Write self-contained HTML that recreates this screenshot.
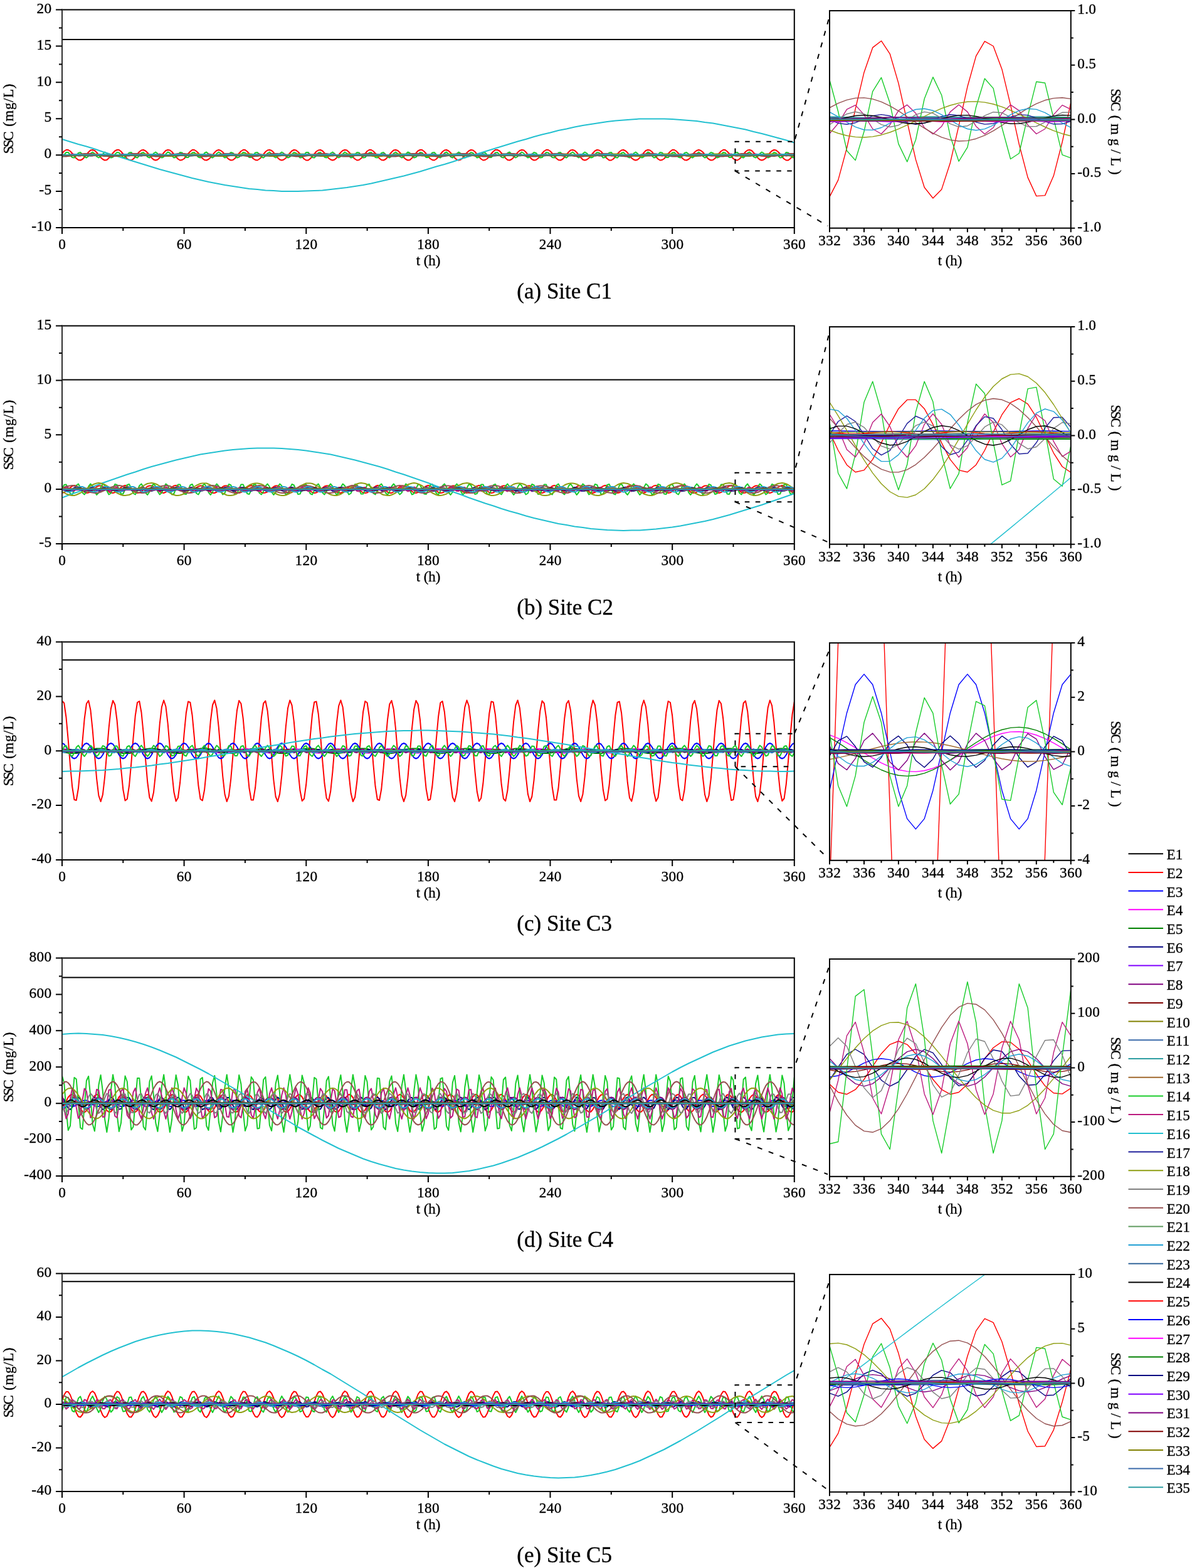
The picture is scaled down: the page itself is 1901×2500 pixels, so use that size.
<!DOCTYPE html><html><head><meta charset="utf-8"><title>SSC decomposition</title>
<style>html,body{margin:0;padding:0;background:#fff;}svg{display:block;}text{font-family:'Liberation Serif','Times New Roman',serif;fill:#000;}</style></head><body>
<svg width="1901" height="2500" viewBox="0 0 1901 2500">
<rect width="1901" height="2500" fill="#fff"/>
<defs><clipPath id="zc0"><rect x="1323.00" y="17.10" width="384.80" height="346.65"/></clipPath><clipPath id="mc0"><rect x="99.00" y="15.50" width="1167.80" height="347.50"/></clipPath></defs>
<g clip-path="url(#mc0)" fill="none" stroke-width="2" stroke-linejoin="round">
<line x1="99.0" y1="62.99" x2="1266.8" y2="62.99" stroke="#000"/>
</g>
<g clip-path="url(#mc0)"><g transform="translate(99.00 0) scale(3.24389 0.5)" fill="none" stroke-width="2" stroke-linejoin="round">
<path d="M0 489l1-7 1-4 1 0 1 4 1 7 1 9 1 7 1 5 1 1 1-3 1-7 1-8 1-8 1-6 1-1 1 2 1 6 1 8 1 8 1 6 1 3 1-1 1-6 1-8 1-8 1-7 1-3 1 0 1 5 1 8 1 8 1 7 1 4 1 1 1-4 1-7 1-9 1-7 1-5 1-1 1 3 1 6 1 8 1 8 1 6 1 2 1-2 1-6 1-8 1-8 1-7 1-2 1 1 1 5 1 8 1 8 1 7 1 4 1-1 1-4 1-8 1-8 1-7 1-5 1 0 1 4 1 6 1 9 1 8 1 5 1 1 1-3 1-6 1-8 1-8 1-6 1-2 1 2 1 5 1 8 1 9 1 6 1 3 1-1 1-5 1-8 1-8 1-7 1-4 1 0 1 5 1 7 1 8 1 8 1 4 1 1 1-4 1-6 1-9 1-8 1-5 1-1 1 2 1 6 1 9 1 8 1 6 1 2 1-2 1-5 1-8 1-8 1-7 1-3 1 1 1 5 1 7 1 8 1 8 1 4 1 0 1-5 1-7 1-8 1-8 1-4 1-1 1 3 1 7 1 8 1 8 1 5 1 2 1-2 1-6 1-9 1-8 1-6 1-2 1 1 1 6 1 7 1 9 1 6 1 4 1-1 1-5 1-7 1-8 1-8 1-4 1 0 1 4 1 7 1 8 1 8 1 5 1 1 1-3 1-7 1-8 1-8 1-6 1-1 1 2 1 6 1 8 1 8 1 6 1 3 1-1 1-6 1-7 1-9 1-7 1-3 1 0 1 5 1 7 1 9 1 7 1 4 1 1 1-4 1-7 1-8 1-8 1-5 1-1 1 3 1 6 1 8 1 8 1 6 1 2 1-2 1-6 1-8 1-8 1-6 1-3 1 1 1 5 1 8 1 8 1 7 1 4 1-1 1-4 1-7 1-9 1-7 1-5 1 0 1 3 1 7 1 8 1 8 1 6 1 1 1-3 1-6 1-8 1-8 1-6 1-2 1 1 1 6 1 8 1 8 1 7 1 3 1-1 1-5 1-7 1-9 1-7 1-4 1 0 1 4 1 7 1 9 1 7 1 5 1 1 1-3 1-7 1-8 1-8 1-6 1-1 1 2 1 6 1 8 1 8 1 7 1 2 1-2 1-5 1-8 1-8 1-7 1-3 1 1 1 4 1 8 1 8 1 7 1 5 1 0 1-4 1-7 1-9 1-7 1-5 1-1 1 3 1 6 1 9 1 8 1 5 1 2 1-2 1-6 1-8 1-8 1-7 1-2 1 1 1 5 1 8 1 8 1 7 1 4 1-1 1-4 1-8 1-8 1-7 1-5 1 0 1 4 1 7 1 8 1 8 1 5 1 1 1-3 1-6 1-9 1-8 1-5 1-2 1 2 1 5 1 8 1 9 1 6 1 3 1-1 1-5 1-8 1-8 1-7 1-4 1 0 1 5 1 7 1 8 1 8 1 4 1 1 1-4 1-7 1-8 1-8 1-5 1-1 1 2 1 7 1 8 1 8 1 6 1 2 1-2 1-5 1-8 1-9 1-6 1-3 1 1 1 5 1 7 1 9 1 7 1 4 1 0 1-5 1-7 1-8" stroke="#FF0000" vector-effect="non-scaling-stroke"/>
<path d="M0 494h360" stroke="#0000FF" vector-effect="non-scaling-stroke"/>
<path d="M0 494h360" stroke="#008000" vector-effect="non-scaling-stroke"/>
<path d="M0 494h360" stroke="#8000FF" vector-effect="non-scaling-stroke"/>
<path d="M0 494h360" stroke="#800000" vector-effect="non-scaling-stroke"/>
<path d="M0 494h360" stroke="#808000" vector-effect="non-scaling-stroke"/>
<path d="M0 494h360" stroke="#3A6AAA" vector-effect="non-scaling-stroke"/>
<path d="M0 494h360" stroke="#2E9EA2" vector-effect="non-scaling-stroke"/>
<path d="M0 494h360" stroke="#A0692E" vector-effect="non-scaling-stroke"/>
<path d="M0 502l1-8 1-8 1 0 1 8 1 8 1 1 1-7 1-8 1-2 1 6 1 8 1 3 1-5 1-9 1-4 1 5 1 9 1 4 1-4 1-8 1-6 1 4 1 8 1 6 1-2 1-9 1-6 1 1 1 8 1 7 1 0 1-8 1-7 1-1 1 7 1 8 1 2 1-7 1-8 1-2 1 6 1 8 1 3 1-5 1-9 1-4 1 5 1 9 1 4 1-3 1-9 1-6 1 3 1 9 1 6 1-2 1-8 1-7 1 1 1 8 1 7 1 0 1-7 1-8 1-1 1 7 1 8 1 2 1-6 1-9 1-3 1 6 1 9 1 3 1-5 1-8 1-5 1 4 1 9 1 5 1-3 1-9 1-5 1 2 1 8 1 7 1-2 1-8 1-7 1 1 1 7 1 8 1 0 1-7 1-8 1-1 1 6 1 9 1 2 1-6 1-8 1-4 1 6 1 8 1 4 1-4 1-9 1-5 1 4 1 9 1 5 1-3 1-8 1-6 1 2 1 8 1 7 1-1 1-8 1-8 1 0 1 8 1 8 1 1 1-7 1-9 1-1 1 6 1 9 1 2 1-5 1-9 1-4 1 5 1 9 1 4 1-4 1-8 1-6 1 4 1 8 1 6 1-2 1-9 1-6 1 1 1 8 1 8 1-1 1-8 1-7 1-1 1 7 1 9 1 1 1-7 1-8 1-2 1 6 1 8 1 3 1-5 1-9 1-4 1 5 1 9 1 4 1-3 1-9 1-6 1 3 1 9 1 6 1-2 1-8 1-7 1 1 1 8 1 7 1 0 1-7 1-8 1-1 1 7 1 8 1 2 1-6 1-9 1-3 1 6 1 9 1 3 1-5 1-8 1-5 1 4 1 9 1 5 1-3 1-9 1-5 1 2 1 8 1 7 1-2 1-8 1-7 1 1 1 7 1 8 1 0 1-7 1-8 1-1 1 7 1 8 1 2 1-6 1-9 1-3 1 6 1 8 1 4 1-4 1-9 1-5 1 4 1 9 1 5 1-3 1-8 1-6 1 2 1 8 1 7 1-1 1-8 1-8 1 1 1 7 1 8 1 1 1-7 1-9 1-1 1 6 1 9 1 2 1-6 1-8 1-4 1 5 1 9 1 4 1-4 1-9 1-5 1 4 1 8 1 6 1-2 1-9 1-6 1 1 1 8 1 8 1-1 1-8 1-7 1-1 1 8 1 8 1 1 1-7 1-8 1-2 1 6 1 8 1 3 1-5 1-9 1-4 1 5 1 9 1 4 1-3 1-9 1-6 1 3 1 9 1 6 1-2 1-8 1-7 1 1 1 8 1 7 1 0 1-7 1-8 1-1 1 7 1 8 1 2 1-7 1-8 1-2 1 5 1 9 1 3 1-5 1-8 1-5 1 5 1 8 1 5 1-3 1-9 1-5 1 2 1 8 1 7 1-2 1-8 1-7 1 1 1 8 1 7 1 0 1-7 1-8 1-1 1 7 1 8 1 2 1-6 1-9 1-3 1 6 1 9 1 3 1-4 1-9 1-5 1 4 1 9 1 5 1-3 1-8 1-6 1 2 1 8 1 7 1-1 1-8 1-8 1 1 1 7 1 8 1 1" stroke="#18CC2A" vector-effect="non-scaling-stroke"/>
<path d="M0 492l1 3 1 2 1-1 1-3 1-2 1 1 1 3 1 2 1 0 1-3 1-3 1 1 1 3 1 2 1 0 1-3 1-2 1 0 1 2 1 3 1 0 1-3 1-2 1 0 1 2 1 3 1 0 1-2 1-3 1-1 1 3 1 3 1 0 1-2 1-3 1-1 1 2 1 3 1 1 1-2 1-3 1-1 1 2 1 3 1 1 1-1 1-3 1-2 1 2 1 3 1 1 1-1 1-3 1-2 1 2 1 3 1 1 1-1 1-3 1-2 1 1 1 3 1 2 1-1 1-3 1-2 1 1 1 3 1 2 1 0 1-3 1-3 1 1 1 3 1 2 1 0 1-3 1-2 1 0 1 2 1 3 1 0 1-3 1-2 1 0 1 2 1 3 1 0 1-2 1-3 1-1 1 3 1 3 1 0 1-2 1-3 1-1 1 2 1 3 1 1 1-2 1-3 1-1 1 2 1 3 1 1 1-1 1-3 1-2 1 2 1 3 1 1 1-1 1-3 1-2 1 1 1 4 1 1 1-1 1-3 1-2 1 1 1 3 1 2 1 0 1-3 1-3 1 1 1 3 1 2 1 0 1-3 1-3 1 1 1 3 1 2 1 0 1-3 1-2 1 0 1 2 1 3 1 0 1-2 1-3 1-1 1 3 1 3 1 0 1-2 1-3 1-1 1 3 1 3 1 0 1-2 1-3 1-1 1 2 1 3 1 1 1-1 1-4 1-1 1 2 1 3 1 1 1-1 1-3 1-2 1 2 1 3 1 1 1-1 1-3 1-2 1 1 1 3 1 2 1-1 1-3 1-2 1 1 1 3 1 2 1 0 1-3 1-3 1 1 1 3 1 2 1 0 1-3 1-2 1 0 1 2 1 3 1 0 1-3 1-2 1 0 1 2 1 3 1 0 1-2 1-3 1-1 1 3 1 3 1 0 1-2 1-3 1-1 1 3 1 2 1 1 1-2 1-3 1-1 1 2 1 3 1 1 1-1 1-3 1-2 1 2 1 3 1 1 1-1 1-3 1-2 1 2 1 3 1 1 1-1 1-3 1-2 1 1 1 3 1 2 1-1 1-3 1-2 1 1 1 3 1 2 1 0 1-3 1-3 1 1 1 3 1 2 1 0 1-3 1-2 1 0 1 2 1 3 1 0 1-3 1-2 1 0 1 2 1 3 1 0 1-2 1-3 1-1 1 3 1 3 1 0 1-2 1-3 1-1 1 2 1 3 1 1 1-2 1-3 1-1 1 2 1 3 1 1 1-1 1-3 1-2 1 2 1 3 1 1 1-1 1-3 1-2 1 2 1 3 1 1 1-1 1-3 1-2 1 1 1 3 1 2 1 0 1-3 1-3 1 1 1 3 1 2 1 0 1-3 1-3 1 1 1 3 1 2 1 0 1-3 1-2 1 0 1 2 1 3 1 0 1-2 1-3 1-1 1 3 1 3 1 0 1-2 1-3 1-1 1 3 1 3 1 0 1-2 1-3 1-1 1 2 1 3 1 1 1-2 1-3 1-1 1 2 1 3 1 1 1-1 1-3 1-2 1 2 1 3 1 1 1-1 1-3 1-2 1 1 1 3 1 2 1-1 1-3 1-2 1 1" stroke="#BB1A7E" vector-effect="non-scaling-stroke"/>
<path d="M0 444l4 8 4 8 4 7 4 8 4 9 4 8 4 8 4 8 4 8 4 8 4 8 4 8 4 7 4 7 4 7 4 7 4 6 4 6 4 5 4 5 4 4 4 4 4 4 4 2 4 3 4 1 4 2 4 0 4 0 4-1 4-1 4-1 4-3 4-3 4-3 4-4 4-4 4-5 4-6 4-6 4-6 4-6 4-7 4-7 4-8 4-8 4-7 4-8 4-9 4-8 4-8 4-8 4-8 4-8 4-8 4-8 4-7 4-8 4-7 4-6 4-7 4-5 4-6 4-5 4-4 4-4 4-4 4-3 4-2 4-2 4-2 4 0 4 0 4 0 4 1 4 2 4 2 4 2 4 4 4 3 4 5 4 5 4 5 4 5 4 7 4 6 4 7 4 7 4 7 4 8" stroke="#22C0D0" vector-effect="non-scaling-stroke"/>
<path d="M0 494h360" stroke="#1E1E9A" vector-effect="non-scaling-stroke"/>
<path d="M0 498l1 0 1 0 1-1 1 0 1-1 1-1 1-1 1-1 1-1 1 0 1-1 1 0 1 0 1 0 1 0 1 0 1 1 1 1 1 1 1 1 1 1 1 0 1 1 1 1 1 0 1 0 1 0 1 0 1-1 1-1 1 0 1-1 1-1 1-1 1-1 1-1 1 0 1 0 1 0 1 0 1 0 1 1 1 0 1 1 1 1 1 1 1 1 1 1 1 0 1 1 1 0 1 0 1 0 1 0 1-1 1-1 1 0 1-1 1-1 1-1 1-1 1-1 1 0 1 0 1 0 1 0 1 0 1 1 1 0 1 1 1 1 1 1 1 1 1 1 1 0 1 1 1 0 1 0 1 0 1 0 1-1 1-1 1-1 1-1 1-1 1 0 1-1 1-1 1 0 1 0 1 0 1 0 1 0 1 1 1 1 1 0 1 1 1 1 1 1 1 1 1 0 1 1 1 0 1 0 1 0 1-1 1 0 1-1 1-1 1-1 1-1 1-1 1 0 1-1 1 0 1 0 1 0 1 0 1 0 1 1 1 1 1 1 1 0 1 1 1 1 1 1 1 1 1 0 1 0 1 0 1 0 1-1 1 0 1-1 1-1 1-1 1-1 1-1 1 0 1-1 1 0 1 0 1 0 1 0 1 0 1 1 1 1 1 1 1 1 1 1 1 0 1 1 1 1 1 0 1 0 1 0 1 0 1-1 1 0 1-1 1-1 1-1 1-1 1-1 1-1 1 0 1 0 1 0 1 0 1 0 1 0 1 1 1 1 1 1 1 1 1 1 1 1 1 0 1 1 1 0 1 0 1 0 1 0 1-1 1-1 1 0 1-1 1-1 1-1 1-1 1-1 1 0 1 0 1 0 1 0 1 0 1 1 1 0 1 1 1 1 1 1 1 1 1 1 1 0 1 1 1 0 1 0 1 0 1 0 1-1 1-1 1-1 1 0 1-1 1-1 1-1 1-1 1 0 1 0 1 0 1 0 1 0 1 1 1 0 1 1 1 1 1 1 1 1 1 1 1 0 1 1 1 0 1 0 1 0 1 0 1-1 1-1 1-1 1-1 1-1 1 0 1-1 1-1 1 0 1 0 1 0 1 0 1 0 1 1 1 1 1 0 1 1 1 1 1 1 1 1 1 1 1 0 1 0 1 0 1 0 1-1 1 0 1-1 1-1 1-1 1-1 1-1 1 0 1-1 1 0 1 0 1 0 1 0 1 0 1 1 1 1 1 1 1 1 1 0 1 1 1 1 1 1 1 0 1 0 1 0 1 0 1-1 1 0 1-1 1-1 1-1 1-1 1-1 1 0 1-1 1 0 1 0 1 0 1 0 1 0 1 1 1 1 1 1 1 1 1 1 1 0 1 1 1 1 1 0 1 0 1 0 1 0 1-1 1-1 1 0 1-1 1-1 1-1 1-1 1-1 1 0 1 0 1 0 1 0 1 0 1 1 1 0 1 1 1 1 1 1 1 1 1 1 1 0 1 1 1 0 1 0 1 0 1 0 1-1 1-1 1 0 1-1 1-1 1-1 1-1 1-1 1 0 1 0 1 0 1 0 1 0 1 1 1 0 1 1 1 1 1 1 1 1 1 1 1 0 1 1" stroke="#8E9E12" vector-effect="non-scaling-stroke"/>
<path d="M0 493l1 0 1 2 1 1 1 0 1-1 1-1 1-1 1 0 1 0 1 1 1 1 1 1 1 0 1-2 1-1 1 0 1 0 1 1 1 1 1 1 1 0 1-1 1-2 1 0 1 0 1 1 1 1 1 1 1 0 1-1 1-1 1-1 1 0 1 1 1 1 1 1 1 0 1-1 1-1 1-1 1 0 1 1 1 1 1 1 1 0 1-1 1-1 1-1 1 0 1 0 1 2 1 1 1 0 1-1 1-1 1-1 1 0 1 0 1 1 1 1 1 1 1 0 1-2 1-1 1 0 1 0 1 1 1 1 1 1 1 0 1-1 1-2 1 0 1 0 1 1 1 1 1 1 1 0 1-1 1-1 1-1 1 0 1 1 1 1 1 1 1 0 1-1 1-1 1-1 1 0 1 0 1 2 1 1 1 0 1-1 1-1 1-1 1 0 1 0 1 1 1 2 1 0 1-1 1-1 1-1 1 0 1 0 1 1 1 1 1 1 1 0 1-1 1-2 1 0 1 0 1 1 1 1 1 1 1 0 1-1 1-1 1-1 1 0 1 1 1 1 1 1 1 0 1-1 1-1 1-1 1 0 1 1 1 1 1 1 1 0 1-1 1-1 1-1 1 0 1 0 1 2 1 1 1 0 1-1 1-1 1-1 1 0 1 0 1 1 1 1 1 1 1 0 1-2 1-1 1 0 1 0 1 1 1 1 1 1 1 0 1-1 1-2 1 0 1 0 1 1 1 1 1 1 1 0 1-1 1-1 1-1 1 0 1 1 1 1 1 1 1 0 1-1 1-1 1-1 1 0 1 1 1 1 1 1 1 0 1-1 1-1 1-1 1 0 1 0 1 2 1 1 1 0 1-1 1-1 1-1 1 0 1 0 1 1 1 1 1 1 1 0 1-2 1-1 1 0 1 0 1 1 1 1 1 1 1 0 1-1 1-1 1-1 1 0 1 1 1 1 1 1 1 0 1-1 1-1 1-1 1 0 1 1 1 1 1 1 1 0 1-1 1-1 1-1 1 0 1 0 1 2 1 1 1 0 1-1 1-1 1-1 1 0 1 0 1 1 1 2 1 0 1-1 1-1 1-1 1 0 1 0 1 1 1 1 1 1 1 0 1-1 1-2 1 0 1 0 1 1 1 1 1 1 1 0 1-1 1-1 1-1 1 0 1 1 1 1 1 1 1 0 1-1 1-1 1-1 1 0 1 1 1 1 1 1 1 0 1-1 1-1 1-1 1 0 1 0 1 2 1 1 1 0 1-1 1-1 1-1 1 0 1 0 1 1 1 1 1 1 1 0 1-2 1-1 1 0 1 0 1 1 1 1 1 1 1 0 1-1 1-2 1 0 1 0 1 1 1 1 1 1 1 0 1-1 1-1 1-1 1 0 1 1 1 1 1 1 1 0 1-1 1-1 1-1 1 0 1 1 1 1 1 1 1 0 1-1 1-1 1-1 1 0 1 0 1 1 1 2 1 0 1-1 1-1 1-1 1 0 1 0 1 1 1 1 1 1 1 0 1-2 1-1 1 0 1 0 1 1 1 1 1 1 1 0 1-1 1-1 1-1 1 0 1 1 1 1 1 1 1 0 1-1 1-1 1-1 1 0" stroke="#808080" vector-effect="non-scaling-stroke"/>
<path d="M0 499l1 0 1 0 1-1 1-1 1-1 1-1 1-1 1-1 1-2 1 0 1-1 1 0 1 0 1 0 1 1 1 1 1 1 1 1 1 1 1 2 1 1 1 0 1 1 1 0 1 0 1-1 1-1 1-1 1-1 1-1 1-1 1-1 1-1 1-1 1 0 1 0 1 0 1 1 1 1 1 1 1 1 1 1 1 2 1 1 1 0 1 1 1 0 1 0 1-1 1-1 1-1 1-1 1-1 1-1 1-1 1-1 1-1 1 0 1 0 1 0 1 1 1 1 1 1 1 1 1 1 1 1 1 1 1 1 1 1 1 0 1 0 1-1 1 0 1-1 1-2 1-1 1-1 1-1 1-1 1-1 1 0 1 0 1 0 1 1 1 1 1 1 1 1 1 1 1 1 1 1 1 1 1 1 1 0 1 0 1-1 1 0 1-1 1-1 1-2 1-1 1-1 1-1 1-1 1 0 1 0 1 0 1 1 1 0 1 2 1 1 1 1 1 1 1 1 1 1 1 1 1 0 1 0 1-1 1 0 1-1 1-1 1-2 1-1 1-1 1-1 1-1 1 0 1 0 1 0 1 0 1 1 1 1 1 2 1 1 1 1 1 1 1 1 1 1 1 0 1 0 1 0 1-1 1-1 1-1 1-1 1-2 1-1 1-1 1-1 1 0 1 0 1 0 1 0 1 1 1 1 1 1 1 2 1 1 1 1 1 1 1 1 1 0 1 0 1 0 1-1 1-1 1-1 1-1 1-2 1-1 1-1 1-1 1 0 1 0 1 0 1 0 1 1 1 1 1 1 1 2 1 1 1 1 1 1 1 1 1 0 1 0 1 0 1-1 1-1 1-1 1-1 1-1 1-2 1-1 1-1 1 0 1 0 1 0 1 0 1 1 1 1 1 1 1 1 1 2 1 1 1 1 1 1 1 0 1 0 1 0 1-1 1-1 1-1 1-1 1-1 1-2 1-1 1 0 1-1 1 0 1 0 1 0 1 1 1 1 1 1 1 1 1 2 1 1 1 1 1 0 1 1 1 0 1 0 1-1 1-1 1-1 1-1 1-1 1-1 1-2 1 0 1-1 1 0 1 0 1 0 1 1 1 1 1 1 1 1 1 1 1 2 1 1 1 0 1 1 1 0 1 0 1-1 1-1 1-1 1-1 1-1 1-1 1-1 1-1 1-1 1 0 1 0 1 0 1 1 1 1 1 1 1 1 1 1 1 2 1 1 1 0 1 1 1 0 1 0 1-1 1-1 1-1 1-1 1-1 1-1 1-1 1-1 1-1 1 0 1 0 1 0 1 1 1 1 1 1 1 1 1 1 1 1 1 1 1 1 1 1 1 0 1 0 1-1 1 0 1-1 1-2 1-1 1-1 1-1 1-1 1-1 1 0 1 0 1 0 1 1 1 1 1 1 1 1 1 1 1 1 1 1 1 1 1 1 1 0 1 0 1-1 1 0 1-1 1-2 1-1 1-1 1-1 1-1 1-1 1 0 1 0 1 0 1 1 1 0 1 2 1 1 1 1 1 1 1 1 1 1 1 1 1 0 1 0 1-1 1 0 1-1 1-1 1-2 1-1 1-1 1-1 1-1 1 0 1 0 1 0" stroke="#955050" vector-effect="non-scaling-stroke"/>
<path d="M0 495h360" stroke="#5E9A5E" vector-effect="non-scaling-stroke"/>
<path d="M0 496l1 1 1-1 1 0 1-1 1-1 1-1 1-1 1 0 1 1 1 1 1 1 1 1 1 1 1 0 1-1 1-1 1-1 1-1 1-1 1 0 1 0 1 1 1 1 1 1 1 1 1 1 1-1 1 0 1-1 1-2 1-1 1 0 1 0 1 1 1 1 1 1 1 1 1 1 1 0 1-1 1-1 1-1 1-1 1-1 1 0 1 0 1 1 1 2 1 1 1 0 1 1 1-1 1-1 1-1 1-1 1-1 1 0 1 0 1 1 1 1 1 1 1 1 1 1 1 0 1-1 1-1 1-1 1-1 1-1 1 0 1 1 1 1 1 1 1 1 1 0 1 1 1-1 1-1 1-1 1-1 1-1 1 0 1 0 1 1 1 1 1 1 1 1 1 1 1-1 1 0 1-1 1-1 1-1 1-1 1 0 1 1 1 1 1 1 1 1 1 1 1 0 1-1 1-1 1-1 1-1 1-1 1 0 1 0 1 1 1 1 1 2 1 0 1 1 1-1 1 0 1-2 1-1 1-1 1 0 1 0 1 1 1 1 1 1 1 1 1 1 1 0 1-1 1-1 1-1 1-1 1-1 1 0 1 1 1 0 1 2 1 1 1 0 1 1 1-1 1-1 1-1 1-1 1-1 1 0 1 0 1 1 1 1 1 1 1 1 1 1 1 0 1-1 1-1 1-1 1-1 1-1 1 0 1 1 1 1 1 1 1 1 1 1 1 0 1-1 1-1 1-1 1-1 1-1 1 0 1 0 1 1 1 1 1 1 1 1 1 1 1-1 1 0 1-1 1-2 1 0 1-1 1 0 1 1 1 1 1 1 1 1 1 1 1 0 1-1 1-1 1-1 1-1 1-1 1 0 1 0 1 1 1 1 1 2 1 0 1 1 1-1 1 0 1-2 1-1 1-1 1 0 1 0 1 1 1 1 1 1 1 1 1 1 1 0 1-1 1-1 1-1 1-1 1-1 1 0 1 1 1 1 1 1 1 1 1 0 1 1 1-1 1-1 1-1 1-1 1-1 1 0 1 0 1 1 1 1 1 1 1 1 1 1 1-1 1 0 1-1 1-1 1-1 1-1 1 0 1 1 1 1 1 1 1 1 1 1 1 0 1-1 1-1 1-1 1-1 1-1 1 0 1 0 1 1 1 1 1 1 1 1 1 1 1-1 1 0 1-1 1-2 1-1 1 0 1 0 1 1 1 1 1 1 1 1 1 1 1 0 1-1 1-1 1-1 1-1 1-1 1 0 1 0 1 1 1 2 1 1 1 0 1 1 1-1 1-1 1-1 1-1 1-1 1 0 1 0 1 1 1 1 1 1 1 1 1 1 1 0 1-1 1-1 1-1 1-1 1-1 1 0 1 1 1 1 1 1 1 1 1 0 1 1 1-1 1-1 1-1 1-1 1-1 1 0 1 0 1 1 1 1 1 1 1 1 1 1 1-1 1 0 1-1 1-1 1-1 1-1 1 0 1 1 1 1 1 1 1 1 1 1 1 0 1-1 1-1 1-1 1-1 1-1 1 0 1 0 1 1 1 1 1 2 1 0 1 1 1-1 1 0 1-2 1-1 1-1 1 0 1 0 1 1 1 1 1 1 1 1" stroke="#22A0D4" vector-effect="non-scaling-stroke"/>
<path d="M0 494h360" stroke="#33669A" vector-effect="non-scaling-stroke"/>
<path d="M0 494h360" stroke="#000000" vector-effect="non-scaling-stroke"/>
<path d="M0 495h360" stroke="#FF0000" vector-effect="non-scaling-stroke"/>
<path d="M0 494h360" stroke="#0000FF" vector-effect="non-scaling-stroke"/>
<path d="M0 495h360" stroke="#FF00FF" vector-effect="non-scaling-stroke"/>
<path d="M0 494h360" stroke="#008000" vector-effect="non-scaling-stroke"/>
<path d="M0 495h360" stroke="#000080" vector-effect="non-scaling-stroke"/>
<path d="M0 494h360" stroke="#8000FF" vector-effect="non-scaling-stroke"/>
<path d="M0 494h360" stroke="#800080" vector-effect="non-scaling-stroke"/>
<path d="M0 495h360" stroke="#800000" vector-effect="non-scaling-stroke"/>
<path d="M0 495h360" stroke="#808000" vector-effect="non-scaling-stroke"/>
<path d="M0 494h360" stroke="#3A6AAA" vector-effect="non-scaling-stroke"/>
<path d="M0 494h360" stroke="#2E9EA2" vector-effect="non-scaling-stroke"/>
</g>
</g>
<g clip-path="url(#zc0)" fill="none" stroke-width="1.4" stroke-linejoin="round">
<polyline points="1323.0,313.9 1336.7,287.1 1350.5,236.1 1364.2,173.6 1378.0,115.4 1391.7,75.9 1405.5,65.2 1419.2,85.8 1432.9,132.6 1446.7,193.9 1460.4,254.4 1474.2,298.8 1487.9,316.0 1501.7,301.9 1515.4,259.7 1529.1,200.3 1542.9,138.3 1556.6,89.4 1570.4,65.8 1584.1,73.5 1597.9,110.4 1611.6,167.4 1625.3,230.1 1639.1,282.9 1652.8,312.6 1666.6,311.6 1680.3,280.3 1694.1,226.5 1707.8,163.6" stroke="#FF0000"/>
<polyline points="1323.0,188.2 1336.7,187.3 1350.5,187.3 1364.2,188.1 1378.0,189.1 1391.7,189.2 1405.5,188.4 1419.2,187.4 1432.9,187.2 1446.7,187.9 1460.4,188.9 1474.2,189.3 1487.9,188.6 1501.7,187.6 1515.4,187.2 1529.1,187.7 1542.9,188.7 1556.6,189.3 1570.4,188.8 1584.1,187.8 1597.9,187.2 1611.6,187.5 1625.3,188.5 1639.1,189.2 1652.8,189.0 1666.6,188.0 1680.3,187.2 1694.1,187.4 1707.8,188.3" stroke="#0000FF"/>
<polyline points="1323.0,188.3 1336.7,188.2 1350.5,188.0 1364.2,187.9 1378.0,187.8 1391.7,187.6 1405.5,187.5 1419.2,187.4 1432.9,187.3 1446.7,187.2 1460.4,187.1 1474.2,187.0 1487.9,186.9 1501.7,186.9 1515.4,186.9 1529.1,186.9 1542.9,186.9 1556.6,186.9 1570.4,187.0 1584.1,187.0 1597.9,187.1 1611.6,187.2 1625.3,187.3 1639.1,187.5 1652.8,187.6 1666.6,187.7 1680.3,187.8 1694.1,188.0 1707.8,188.1" stroke="#008000"/>
<polyline points="1323.0,190.1 1336.7,190.2 1350.5,190.3 1364.2,190.4 1378.0,190.5 1391.7,190.5 1405.5,190.4 1419.2,190.3 1432.9,190.2 1446.7,190.1 1460.4,190.0 1474.2,190.0 1487.9,190.1 1501.7,190.1 1515.4,190.2 1529.1,190.4 1542.9,190.4 1556.6,190.5 1570.4,190.4 1584.1,190.4 1597.9,190.3 1611.6,190.2 1625.3,190.1 1639.1,190.0 1652.8,190.0 1666.6,190.1 1680.3,190.2 1694.1,190.3 1707.8,190.4" stroke="#8000FF"/>
<polyline points="1323.0,191.6 1336.7,191.0 1350.5,190.5 1364.2,190.2 1378.0,190.1 1391.7,190.3 1405.5,190.7 1419.2,191.2 1432.9,191.7 1446.7,192.1 1460.4,192.2 1474.2,192.1 1487.9,191.8 1501.7,191.3 1515.4,190.7 1529.1,190.3 1542.9,190.1 1556.6,190.2 1570.4,190.5 1584.1,191.0 1597.9,191.5 1611.6,191.9 1625.3,192.2 1639.1,192.2 1652.8,191.9 1666.6,191.5 1680.3,191.0 1694.1,190.5 1707.8,190.2" stroke="#800000"/>
<polyline points="1323.0,190.0 1336.7,189.9 1350.5,190.0 1364.2,190.3 1378.0,190.7 1391.7,191.1 1405.5,191.5 1419.2,191.6 1432.9,191.5 1446.7,191.2 1460.4,190.8 1474.2,190.4 1487.9,190.0 1501.7,189.9 1515.4,190.0 1529.1,190.3 1542.9,190.7 1556.6,191.1 1570.4,191.5 1584.1,191.6 1597.9,191.5 1611.6,191.2 1625.3,190.8 1639.1,190.4 1652.8,190.0 1666.6,189.9 1680.3,190.0 1694.1,190.3 1707.8,190.7" stroke="#808000"/>
<polyline points="1323.0,187.1 1336.7,187.2 1350.5,187.3 1364.2,187.4 1378.0,187.5 1391.7,187.6 1405.5,187.6 1419.2,187.5 1432.9,187.5 1446.7,187.4 1460.4,187.2 1474.2,187.2 1487.9,187.1 1501.7,187.2 1515.4,187.2 1529.1,187.3 1542.9,187.4 1556.6,187.5 1570.4,187.6 1584.1,187.6 1597.9,187.5 1611.6,187.4 1625.3,187.3 1639.1,187.2 1652.8,187.1 1666.6,187.1 1680.3,187.2 1694.1,187.3 1707.8,187.4" stroke="#3A6AAA"/>
<polyline points="1323.0,186.0 1336.7,186.3 1350.5,186.7 1364.2,187.2 1378.0,187.6 1391.7,187.8 1405.5,187.8 1419.2,187.6 1432.9,187.2 1446.7,186.7 1460.4,186.3 1474.2,186.0 1487.9,185.9 1501.7,186.1 1515.4,186.4 1529.1,186.9 1542.9,187.3 1556.6,187.7 1570.4,187.9 1584.1,187.8 1597.9,187.5 1611.6,187.1 1625.3,186.6 1639.1,186.2 1652.8,185.9 1666.6,185.9 1680.3,186.2 1694.1,186.6 1707.8,187.0" stroke="#2E9EA2"/>
<polyline points="1323.0,189.8 1336.7,189.9 1350.5,190.0 1364.2,190.1 1378.0,190.2 1391.7,190.3 1405.5,190.4 1419.2,190.5 1432.9,190.6 1446.7,190.7 1460.4,190.7 1474.2,190.8 1487.9,190.9 1501.7,190.9 1515.4,191.0 1529.1,191.0 1542.9,191.0 1556.6,191.0 1570.4,191.0 1584.1,191.0 1597.9,190.9 1611.6,190.9 1625.3,190.8 1639.1,190.7 1652.8,190.7 1666.6,190.6 1680.3,190.5 1694.1,190.4 1707.8,190.3" stroke="#A0692E"/>
<polyline points="1323.0,127.5 1336.7,178.0 1350.5,240.2 1364.2,255.6 1378.0,209.8 1391.7,145.8 1405.5,123.7 1419.2,164.3 1432.9,229.4 1446.7,257.9 1460.4,223.0 1474.2,157.5 1487.9,122.9 1501.7,151.7 1515.4,216.9 1529.1,257.2 1542.9,234.8 1556.6,170.7 1570.4,125.2 1584.1,140.9 1597.9,203.2 1611.6,253.5 1625.3,244.5 1639.1,184.8 1652.8,130.3 1666.6,132.3 1680.3,188.9 1694.1,246.9 1707.8,251.9" stroke="#18CC2A"/>
<polyline points="1323.0,213.0 1336.7,196.8 1350.5,174.4 1364.2,167.6 1378.0,182.9 1391.7,205.5 1405.5,213.5 1419.2,199.2 1432.9,176.3 1446.7,167.2 1460.4,180.6 1474.2,203.5 1487.9,213.8 1501.7,201.4 1515.4,178.4 1529.1,167.0 1542.9,178.4 1556.6,201.4 1570.4,213.8 1584.1,203.5 1597.9,180.6 1611.6,167.2 1625.3,176.3 1639.1,199.2 1652.8,213.5 1666.6,205.5 1680.3,182.9 1694.1,167.6 1707.8,174.4" stroke="#BB1A7E"/>
<polyline points="1323.0,-457.1 1336.7,-446.8 1350.5,-436.3 1364.2,-425.6 1378.0,-414.7 1391.7,-403.6 1405.5,-392.3 1419.2,-380.8 1432.9,-369.2 1446.7,-357.4 1460.4,-345.4 1474.2,-333.2 1487.9,-320.9 1501.7,-308.4 1515.4,-295.8 1529.1,-283.0 1542.9,-270.0 1556.6,-256.9 1570.4,-243.7 1584.1,-230.3 1597.9,-216.8 1611.6,-203.2 1625.3,-189.5 1639.1,-175.6 1652.8,-161.6 1666.6,-147.5 1680.3,-133.3 1694.1,-119.0 1707.8,-104.6" stroke="#22C0D0"/>
<polyline points="1323.0,191.2 1336.7,196.4 1350.5,198.2 1364.2,195.7 1378.0,190.2 1391.7,184.8 1405.5,182.6 1419.2,184.8 1432.9,190.2 1446.7,195.7 1460.4,198.2 1474.2,196.4 1487.9,191.2 1501.7,185.6 1515.4,182.7 1529.1,184.1 1542.9,189.1 1556.6,194.8 1570.4,198.1 1584.1,197.0 1597.9,192.3 1611.6,186.5 1625.3,182.9 1639.1,183.6 1652.8,188.1 1666.6,193.9 1680.3,197.8 1694.1,197.5 1707.8,193.3" stroke="#1E1E9A"/>
<polyline points="1323.0,207.4 1336.7,212.5 1350.5,216.2 1364.2,218.4 1378.0,219.0 1391.7,217.9 1405.5,215.2 1419.2,211.0 1432.9,205.6 1446.7,199.3 1460.4,192.5 1474.2,185.5 1487.9,178.9 1501.7,172.9 1515.4,168.0 1529.1,164.4 1542.9,162.3 1556.6,161.9 1570.4,163.1 1584.1,166.0 1597.9,170.3 1611.6,175.8 1625.3,182.2 1639.1,189.0 1652.8,195.9 1666.6,202.5 1680.3,208.4 1694.1,213.2 1707.8,216.7" stroke="#8E9E12"/>
<polyline points="1323.0,198.6 1336.7,190.0 1350.5,181.7 1364.2,178.3 1378.0,181.7 1391.7,190.0 1405.5,198.6 1419.2,202.5 1432.9,199.7 1446.7,191.7 1460.4,182.9 1474.2,178.4 1487.9,180.6 1501.7,188.4 1515.4,197.3 1529.1,202.3 1542.9,200.7 1556.6,193.3 1570.4,184.3 1584.1,178.7 1597.9,179.8 1611.6,186.8 1625.3,195.8 1639.1,201.9 1652.8,201.5 1666.6,194.9 1680.3,185.8 1694.1,179.3 1707.8,179.1" stroke="#808080"/>
<polyline points="1323.0,171.9 1336.7,164.7 1350.5,159.4 1364.2,156.4 1378.0,155.9 1391.7,157.9 1405.5,162.3 1419.2,168.8 1432.9,176.9 1446.7,186.0 1460.4,195.4 1474.2,204.4 1487.9,212.4 1501.7,218.8 1515.4,223.1 1529.1,225.0 1542.9,224.4 1556.6,221.2 1570.4,215.8 1584.1,208.6 1597.9,200.0 1611.6,190.6 1625.3,181.3 1639.1,172.7 1652.8,165.3 1666.6,159.8 1680.3,156.6 1694.1,155.8 1707.8,157.6" stroke="#955050"/>
<polyline points="1323.0,191.3 1336.7,191.4 1350.5,191.5 1364.2,191.6 1378.0,191.7 1391.7,191.8 1405.5,192.0 1419.2,192.1 1432.9,192.2 1446.7,192.3 1460.4,192.4 1474.2,192.5 1487.9,192.6 1501.7,192.7 1515.4,192.8 1529.1,192.8 1542.9,192.9 1556.6,192.9 1570.4,192.9 1584.1,192.9 1597.9,192.8 1611.6,192.8 1625.3,192.7 1639.1,192.7 1652.8,192.6 1666.6,192.5 1680.3,192.4 1694.1,192.3 1707.8,192.1" stroke="#5E9A5E"/>
<polyline points="1323.0,178.6 1336.7,186.2 1350.5,194.9 1364.2,202.4 1378.0,207.0 1391.7,207.4 1405.5,203.5 1419.2,196.4 1432.9,187.8 1446.7,179.8 1460.4,174.5 1474.2,173.2 1487.9,176.2 1501.7,182.8 1515.4,191.3 1529.1,199.5 1542.9,205.5 1556.6,207.8 1570.4,205.6 1584.1,199.7 1597.9,191.4 1611.6,182.9 1625.3,176.3 1639.1,173.2 1652.8,174.4 1666.6,179.7 1680.3,187.6 1694.1,196.2 1707.8,203.4" stroke="#22A0D4"/>
<polyline points="1323.0,191.1 1336.7,191.7 1350.5,192.1 1364.2,192.2 1378.0,192.0 1391.7,191.6 1405.5,191.0 1419.2,190.4 1432.9,189.9 1446.7,189.7 1460.4,189.8 1474.2,190.1 1487.9,190.7 1501.7,191.3 1515.4,191.8 1529.1,192.1 1542.9,192.2 1556.6,191.9 1570.4,191.4 1584.1,190.8 1597.9,190.2 1611.6,189.8 1625.3,189.7 1639.1,189.9 1652.8,190.3 1666.6,190.9 1680.3,191.5 1694.1,192.0 1707.8,192.2" stroke="#33669A"/>
<polyline points="1323.0,194.3 1336.7,190.8 1350.5,187.2 1364.2,184.5 1378.0,183.5 1391.7,184.5 1405.5,187.2 1419.2,190.8 1432.9,194.3 1446.7,196.7 1460.4,197.3 1474.2,196.0 1487.9,193.0 1501.7,189.3 1515.4,186.0 1529.1,183.9 1542.9,183.6 1556.6,185.4 1570.4,188.5 1584.1,192.2 1597.9,195.4 1611.6,197.2 1625.3,197.0 1639.1,194.9 1652.8,191.6 1666.6,187.9 1680.3,184.9 1694.1,183.5 1707.8,184.1" stroke="#000000"/>
<polyline points="1323.0,192.8 1336.7,192.5 1350.5,192.3 1364.2,192.6 1378.0,193.0 1391.7,193.1 1405.5,192.9 1419.2,192.5 1432.9,192.3 1446.7,192.5 1460.4,192.9 1474.2,193.1 1487.9,193.0 1501.7,192.6 1515.4,192.3 1529.1,192.4 1542.9,192.8 1556.6,193.1 1570.4,193.0 1584.1,192.7 1597.9,192.4 1611.6,192.4 1625.3,192.7 1639.1,193.1 1652.8,193.1 1666.6,192.8 1680.3,192.4 1694.1,192.4 1707.8,192.7" stroke="#FF0000"/>
<polyline points="1323.0,190.9 1336.7,190.9 1350.5,191.0 1364.2,191.0 1378.0,191.1 1391.7,191.1 1405.5,191.2 1419.2,191.3 1432.9,191.3 1446.7,191.4 1460.4,191.4 1474.2,191.5 1487.9,191.6 1501.7,191.6 1515.4,191.6 1529.1,191.7 1542.9,191.7 1556.6,191.8 1570.4,191.8 1584.1,191.8 1597.9,191.8 1611.6,191.8 1625.3,191.9 1639.1,191.8 1652.8,191.8 1666.6,191.8 1680.3,191.8 1694.1,191.8 1707.8,191.8" stroke="#0000FF"/>
<polyline points="1323.0,193.8 1336.7,194.2 1350.5,193.8 1364.2,192.8 1378.0,192.3 1391.7,192.7 1405.5,193.6 1419.2,194.2 1432.9,193.9 1446.7,193.0 1460.4,192.4 1474.2,192.6 1487.9,193.4 1501.7,194.2 1515.4,194.1 1529.1,193.2 1542.9,192.4 1556.6,192.4 1570.4,193.2 1584.1,194.1 1597.9,194.2 1611.6,193.4 1625.3,192.6 1639.1,192.4 1652.8,193.0 1666.6,193.9 1680.3,194.2 1694.1,193.6 1707.8,192.7" stroke="#FF00FF"/>
<polyline points="1323.0,189.5 1336.7,189.7 1350.5,189.8 1364.2,189.9 1378.0,190.0 1391.7,190.1 1405.5,190.2 1419.2,190.2 1432.9,190.2 1446.7,190.2 1460.4,190.2 1474.2,190.1 1487.9,190.0 1501.7,190.0 1515.4,189.8 1529.1,189.7 1542.9,189.6 1556.6,189.4 1570.4,189.3 1584.1,189.1 1597.9,188.9 1611.6,188.8 1625.3,188.6 1639.1,188.4 1652.8,188.3 1666.6,188.1 1680.3,188.0 1694.1,187.9 1707.8,187.8" stroke="#008000"/>
<polyline points="1323.0,192.7 1336.7,192.8 1350.5,192.8 1364.2,192.9 1378.0,192.9 1391.7,192.9 1405.5,192.9 1419.2,192.9 1432.9,192.9 1446.7,192.9 1460.4,192.8 1474.2,192.8 1487.9,192.7 1501.7,192.7 1515.4,192.6 1529.1,192.6 1542.9,192.5 1556.6,192.5 1570.4,192.5 1584.1,192.5 1597.9,192.5 1611.6,192.5 1625.3,192.5 1639.1,192.6 1652.8,192.6 1666.6,192.7 1680.3,192.7 1694.1,192.8 1707.8,192.8" stroke="#000080"/>
<polyline points="1323.0,191.2 1336.7,191.1 1350.5,191.1 1364.2,191.0 1378.0,190.9 1391.7,190.7 1405.5,190.5 1419.2,190.4 1432.9,190.2 1446.7,190.1 1460.4,189.9 1474.2,189.9 1487.9,189.8 1501.7,189.9 1515.4,189.9 1529.1,190.0 1542.9,190.2 1556.6,190.3 1570.4,190.5 1584.1,190.7 1597.9,190.8 1611.6,190.9 1625.3,191.1 1639.1,191.1 1652.8,191.2 1666.6,191.1 1680.3,191.1 1694.1,191.0 1707.8,190.8" stroke="#8000FF"/>
<polyline points="1323.0,189.0 1336.7,189.2 1350.5,189.2 1364.2,189.0 1378.0,188.5 1391.7,188.0 1405.5,187.5 1419.2,187.2 1432.9,187.2 1446.7,187.5 1460.4,188.0 1474.2,188.5 1487.9,189.0 1501.7,189.2 1515.4,189.2 1529.1,189.0 1542.9,188.5 1556.6,188.0 1570.4,187.5 1584.1,187.2 1597.9,187.2 1611.6,187.5 1625.3,188.0 1639.1,188.5 1652.8,189.0 1666.6,189.2 1680.3,189.2 1694.1,189.0 1707.8,188.5" stroke="#800080"/>
<polyline points="1323.0,191.8 1336.7,191.7 1350.5,191.6 1364.2,191.7 1378.0,191.7 1391.7,191.9 1405.5,192.0 1419.2,192.2 1432.9,192.4 1446.7,192.6 1460.4,192.8 1474.2,193.0 1487.9,193.1 1501.7,193.2 1515.4,193.2 1529.1,193.2 1542.9,193.1 1556.6,193.0 1570.4,192.8 1584.1,192.6 1597.9,192.4 1611.6,192.2 1625.3,192.0 1639.1,191.9 1652.8,191.7 1666.6,191.7 1680.3,191.6 1694.1,191.7 1707.8,191.8" stroke="#800000"/>
<polyline points="1323.0,192.2 1336.7,192.2 1350.5,192.1 1364.2,192.0 1378.0,191.9 1391.7,191.8 1405.5,191.8 1419.2,191.8 1432.9,191.8 1446.7,191.9 1460.4,192.1 1474.2,192.1 1487.9,192.2 1501.7,192.2 1515.4,192.1 1529.1,192.0 1542.9,191.9 1556.6,191.8 1570.4,191.8 1584.1,191.8 1597.9,191.8 1611.6,191.9 1625.3,192.0 1639.1,192.1 1652.8,192.2 1666.6,192.2 1680.3,192.2 1694.1,192.1 1707.8,192.0" stroke="#808000"/>
<polyline points="1323.0,190.0 1336.7,190.1 1350.5,190.1 1364.2,190.2 1378.0,190.3 1391.7,190.3 1405.5,190.4 1419.2,190.5 1432.9,190.5 1446.7,190.6 1460.4,190.7 1474.2,190.8 1487.9,190.8 1501.7,190.9 1515.4,191.0 1529.1,191.1 1542.9,191.2 1556.6,191.2 1570.4,191.3 1584.1,191.4 1597.9,191.5 1611.6,191.6 1625.3,191.6 1639.1,191.7 1652.8,191.8 1666.6,191.8 1680.3,191.9 1694.1,191.9 1707.8,192.0" stroke="#3A6AAA"/>
<polyline points="1323.0,189.8 1336.7,190.1 1350.5,190.5 1364.2,190.8 1378.0,191.0 1391.7,191.0 1405.5,190.8 1419.2,190.4 1432.9,190.0 1446.7,189.7 1460.4,189.5 1474.2,189.5 1487.9,189.7 1501.7,190.0 1515.4,190.4 1529.1,190.7 1542.9,190.9 1556.6,191.0 1570.4,190.9 1584.1,190.6 1597.9,190.2 1611.6,189.8 1625.3,189.6 1639.1,189.5 1652.8,189.6 1666.6,189.8 1680.3,190.2 1694.1,190.6 1707.8,190.9" stroke="#2E9EA2"/>
</g>
<g stroke="#000" stroke-width="2" fill="none" stroke-linecap="square">
<path d="M98.0 15.5H1266.8V363.0H98.0" stroke-linecap="butt"/>
<path d="M99.0 14.5V373.0" stroke="#2e2e2e" stroke-linecap="butt"/>
<path d="M99.0 363.0v10M196.3 363.0v5M293.6 363.0v10M390.9 363.0v5M488.3 363.0v10M585.6 363.0v5M682.9 363.0v10M780.2 363.0v5M877.5 363.0v10M974.8 363.0v5M1072.2 363.0v10M1169.5 363.0v5M1266.8 363.0v10M99.0 363.0h-10M99.0 334.0h-5M99.0 305.1h-10M99.0 276.1h-5M99.0 247.2h-10M99.0 218.2h-5M99.0 189.2h-10M99.0 160.3h-5M99.0 131.3h-10M99.0 102.4h-5M99.0 73.4h-10M99.0 44.5h-5M99.0 15.5h-10" stroke-linecap="butt"/>
</g>
<g stroke="#000" stroke-width="2" fill="none">
<rect x="1323.0" y="17.1" width="384.8" height="346.6"/>
<path d="M1323.0 363.8v6.5M1350.5 363.8v4.0M1378.0 363.8v6.5M1405.5 363.8v4.0M1432.9 363.8v6.5M1460.4 363.8v4.0M1487.9 363.8v6.5M1515.4 363.8v4.0M1542.9 363.8v6.5M1570.4 363.8v4.0M1597.9 363.8v6.5M1625.3 363.8v4.0M1652.8 363.8v6.5M1680.3 363.8v4.0M1707.8 363.8v6.5M1707.8 363.8h6.5M1707.8 320.4h4.0M1707.8 277.1h6.5M1707.8 233.8h4.0M1707.8 190.4h6.5M1707.8 147.1h4.0M1707.8 103.8h6.5M1707.8 60.4h4.0M1707.8 17.1h6.5"/>
</g>
<g stroke="#000" stroke-width="2" fill="none" stroke-dasharray="7.5 9.5">
<path d="M1266.8 225.7H1172.5V272.6H1266.8" stroke-dashoffset="-3"/>
<path d="M1321.5 31.1L1266.8 225.7" stroke-dasharray="8 11"/>
<path d="M1172.5 272.6L1320 360.2" stroke-dasharray="8 11"/>
</g>
<g font-size="23.3" letter-spacing="0.35" stroke="#000" stroke-width="0.35">
<text x="99.2" y="396.5" text-anchor="middle">0</text>
<text x="293.8" y="396.5" text-anchor="middle">60</text>
<text x="488.5" y="396.5" text-anchor="middle">120</text>
<text x="683.1" y="396.5" text-anchor="middle">180</text>
<text x="877.7" y="396.5" text-anchor="middle">240</text>
<text x="1072.4" y="396.5" text-anchor="middle">300</text>
<text x="1267.0" y="396.5" text-anchor="middle">360</text>
<text x="82.4" y="368.2" text-anchor="end">-10</text>
<text x="82.4" y="310.3" text-anchor="end">-5</text>
<text x="82.4" y="252.4" text-anchor="end">0</text>
<text x="82.4" y="194.4" text-anchor="end">5</text>
<text x="82.4" y="136.5" text-anchor="end">10</text>
<text x="82.4" y="78.6" text-anchor="end">15</text>
<text x="82.4" y="20.7" text-anchor="end">20</text>
<text x="1323.2" y="391.2" text-anchor="middle">332</text>
<text x="1378.2" y="391.2" text-anchor="middle">336</text>
<text x="1433.1" y="391.2" text-anchor="middle">340</text>
<text x="1488.1" y="391.2" text-anchor="middle">344</text>
<text x="1543.1" y="391.2" text-anchor="middle">348</text>
<text x="1598.1" y="391.2" text-anchor="middle">352</text>
<text x="1653.0" y="391.2" text-anchor="middle">356</text>
<text x="1708.0" y="391.2" text-anchor="middle">360</text>
<text x="1718.2" y="368.9">-1.0</text>
<text x="1718.2" y="282.3">-0.5</text>
<text x="1718.2" y="195.6">0.0</text>
<text x="1718.2" y="109.0">0.5</text>
<text x="1718.2" y="22.3">1.0</text>
<text x="683" y="422.7" text-anchor="middle" letter-spacing="0" font-size="22.8">t (h)</text>
<text x="1515" y="422.7" text-anchor="middle" letter-spacing="0" font-size="22.8">t (h)</text>
<text transform="translate(21 245.3) rotate(-90)" letter-spacing="0" font-size="22.6"><tspan letter-spacing="-2.2">SSC</tspan><tspan letter-spacing="4.2"> </tspan><tspan letter-spacing="0.84">(mg/L)</tspan></text>
<text transform="translate(1771.5 141.6) rotate(90)" letter-spacing="0" font-size="22.6"><tspan letter-spacing="-2.3">SSC</tspan><tspan letter-spacing="3.1"> </tspan><tspan letter-spacing="6.15">(mg/L</tspan>)</text>
</g>
<text x="824.3" y="476.0" font-size="35" stroke="#000" stroke-width="0.3">(a) Site C1</text>
<defs><clipPath id="zc1"><rect x="1323.00" y="521.10" width="384.80" height="346.65"/></clipPath><clipPath id="mc1"><rect x="99.00" y="519.50" width="1167.80" height="347.50"/></clipPath></defs>
<g clip-path="url(#mc1)" fill="none" stroke-width="2" stroke-linejoin="round">
<line x1="99.0" y1="605.51" x2="1266.8" y2="605.51" stroke="#000"/>
</g>
<g clip-path="url(#mc1)"><g transform="translate(99.00 0) scale(3.24389 0.5)" fill="none" stroke-width="2" stroke-linejoin="round">
<path d="M0 1572l1-2 1-4 1-5 1-6 1-5 1-2 1 1 1 4 1 6 1 6 1 4 1 3 1-1 1-3 1-5 1-6 1-5 1-3 1 0 1 2 1 5 1 6 1 6 1 3 1 1 1-2 1-5 1-5 1-6 1-4 1-2 1 2 1 4 1 6 1 5 1 5 1 2 1-1 1-3 1-6 1-6 1-5 1-2 1 0 1 3 1 5 1 6 1 5 1 3 1 1 1-3 1-4 1-6 1-6 1-4 1-1 1 2 1 5 1 6 1 5 1 4 1 2 1-1 1-4 1-6 1-6 1-4 1-2 1 0 1 4 1 5 1 6 1 5 1 3 1 0 1-3 1-5 1-6 1-6 1-3 1 0 1 2 1 5 1 6 1 5 1 4 1 1 1-2 1-4 1-6 1-6 1-4 1-2 1 2 1 3 1 6 1 6 1 5 1 2 1-1 1-3 1-5 1-6 1-5 1-3 1 0 1 3 1 5 1 5 1 6 1 3 1 1 1-2 1-5 1-6 1-5 1-4 1-2 1 2 1 4 1 6 1 6 1 4 1 2 1-1 1-4 1-5 1-6 1-5 1-2 1 0 1 3 1 5 1 6 1 6 1 3 1 0 1-3 1-5 1-6 1-5 1-4 1 0 1 2 1 4 1 6 1 6 1 4 1 1 1-1 1-5 1-5 1-6 1-4 1-3 1 1 1 4 1 5 1 6 1 5 1 3 1 0 1-4 1-5 1-6 1-5 1-3 1 0 1 2 1 5 1 6 1 5 1 4 1 1 1-2 1-4 1-6 1-6 1-4 1-2 1 2 1 4 1 5 1 6 1 5 1 2 1-1 1-3 1-6 1-6 1-4 1-3 1 0 1 3 1 5 1 6 1 5 1 3 1 1 1-3 1-4 1-6 1-6 1-3 1-2 1 2 1 5 1 5 1 6 1 4 1 2 1-1 1-4 1-6 1-5 1-5 1-2 1 0 1 4 1 5 1 6 1 5 1 3 1 0 1-3 1-5 1-6 1-5 1-4 1 0 1 2 1 4 1 6 1 6 1 4 1 1 1-2 1-4 1-6 1-5 1-5 1-2 1 2 1 3 1 6 1 6 1 4 1 3 1-1 1-3 1-5 1-6 1-5 1-3 1 0 1 2 1 5 1 6 1 6 1 3 1 1 1-2 1-5 1-5 1-6 1-4 1-2 1 2 1 4 1 6 1 6 1 4 1 2 1-1 1-4 1-5 1-6 1-5 1-2 1 0 1 3 1 5 1 6 1 5 1 4 1 0 1-3 1-5 1-5 1-6 1-4 1-1 1 2 1 5 1 6 1 5 1 4 1 2 1-1 1-4 1-6 1-6 1-4 1-2 1 0 1 4 1 5 1 6 1 5 1 3 1 0 1-3 1-5 1-6 1-6 1-3 1 0 1 2 1 5 1 6 1 5 1 4 1 1 1-2 1-4 1-6 1-6 1-4 1-2 1 2 1 4 1 5 1 6 1 5 1 2 1-1 1-3 1-5 1-6 1-5 1-3 1 0 1 3 1 5 1 6 1 5 1 3 1 1 1-2 1-5 1-6 1-5 1-4 1-2 1 2 1 4 1 6 1 6 1 4 1 2" stroke="#FF0000" vector-effect="non-scaling-stroke"/>
<path d="M0 1559h360" stroke="#0000FF" vector-effect="non-scaling-stroke"/>
<path d="M0 1561h360" stroke="#008000" vector-effect="non-scaling-stroke"/>
<path d="M0 1560h360" stroke="#8000FF" vector-effect="non-scaling-stroke"/>
<path d="M0 1560h360" stroke="#800000" vector-effect="non-scaling-stroke"/>
<path d="M0 1561h360" stroke="#808000" vector-effect="non-scaling-stroke"/>
<path d="M0 1560h360" stroke="#3A6AAA" vector-effect="non-scaling-stroke"/>
<path d="M0 1561h360" stroke="#2E9EA2" vector-effect="non-scaling-stroke"/>
<path d="M0 1560h360" stroke="#A0692E" vector-effect="non-scaling-stroke"/>
<path d="M0 1560l1-14 1-1 1 13 1 16 1 3 1-13 1-16 1-5 1 12 1 16 1 6 1-9 1-17 1-8 1 8 1 17 1 10 1-7 1-17 1-11 1 5 1 17 1 12 1-4 1-15 1-14 1 2 1 15 1 14 1 0 1-14 1-15 1-2 1 13 1 16 1 4 1-12 1-16 1-6 1 11 1 17 1 7 1-10 1-17 1-8 1 8 1 16 1 10 1-6 1-16 1-12 1 5 1 16 1 13 1-3 1-16 1-13 1 0 1 15 1 15 1 1 1-14 1-15 1-3 1 13 1 16 1 4 1-11 1-17 1-6 1 10 1 17 1 8 1-9 1-17 1-9 1 7 1 17 1 10 1-5 1-16 1-12 1 3 1 16 1 13 1-2 1-15 1-14 1 0 1 14 1 15 1 2 1-13 1-16 1-3 1 12 1 16 1 5 1-10 1-17 1-7 1 9 1 17 1 9 1-8 1-17 1-10 1 6 1 17 1 11 1-4 1-16 1-13 1 3 1 15 1 14 1-1 1-15 1-15 1 0 1 13 1 16 1 3 1-13 1-16 1-5 1 12 1 16 1 6 1-10 1-16 1-8 1 8 1 17 1 10 1-7 1-17 1-11 1 6 1 16 1 12 1-4 1-16 1-13 1 2 1 15 1 14 1 0 1-14 1-15 1-2 1 14 1 15 1 4 1-12 1-17 1-5 1 11 1 17 1 7 1-10 1-17 1-8 1 8 1 17 1 9 1-6 1-16 1-12 1 5 1 16 1 13 1-3 1-16 1-13 1 1 1 14 1 15 1 1 1-14 1-16 1-2 1 13 1 16 1 4 1-11 1-17 1-6 1 10 1 17 1 8 1-9 1-17 1-9 1 7 1 17 1 10 1-5 1-16 1-12 1 3 1 16 1 13 1-2 1-15 1-14 1 0 1 15 1 15 1 1 1-13 1-16 1-3 1 12 1 16 1 5 1-11 1-16 1-7 1 9 1 17 1 9 1-8 1-17 1-10 1 6 1 17 1 11 1-4 1-17 1-12 1 3 1 15 1 14 1-1 1-15 1-15 1 0 1 14 1 15 1 3 1-13 1-16 1-5 1 12 1 17 1 5 1-10 1-17 1-7 1 9 1 16 1 10 1-8 1-16 1-11 1 6 1 16 1 12 1-4 1-16 1-13 1 2 1 15 1 15 1-1 1-14 1-15 1-2 1 14 1 16 1 3 1-12 1-17 1-5 1 11 1 17 1 7 1-10 1-17 1-8 1 8 1 17 1 10 1-7 1-16 1-12 1 5 1 16 1 13 1-3 1-16 1-14 1 2 1 15 1 14 1 1 1-14 1-16 1-2 1 13 1 16 1 4 1-12 1-16 1-6 1 10 1 17 1 8 1-9 1-17 1-9 1 7 1 17 1 10 1-5 1-17 1-11 1 3 1 16 1 13 1-2 1-15 1-14 1 0 1 15 1 15 1 1 1-13 1-16 1-3 1 12 1 16 1 5 1-11 1-16 1-7 1 10 1 16 1 9 1-8 1-17 1-10 1 6 1 17 1 11 1-5 1-16 1-12 1 3 1 15 1 14 1-1 1-15 1-15 1 0 1 14 1 15 1 2 1-12" stroke="#18CC2A" vector-effect="non-scaling-stroke"/>
<path d="M0 1565l1-7 1-5 1 2 1 7 1 5 1-2 1-6 1-5 1 1 1 6 1 6 1-1 1-6 1-6 1 0 1 7 1 5 1 0 1-6 1-6 1 0 1 6 1 6 1 1 1-6 1-6 1-1 1 5 1 6 1 2 1-5 1-7 1-1 1 4 1 7 1 2 1-4 1-7 1-3 1 5 1 6 1 3 1-4 1-7 1-3 1 4 1 7 1 3 1-3 1-7 1-4 1 3 1 7 1 4 1-3 1-6 1-5 1 3 1 6 1 5 1-2 1-7 1-4 1 1 1 7 1 5 1-1 1-7 1-5 1 1 1 6 1 6 1-1 1-6 1-6 1 0 1 6 1 6 1 0 1-5 1-7 1 0 1 6 1 6 1 1 1-6 1-6 1-1 1 5 1 6 1 2 1-5 1-7 1-2 1 5 1 7 1 2 1-4 1-7 1-3 1 4 1 7 1 3 1-4 1-6 1-4 1 4 1 7 1 3 1-3 1-7 1-4 1 3 1 7 1 4 1-2 1-7 1-5 1 3 1 6 1 5 1-2 1-6 1-5 1 1 1 7 1 5 1-1 1-7 1-5 1 1 1 6 1 5 1 0 1-6 1-6 1 0 1 6 1 6 1 0 1-5 1-6 1-1 1 5 1 7 1 1 1-5 1-7 1-1 1 5 1 6 1 2 1-5 1-6 1-3 1 5 1 7 1 2 1-4 1-7 1-3 1 4 1 7 1 3 1-3 1-7 1-4 1 4 1 6 1 4 1-3 1-7 1-4 1 3 1 7 1 4 1-2 1-7 1-5 1 2 1 7 1 5 1-2 1-6 1-5 1 1 1 6 1 6 1-1 1-6 1-6 1 0 1 7 1 5 1 0 1-6 1-6 1 0 1 6 1 6 1 1 1-6 1-6 1-1 1 5 1 7 1 1 1-5 1-7 1-1 1 4 1 7 1 2 1-5 1-6 1-3 1 5 1 6 1 3 1-4 1-7 1-3 1 4 1 7 1 3 1-3 1-7 1-4 1 3 1 7 1 4 1-3 1-6 1-5 1 3 1 7 1 4 1-2 1-7 1-4 1 1 1 7 1 5 1-2 1-6 1-5 1 1 1 6 1 6 1-1 1-6 1-6 1 0 1 6 1 6 1 0 1-6 1-6 1 0 1 6 1 6 1 1 1-6 1-6 1-1 1 5 1 6 1 2 1-5 1-7 1-1 1 4 1 7 1 2 1-4 1-7 1-3 1 5 1 6 1 3 1-4 1-7 1-3 1 4 1 7 1 3 1-3 1-7 1-4 1 3 1 7 1 4 1-2 1-7 1-5 1 3 1 6 1 5 1-2 1-6 1-5 1 1 1 7 1 5 1-1 1-7 1-5 1 1 1 6 1 6 1-1 1-6 1-6 1 0 1 6 1 6 1 0 1-5 1-6 1-1 1 5 1 7 1 1 1-6 1-6 1-1 1 5 1 6 1 2 1-5 1-7 1-2 1 5 1 7 1 2 1-4 1-7 1-3 1 4 1 7 1 3 1-3 1-7 1-4 1 4 1 7 1 3 1-3 1-7 1-4 1 3 1 7 1 4 1-2 1-7 1-5 1 2 1 7 1 5 1-2" stroke="#BB1A7E" vector-effect="non-scaling-stroke"/>
<path d="M0 1587l4-10 4-9 4-9 4-9 4-10 4-9 4-9 4-9 4-8 4-9 4-8 4-7 4-7 4-7 4-6 4-6 4-6 4-4 4-4 4-4 4-3 4-2 4-2 4-1 4 0 4 0 4 1 4 2 4 2 4 3 4 4 4 4 4 4 4 6 4 6 4 6 4 7 4 7 4 7 4 8 4 9 4 8 4 9 4 9 4 9 4 10 4 9 4 9 4 9 4 10 4 9 4 9 4 8 4 9 4 8 4 7 4 8 4 7 4 6 4 6 4 6 4 4 4 5 4 3 4 4 4 2 4 2 4 1 4 1 4-1 4 0 4-2 4-2 4-3 4-3 4-4 4-5 4-5 4-5 4-6 4-7 4-7 4-8 4-8 4-8 4-8 4-9 4-9 4-9 4-9" stroke="#22C0D0" vector-effect="non-scaling-stroke"/>
<path d="M0 1557l1 4 1 4 1 1 1-2 1-4 1-5 1-1 1 2 1 4 1 5 1 2 1-2 1-4 1-5 1-2 1 1 1 5 1 4 1 2 1-1 1-4 1-4 1-3 1 1 1 4 1 4 1 3 1 0 1-4 1-5 1-3 1 1 1 3 1 5 1 3 1 0 1-3 1-5 1-3 1-1 1 3 1 5 1 4 1 0 1-2 1-5 1-4 1-1 1 2 1 5 1 4 1 1 1-2 1-4 1-4 1-2 1 2 1 4 1 5 1 1 1-1 1-4 1-5 1-2 1 1 1 4 1 5 1 2 1-1 1-3 1-5 1-3 1 1 1 3 1 5 1 3 1 0 1-4 1-4 1-4 1 0 1 4 1 4 1 4 1 0 1-3 1-4 1-4 1-1 1 3 1 5 1 3 1 1 1-2 1-5 1-4 1-1 1 2 1 5 1 4 1 2 1-2 1-5 1-4 1-2 1 2 1 4 1 4 1 2 1-1 1-4 1-4 1-3 1 1 1 4 1 5 1 2 1 0 1-4 1-5 1-3 1 1 1 3 1 5 1 3 1 0 1-3 1-5 1-3 1-1 1 3 1 5 1 4 1 0 1-3 1-4 1-4 1-1 1 3 1 4 1 4 1 1 1-2 1-4 1-4 1-2 1 2 1 4 1 5 1 2 1-2 1-4 1-5 1-2 1 1 1 5 1 4 1 2 1-1 1-4 1-4 1-3 1 1 1 4 1 4 1 3 1 0 1-4 1-4 1-4 1 1 1 3 1 5 1 3 1 0 1-3 1-5 1-3 1-1 1 3 1 5 1 4 1 0 1-2 1-5 1-4 1-1 1 2 1 5 1 4 1 1 1-2 1-4 1-4 1-2 1 2 1 4 1 4 1 2 1-1 1-4 1-5 1-2 1 1 1 4 1 5 1 2 1 0 1-4 1-5 1-3 1 1 1 3 1 5 1 3 1 0 1-4 1-4 1-4 1 0 1 4 1 4 1 4 1 0 1-3 1-4 1-4 1-1 1 3 1 4 1 4 1 1 1-2 1-5 1-4 1-1 1 2 1 5 1 4 1 2 1-2 1-5 1-4 1-2 1 2 1 4 1 4 1 2 1-1 1-4 1-4 1-3 1 1 1 4 1 5 1 2 1 0 1-4 1-5 1-3 1 1 1 3 1 5 1 3 1 0 1-3 1-5 1-3 1-1 1 3 1 5 1 4 1 0 1-2 1-5 1-4 1-1 1 3 1 4 1 4 1 1 1-2 1-4 1-4 1-2 1 2 1 4 1 5 1 2 1-2 1-4 1-5 1-2 1 1 1 4 1 5 1 2 1-1 1-4 1-4 1-3 1 1 1 4 1 4 1 3 1 0 1-4 1-4 1-4 1 1 1 3 1 5 1 3 1 0 1-3 1-5 1-3 1-1 1 3 1 5 1 4 1 0 1-2 1-5 1-4 1-1 1 2 1 5 1 4 1 1 1-2 1-4 1-4 1-2 1 2 1 4 1 4 1 2 1-1 1-4 1-5 1-2 1 1 1 4 1 5 1 2 1 0 1-4 1-5 1-3 1 1 1 3 1 5 1 3 1 0 1-3 1-5 1-3 1-1 1 4" stroke="#1E1E9A" vector-effect="non-scaling-stroke"/>
<path d="M0 1567l1 4 1 4 1 2 1 2 1 1 1 0 1-2 1-3 1-3 1-4 1-5 1-5 1-4 1-5 1-3 1-3 1-2 1-1 1 1 1 2 1 2 1 4 1 4 1 5 1 5 1 4 1 5 1 3 1 3 1 2 1 0 1-1 1-1 1-3 1-4 1-4 1-5 1-5 1-4 1-4 1-4 1-3 1-1 1-1 1 1 1 2 1 3 1 4 1 4 1 5 1 5 1 4 1 4 1 4 1 2 1 2 1 0 1-1 1-2 1-3 1-4 1-4 1-5 1-4 1-5 1-4 1-3 1-3 1-1 1 0 1 0 1 3 1 3 1 3 1 5 1 5 1 4 1 5 1 4 1 3 1 3 1 1 1 0 1-1 1-2 1-3 1-4 1-5 1-5 1-4 1-5 1-4 1-3 1-2 1-1 1 0 1 1 1 2 1 3 1 4 1 5 1 4 1 5 1 5 1 4 1 3 1 2 1 1 1 0 1-1 1-3 1-3 1-4 1-5 1-4 1-5 1-5 1-3 1-3 1-3 1 0 1 0 1 1 1 3 1 3 1 4 1 5 1 4 1 5 1 4 1 4 1 3 1 2 1 1 1 0 1-2 1-2 1-4 1-4 1-4 1-5 1-5 1-4 1-4 1-3 1-2 1-1 1 1 1 1 1 3 1 4 1 4 1 4 1 5 1 5 1 4 1 4 1 3 1 1 1 1 1 0 1-2 1-3 1-3 1-5 1-4 1-5 1-5 1-4 1-4 1-2 1-2 1-1 1 1 1 2 1 3 1 3 1 5 1 4 1 5 1 5 1 4 1 3 1 3 1 2 1 0 1-1 1-2 1-2 1-4 1-4 1-5 1-5 1-5 1-4 1-3 1-3 1-1 1-1 1 1 1 2 1 3 1 4 1 4 1 5 1 5 1 4 1 5 1 3 1 2 1 2 1 0 1-1 1-2 1-3 1-4 1-4 1-5 1-5 1-4 1-4 1-4 1-2 1-1 1 0 1 1 1 2 1 3 1 4 1 4 1 5 1 5 1 4 1 4 1 3 1 3 1 1 1 0 1-1 1-2 1-4 1-4 1-4 1-5 1-5 1-4 1-4 1-3 1-2 1-1 1 0 1 1 1 2 1 3 1 5 1 4 1 5 1 5 1 4 1 4 1 3 1 2 1 1 1 0 1-2 1-2 1-3 1-4 1-5 1-5 1-5 1-4 1-4 1-3 1-2 1-1 1 1 1 1 1 3 1 3 1 4 1 5 1 5 1 4 1 5 1 4 1 2 1 2 1 1 1 0 1-2 1-3 1-3 1-4 1-5 1-5 1-4 1-5 1-3 1-3 1-2 1-1 1 1 1 2 1 2 1 4 1 4 1 5 1 5 1 4 1 5 1 3 1 3 1 2 1 0 1-1 1-1 1-3 1-4 1-4 1-5 1-5 1-4 1-4 1-4 1-3 1-1 1-1 1 1 1 2 1 3 1 4 1 4 1 5 1 4 1 5 1 4 1 4 1 2 1 2 1 0 1-1 1-2 1-3 1-3 1-5 1-5 1-4 1-5 1-4 1-3 1-3 1-1 1-1 1 1 1 2 1 3 1 4 1 5 1 5" stroke="#8E9E12" vector-effect="non-scaling-stroke"/>
<path d="M0 1556l1 2 1 4 1 2 1 0 1-2 1-3 1-2 1-1 1 2 1 3 1 3 1 1 1-2 1-3 1-3 1-1 1 1 1 3 1 3 1 2 1-2 1-3 1-3 1-1 1 1 1 3 1 3 1 2 1-1 1-3 1-3 1-2 1 1 1 2 1 3 1 2 1 0 1-2 1-4 1-2 1 0 1 3 1 3 1 2 1 0 1-2 1-3 1-3 1 0 1 2 1 3 1 3 1 0 1-1 1-4 1-2 1-1 1 2 1 3 1 3 1 1 1-2 1-3 1-3 1-1 1 1 1 3 1 3 1 2 1-2 1-2 1-4 1-1 1 1 1 3 1 3 1 2 1-1 1-3 1-3 1-2 1 0 1 3 1 3 1 2 1 0 1-2 1-4 1-2 1 0 1 3 1 3 1 2 1 0 1-2 1-3 1-3 1 0 1 2 1 3 1 3 1 1 1-2 1-3 1-3 1-1 1 2 1 3 1 3 1 1 1-2 1-3 1-3 1-1 1 1 1 3 1 3 1 2 1-1 1-3 1-3 1-2 1 1 1 2 1 4 1 1 1 0 1-3 1-3 1-2 1 0 1 3 1 3 1 2 1 0 1-2 1-3 1-3 1 0 1 2 1 4 1 2 1 0 1-2 1-3 1-2 1-1 1 2 1 3 1 3 1 1 1-2 1-3 1-3 1-1 1 1 1 3 1 3 1 2 1-2 1-3 1-3 1-1 1 1 1 3 1 3 1 2 1-1 1-3 1-3 1-2 1 1 1 2 1 3 1 2 1 0 1-2 1-4 1-2 1 0 1 3 1 3 1 2 1 0 1-2 1-3 1-3 1 0 1 2 1 3 1 3 1 0 1-1 1-4 1-2 1-1 1 2 1 3 1 3 1 1 1-2 1-3 1-3 1-1 1 1 1 3 1 3 1 2 1-1 1-3 1-4 1-1 1 1 1 3 1 3 1 2 1-1 1-3 1-3 1-2 1 0 1 3 1 3 1 2 1 0 1-2 1-4 1-2 1 0 1 2 1 4 1 2 1 0 1-2 1-3 1-3 1 0 1 2 1 3 1 3 1 1 1-2 1-3 1-3 1-1 1 1 1 4 1 3 1 1 1-2 1-3 1-3 1-1 1 1 1 3 1 3 1 2 1-1 1-3 1-3 1-2 1 1 1 2 1 4 1 1 1 0 1-3 1-3 1-2 1 0 1 3 1 3 1 2 1 0 1-2 1-3 1-3 1 0 1 2 1 4 1 2 1 0 1-2 1-3 1-2 1-1 1 2 1 3 1 3 1 1 1-2 1-3 1-3 1-1 1 1 1 3 1 3 1 2 1-2 1-3 1-3 1-1 1 1 1 3 1 3 1 2 1-1 1-3 1-3 1-2 1 1 1 2 1 3 1 2 1 0 1-2 1-4 1-2 1 0 1 3 1 3 1 2 1 0 1-2 1-3 1-3 1 0 1 2 1 3 1 3 1 0 1-1 1-4 1-2 1-1 1 2 1 3 1 3 1 1 1-2 1-3 1-3 1-1 1 1 1 3 1 3 1 2 1-1 1-3 1-3 1-2 1 1 1 3 1 3 1 2 1-1 1-3 1-3 1-2 1 0" stroke="#808080" vector-effect="non-scaling-stroke"/>
<path d="M0 1557l1-3 1-3 1-1 1-1 1-1 1 1 1 2 1 2 1 3 1 3 1 3 1 3 1 3 1 2 1 1 1 1 1 0 1-1 1-2 1-3 1-3 1-3 1-3 1-3 1-2 1-2 1-1 1-1 1 1 1 2 1 2 1 3 1 3 1 3 1 3 1 3 1 2 1 1 1 1 1 0 1-1 1-2 1-2 1-3 1-4 1-3 1-3 1-2 1-2 1-1 1-1 1 1 1 1 1 3 1 2 1 3 1 4 1 3 1 2 1 3 1 1 1 1 1 0 1-1 1-2 1-2 1-3 1-3 1-3 1-3 1-3 1-2 1-1 1-1 1 1 1 1 1 2 1 3 1 3 1 3 1 3 1 3 1 2 1 2 1 1 1 0 1-1 1-2 1-2 1-3 1-3 1-3 1-3 1-3 1-2 1-1 1-1 1 1 1 1 1 2 1 3 1 3 1 3 1 3 1 3 1 2 1 2 1 1 1 0 1-1 1-1 1-3 1-3 1-3 1-3 1-3 1-3 1-2 1-1 1-1 1 1 1 1 1 2 1 2 1 3 1 4 1 3 1 3 1 2 1 2 1 1 1 0 1-1 1-1 1-2 1-3 1-3 1-4 1-3 1-2 1-2 1-2 1-1 1 1 1 1 1 2 1 2 1 3 1 3 1 3 1 3 1 3 1 2 1 1 1 0 1-1 1-1 1-2 1-3 1-3 1-3 1-3 1-3 1-2 1-2 1-1 1 1 1 1 1 1 1 3 1 3 1 3 1 3 1 3 1 3 1 2 1 1 1 0 1 0 1-2 1-2 1-3 1-3 1-3 1-3 1-3 1-2 1-2 1 0 1 0 1 1 1 1 1 3 1 2 1 4 1 3 1 3 1 2 1 2 1 2 1 0 1 0 1-2 1-2 1-2 1-3 1-4 1-3 1-3 1-2 1-2 1 0 1 0 1 0 1 2 1 2 1 3 1 3 1 4 1 3 1 2 1 2 1 2 1 0 1 0 1-2 1-2 1-2 1-3 1-3 1-3 1-3 1-3 1-1 1-1 1 0 1 0 1 2 1 2 1 3 1 3 1 3 1 3 1 3 1 2 1 1 1 1 1 0 1-1 1-2 1-3 1-3 1-3 1-3 1-3 1-3 1-1 1-1 1-1 1 1 1 2 1 2 1 3 1 3 1 3 1 3 1 3 1 2 1 1 1 1 1 0 1-1 1-2 1-3 1-2 1-4 1-3 1-3 1-2 1-2 1-1 1-1 1 1 1 1 1 3 1 2 1 3 1 4 1 3 1 2 1 3 1 1 1 1 1 0 1-1 1-2 1-2 1-3 1-3 1-4 1-3 1-2 1-2 1-1 1-1 1 1 1 1 1 2 1 3 1 3 1 3 1 3 1 3 1 3 1 1 1 1 1 0 1-1 1-2 1-2 1-3 1-3 1-3 1-3 1-3 1-2 1-1 1-1 1 1 1 1 1 2 1 3 1 3 1 3 1 3 1 3 1 2 1 2 1 1 1 0 1-1 1-1 1-3 1-3 1-3 1-3 1-3 1-3 1-2 1-1 1-1 1 1 1 1 1 2 1 2 1 3 1 4 1 3 1 3 1 2" stroke="#955050" vector-effect="non-scaling-stroke"/>
<path d="M0 1561h360" stroke="#5E9A5E" vector-effect="non-scaling-stroke"/>
<path d="M0 1560l1 4 1 3 1 2 1-1 1-3 1-4 1-4 1-3 1-2 1 0 1 3 1 3 1 5 1 3 1 2 1 1 1-2 1-4 1-4 1-4 1-3 1 0 1 1 1 4 1 4 1 4 1 3 1 1 1-1 1-3 1-4 1-5 1-3 1-1 1 0 1 3 1 4 1 4 1 4 1 2 1-1 1-2 1-4 1-4 1-4 1-2 1 0 1 2 1 3 1 4 1 4 1 3 1 1 1-2 1-3 1-4 1-4 1-3 1-1 1 1 1 3 1 4 1 4 1 3 1 2 1-1 1-2 1-4 1-4 1-4 1-2 1 0 1 2 1 4 1 4 1 4 1 2 1 1 1-2 1-3 1-5 1-4 1-2 1-1 1 1 1 3 1 4 1 4 1 4 1 1 1-1 1-3 1-4 1-4 1-3 1-2 1 0 1 3 1 4 1 4 1 3 1 2 1 1 1-3 1-3 1-4 1-4 1-3 1 0 1 1 1 4 1 4 1 4 1 3 1 1 1-1 1-3 1-5 1-4 1-3 1-1 1 1 1 2 1 4 1 4 1 4 1 2 1-1 1-2 1-4 1-4 1-4 1-2 1 0 1 2 1 3 1 5 1 4 1 2 1 1 1-2 1-3 1-4 1-4 1-3 1-1 1 1 1 3 1 4 1 4 1 3 1 2 1-1 1-3 1-3 1-5 1-3 1-2 1 0 1 2 1 4 1 4 1 4 1 2 1 1 1-2 1-4 1-4 1-4 1-3 1 0 1 1 1 3 1 5 1 4 1 3 1 1 1-1 1-3 1-4 1-4 1-4 1-1 1 0 1 3 1 4 1 4 1 4 1 2 1-1 1-2 1-3 1-5 1-3 1-3 1 0 1 2 1 3 1 4 1 4 1 3 1 1 1-2 1-3 1-4 1-4 1-3 1-1 1 1 1 2 1 4 1 5 1 3 1 2 1-1 1-2 1-4 1-4 1-4 1-2 1 0 1 2 1 4 1 4 1 4 1 2 1 1 1-2 1-3 1-5 1-4 1-2 1-1 1 1 1 3 1 4 1 4 1 3 1 2 1-1 1-3 1-4 1-4 1-3 1-2 1 0 1 3 1 3 1 5 1 3 1 2 1 1 1-2 1-4 1-4 1-4 1-3 1 0 1 1 1 4 1 4 1 4 1 3 1 1 1-1 1-3 1-4 1-5 1-3 1-1 1 0 1 3 1 4 1 4 1 4 1 2 1-1 1-2 1-4 1-4 1-4 1-2 1 0 1 2 1 3 1 5 1 3 1 3 1 1 1-2 1-3 1-4 1-4 1-3 1-1 1 1 1 3 1 4 1 4 1 3 1 2 1-1 1-2 1-4 1-5 1-3 1-2 1 0 1 2 1 4 1 4 1 4 1 2 1 1 1-2 1-4 1-4 1-4 1-2 1-1 1 1 1 3 1 4 1 5 1 3 1 1 1-1 1-3 1-4 1-4 1-4 1-1 1 0 1 3 1 4 1 4 1 3 1 3 1-1 1-2 1-3 1-4 1-4 1-3 1 0 1 2 1 3 1 4 1 4 1 3 1 1 1-1 1-4 1-4 1-4 1-3 1-1 1 1 1 2 1 4" stroke="#22A0D4" vector-effect="non-scaling-stroke"/>
<path d="M0 1560h360" stroke="#33669A" vector-effect="non-scaling-stroke"/>
<path d="M0 1561l1 1 1 1 1 0 1 0 1-2 1-1 1-2 1-1 1 0 1 1 1 2 1 1 1 2 1 0 1 0 1-1 1-1 1-2 1-1 1-1 1 0 1 2 1 1 1 2 1 1 1 0 1 0 1-1 1-2 1-2 1-1 1 0 1 1 1 1 1 2 1 1 1 1 1 0 1-1 1-1 1-2 1-1 1-1 1 0 1 1 1 2 1 2 1 1 1 0 1 0 1-1 1-2 1-1 1-1 1-1 1 1 1 1 1 2 1 1 1 1 1 0 1 0 1-2 1-1 1-2 1-1 1 0 1 1 1 2 1 1 1 2 1 0 1 0 1-1 1-1 1-2 1-1 1-1 1 0 1 2 1 1 1 2 1 1 1 0 1 0 1-1 1-2 1-2 1-1 1 0 1 1 1 1 1 2 1 1 1 1 1 0 1-1 1-1 1-2 1-1 1-1 1 0 1 1 1 2 1 1 1 2 1 0 1 0 1-1 1-2 1-1 1-1 1-1 1 1 1 1 1 1 1 2 1 1 1 0 1 0 1-2 1-1 1-2 1-1 1 0 1 1 1 1 1 2 1 2 1 0 1 0 1-1 1-1 1-2 1-1 1-1 1 0 1 2 1 1 1 2 1 1 1 0 1 0 1-1 1-2 1-2 1-1 1 0 1 1 1 1 1 2 1 1 1 1 1 0 1 0 1-2 1-2 1-1 1-1 1 0 1 1 1 2 1 1 1 2 1 0 1 0 1-1 1-2 1-1 1-1 1-1 1 1 1 1 1 1 1 2 1 1 1 0 1 0 1-2 1-1 1-2 1-1 1 0 1 1 1 1 1 2 1 2 1 0 1 0 1-1 1-1 1-2 1-1 1-1 1 0 1 1 1 2 1 2 1 1 1 0 1 0 1-1 1-2 1-1 1-2 1 0 1 1 1 1 1 2 1 1 1 1 1 0 1 0 1-2 1-2 1-1 1-1 1 0 1 1 1 2 1 1 1 2 1 0 1 0 1-1 1-2 1-1 1-1 1-1 1 1 1 1 1 1 1 2 1 1 1 0 1 0 1-2 1-1 1-2 1-1 1 0 1 1 1 1 1 2 1 1 1 1 1 0 1-1 1-1 1-2 1-1 1-1 1 0 1 1 1 2 1 2 1 1 1 0 1 0 1-1 1-2 1-1 1-2 1 0 1 1 1 1 1 2 1 1 1 1 1 0 1 0 1-2 1-1 1-2 1-1 1 0 1 1 1 2 1 1 1 2 1 0 1 0 1-1 1-1 1-2 1-1 1-1 1 1 1 1 1 1 1 2 1 1 1 0 1 0 1-1 1-2 1-2 1-1 1 0 1 1 1 1 1 2 1 1 1 1 1 0 1-1 1-1 1-2 1-1 1-1 1 0 1 1 1 2 1 2 1 1 1 0 1 0 1-1 1-2 1-1 1-2 1 0 1 1 1 1 1 2 1 1 1 1 1 0 1 0 1-2 1-1 1-2 1-1 1 0 1 1 1 2 1 1 1 2 1 0 1 0 1-1 1-1 1-2 1-1 1-1 1 0 1 2 1 1 1 2 1 1 1 0 1 0 1-1 1-2 1-2 1-1 1 0 1 1 1 1 1 2" stroke="#000000" vector-effect="non-scaling-stroke"/>
<path d="M0 1559h360" stroke="#FF0000" vector-effect="non-scaling-stroke"/>
<path d="M0 1561h360" stroke="#0000FF" vector-effect="non-scaling-stroke"/>
<path d="M0 1560h360" stroke="#FF00FF" vector-effect="non-scaling-stroke"/>
<path d="M0 1561h360" stroke="#008000" vector-effect="non-scaling-stroke"/>
<path d="M0 1560h360" stroke="#000080" vector-effect="non-scaling-stroke"/>
<path d="M0 1561h360" stroke="#8000FF" vector-effect="non-scaling-stroke"/>
<path d="M0 1561h360" stroke="#800080" vector-effect="non-scaling-stroke"/>
<path d="M0 1560h360" stroke="#800000" vector-effect="non-scaling-stroke"/>
<path d="M0 1559h360" stroke="#808000" vector-effect="non-scaling-stroke"/>
<path d="M0 1560h360" stroke="#3A6AAA" vector-effect="non-scaling-stroke"/>
<path d="M0 1560h360" stroke="#2E9EA2" vector-effect="non-scaling-stroke"/>
</g>
</g>
<g clip-path="url(#zc1)" fill="none" stroke-width="1.4" stroke-linejoin="round">
<polyline points="1323.0,688.9 1336.7,718.0 1350.5,741.2 1364.2,752.7 1378.0,749.6 1391.7,732.6 1405.5,706.1 1419.2,676.7 1432.9,651.7 1446.7,637.4 1460.4,637.4 1474.2,651.7 1487.9,676.7 1501.7,706.1 1515.4,732.6 1529.1,749.6 1542.9,752.7 1556.6,741.2 1570.4,718.0 1584.1,688.9 1597.9,661.2 1611.6,641.8 1625.3,635.5 1639.1,644.1 1652.8,665.2 1666.6,693.7 1680.3,722.3 1694.1,744.0 1707.8,753.2" stroke="#FF0000"/>
<polyline points="1323.0,687.0 1336.7,687.0 1350.5,687.2 1364.2,687.4 1378.0,687.6 1391.7,687.8 1405.5,687.9 1419.2,687.9 1432.9,687.8 1446.7,687.6 1460.4,687.4 1474.2,687.2 1487.9,687.0 1501.7,687.0 1515.4,687.2 1529.1,687.4 1542.9,687.6 1556.6,687.8 1570.4,687.9 1584.1,687.9 1597.9,687.8 1611.6,687.6 1625.3,687.4 1639.1,687.2 1652.8,687.0 1666.6,687.0 1680.3,687.2 1694.1,687.4 1707.8,687.6" stroke="#0000FF"/>
<polyline points="1323.0,696.2 1336.7,695.8 1350.5,696.0 1364.2,696.7 1378.0,697.2 1391.7,697.0 1405.5,696.4 1419.2,695.8 1432.9,695.9 1446.7,696.6 1460.4,697.1 1474.2,697.1 1487.9,696.5 1501.7,695.9 1515.4,695.9 1529.1,696.4 1542.9,697.0 1556.6,697.2 1570.4,696.6 1584.1,696.0 1597.9,695.8 1611.6,696.3 1625.3,696.9 1639.1,697.2 1652.8,696.8 1666.6,696.1 1680.3,695.8 1694.1,696.1 1707.8,696.8" stroke="#008000"/>
<polyline points="1323.0,694.9 1336.7,694.1 1350.5,693.3 1364.2,692.7 1378.0,692.5 1391.7,692.7 1405.5,693.3 1419.2,694.1 1432.9,695.0 1446.7,695.6 1460.4,696.0 1474.2,695.9 1487.9,695.4 1501.7,694.6 1515.4,693.8 1529.1,693.0 1542.9,692.6 1556.6,692.5 1570.4,692.8 1584.1,693.5 1597.9,694.4 1611.6,695.2 1625.3,695.8 1639.1,696.0 1652.8,695.8 1666.6,695.2 1680.3,694.3 1694.1,693.5 1707.8,692.8" stroke="#8000FF"/>
<polyline points="1323.0,692.0 1336.7,692.2 1350.5,692.3 1364.2,692.5 1378.0,692.7 1391.7,692.9 1405.5,693.1 1419.2,693.3 1432.9,693.5 1446.7,693.7 1460.4,693.9 1474.2,694.1 1487.9,694.3 1501.7,694.5 1515.4,694.7 1529.1,694.9 1542.9,695.0 1556.6,695.2 1570.4,695.3 1584.1,695.4 1597.9,695.5 1611.6,695.6 1625.3,695.6 1639.1,695.6 1652.8,695.6 1666.6,695.6 1680.3,695.6 1694.1,695.5 1707.8,695.4" stroke="#800000"/>
<polyline points="1323.0,698.5 1336.7,698.6 1350.5,698.5 1364.2,698.2 1378.0,697.7 1391.7,697.3 1405.5,696.9 1419.2,696.8 1432.9,696.8 1446.7,697.1 1460.4,697.5 1474.2,698.0 1487.9,698.4 1501.7,698.6 1515.4,698.5 1529.1,698.3 1542.9,697.9 1556.6,697.5 1570.4,697.1 1584.1,696.8 1597.9,696.8 1611.6,697.0 1625.3,697.4 1639.1,697.8 1652.8,698.2 1666.6,698.5 1680.3,698.6 1694.1,698.4 1707.8,698.1" stroke="#808000"/>
<polyline points="1323.0,695.2 1336.7,696.0 1350.5,696.4 1364.2,696.3 1378.0,695.6 1391.7,694.8 1405.5,694.3 1419.2,694.4 1432.9,695.0 1446.7,695.8 1460.4,696.4 1474.2,696.4 1487.9,695.8 1501.7,695.0 1515.4,694.4 1529.1,694.3 1542.9,694.8 1556.6,695.6 1570.4,696.3 1584.1,696.4 1597.9,696.0 1611.6,695.2 1625.3,694.5 1639.1,694.2 1652.8,694.6 1666.6,695.3 1680.3,696.1 1694.1,696.5 1707.8,696.2" stroke="#3A6AAA"/>
<polyline points="1323.0,699.5 1336.7,699.5 1350.5,699.5 1364.2,699.6 1378.0,699.8 1391.7,699.9 1405.5,700.1 1419.2,700.3 1432.9,700.5 1446.7,700.6 1460.4,700.7 1474.2,700.8 1487.9,700.9 1501.7,700.8 1515.4,700.8 1529.1,700.7 1542.9,700.6 1556.6,700.4 1570.4,700.2 1584.1,700.0 1597.9,699.9 1611.6,699.7 1625.3,699.6 1639.1,699.5 1652.8,699.5 1666.6,699.5 1680.3,699.6 1694.1,699.7 1707.8,699.8" stroke="#2E9EA2"/>
<polyline points="1323.0,691.3 1336.7,691.6 1350.5,691.8 1364.2,691.8 1378.0,691.6 1391.7,691.3 1405.5,691.1 1419.2,691.1 1432.9,691.3 1446.7,691.5 1460.4,691.8 1474.2,691.8 1487.9,691.6 1501.7,691.4 1515.4,691.1 1529.1,691.0 1542.9,691.2 1556.6,691.5 1570.4,691.7 1584.1,691.8 1597.9,691.7 1611.6,691.4 1625.3,691.2 1639.1,691.0 1652.8,691.1 1666.6,691.4 1680.3,691.7 1694.1,691.8 1707.8,691.8" stroke="#A0692E"/>
<polyline points="1323.0,673.4 1336.7,754.5 1350.5,779.2 1364.2,724.3 1378.0,641.3 1391.7,608.2 1405.5,656.1 1419.2,740.0 1432.9,781.1 1446.7,740.8 1460.4,656.9 1474.2,608.3 1487.9,640.6 1501.7,723.4 1515.4,779.0 1529.1,755.2 1542.9,674.2 1556.6,612.3 1570.4,627.5 1584.1,705.6 1597.9,773.2 1611.6,766.8 1625.3,692.5 1639.1,619.9 1652.8,617.4 1666.6,687.2 1680.3,763.8 1694.1,775.2 1707.8,710.8" stroke="#18CC2A"/>
<polyline points="1323.0,660.5 1336.7,683.2 1350.5,716.8 1364.2,728.7 1378.0,707.4 1391.7,673.5 1405.5,660.0 1419.2,679.8 1432.9,713.8 1446.7,729.0 1460.4,710.7 1474.2,676.6 1487.9,659.8 1501.7,676.6 1515.4,710.7 1529.1,729.0 1542.9,713.8 1556.6,679.8 1570.4,660.0 1584.1,673.5 1597.9,707.4 1611.6,728.7 1625.3,716.8 1639.1,683.2 1652.8,660.5 1666.6,670.7 1680.3,703.9 1694.1,727.9 1707.8,719.4" stroke="#BB1A7E"/>
<polyline points="1323.0,1063.8 1336.7,1054.1 1350.5,1044.3 1364.2,1034.5 1378.0,1024.5 1391.7,1014.4 1405.5,1004.2 1419.2,993.9 1432.9,983.6 1446.7,973.1 1460.4,962.5 1474.2,951.9 1487.9,941.2 1501.7,930.4 1515.4,919.5 1529.1,908.5 1542.9,897.5 1556.6,886.5 1570.4,875.3 1584.1,864.1 1597.9,852.9 1611.6,841.6 1625.3,830.2 1639.1,818.9 1652.8,807.4 1666.6,796.0 1680.3,784.5 1694.1,773.0 1707.8,761.4" stroke="#22C0D0"/>
<polyline points="1323.0,693.4 1336.7,672.0 1350.5,663.2 1364.2,672.0 1378.0,693.4 1391.7,715.3 1405.5,725.6 1419.2,718.3 1432.9,697.6 1446.7,675.1 1460.4,663.5 1474.2,669.3 1487.9,689.1 1501.7,712.0 1515.4,725.0 1529.1,720.8 1542.9,701.8 1556.6,678.6 1570.4,664.4 1584.1,667.0 1597.9,685.0 1611.6,708.3 1625.3,723.8 1639.1,722.8 1652.8,705.8 1666.6,682.4 1680.3,665.8 1694.1,665.2 1707.8,681.1" stroke="#1E1E9A"/>
<polyline points="1323.0,641.3 1336.7,662.9 1350.5,686.4 1364.2,710.3 1378.0,733.4 1391.7,754.1 1405.5,771.3 1419.2,784.0 1432.9,791.4 1446.7,793.1 1460.4,789.0 1474.2,779.3 1487.9,764.6 1501.7,745.8 1515.4,723.9 1529.1,700.3 1542.9,676.4 1556.6,653.5 1570.4,633.0 1584.1,616.2 1597.9,604.0 1611.6,597.1 1625.3,595.9 1639.1,600.5 1652.8,610.7 1666.6,625.8 1680.3,645.0 1694.1,667.0 1707.8,690.7" stroke="#8E9E12"/>
<polyline points="1323.0,706.3 1336.7,690.4 1350.5,676.7 1364.2,673.0 1378.0,681.3 1391.7,697.0 1405.5,711.2 1419.2,716.0 1432.9,708.7 1446.7,693.3 1460.4,678.6 1474.2,672.8 1487.9,679.1 1501.7,694.1 1515.4,709.2 1529.1,716.1 1542.9,710.7 1556.6,696.2 1570.4,680.7 1584.1,672.9 1597.9,677.2 1611.6,691.1 1625.3,706.9 1639.1,715.7 1652.8,712.5 1666.6,699.2 1680.3,683.1 1694.1,673.5 1707.8,675.6" stroke="#808080"/>
<polyline points="1323.0,667.0 1336.7,682.1 1350.5,698.0 1364.2,713.7 1378.0,727.9 1391.7,739.7 1405.5,748.2 1419.2,752.7 1432.9,752.9 1446.7,748.8 1460.4,740.8 1474.2,729.3 1487.9,715.2 1501.7,699.6 1515.4,683.7 1529.1,668.5 1542.9,655.2 1556.6,644.9 1570.4,638.1 1584.1,635.5 1597.9,637.3 1611.6,643.2 1625.3,652.9 1639.1,665.7 1652.8,680.5 1666.6,696.4 1680.3,712.2 1694.1,726.6 1707.8,738.7" stroke="#955050"/>
<polyline points="1323.0,697.5 1336.7,697.6 1350.5,697.8 1364.2,697.9 1378.0,698.0 1391.7,698.2 1405.5,698.3 1419.2,698.4 1432.9,698.5 1446.7,698.6 1460.4,698.6 1474.2,698.7 1487.9,698.7 1501.7,698.8 1515.4,698.8 1529.1,698.8 1542.9,698.8 1556.6,698.7 1570.4,698.7 1584.1,698.6 1597.9,698.5 1611.6,698.5 1625.3,698.4 1639.1,698.2 1652.8,698.1 1666.6,698.0 1680.3,697.9 1694.1,697.7 1707.8,697.6" stroke="#5E9A5E"/>
<polyline points="1323.0,652.4 1336.7,654.7 1350.5,667.0 1364.2,686.2 1378.0,707.4 1391.7,725.4 1405.5,735.6 1419.2,735.5 1432.9,725.1 1446.7,707.0 1460.4,685.8 1474.2,666.7 1487.9,654.6 1501.7,652.4 1515.4,660.8 1529.1,677.6 1542.9,698.6 1556.6,718.6 1570.4,732.5 1584.1,736.8 1597.9,730.6 1611.6,715.3 1625.3,694.7 1639.1,674.1 1652.8,658.6 1666.6,652.0 1680.3,656.1 1694.1,669.8 1707.8,689.6" stroke="#22A0D4"/>
<polyline points="1323.0,692.4 1336.7,692.7 1350.5,693.4 1364.2,694.5 1378.0,695.5 1391.7,696.4 1405.5,696.8 1419.2,696.7 1432.9,696.1 1446.7,695.1 1460.4,694.0 1474.2,693.1 1487.9,692.5 1501.7,692.4 1515.4,692.9 1529.1,693.8 1542.9,694.9 1556.6,695.9 1570.4,696.6 1584.1,696.8 1597.9,696.5 1611.6,695.8 1625.3,694.7 1639.1,693.7 1652.8,692.8 1666.6,692.4 1680.3,692.5 1694.1,693.2 1707.8,694.1" stroke="#33669A"/>
<polyline points="1323.0,683.6 1336.7,679.4 1350.5,679.4 1364.2,683.7 1378.0,691.1 1391.7,699.4 1405.5,706.3 1419.2,709.8 1432.9,708.9 1446.7,703.8 1460.4,696.1 1474.2,687.9 1487.9,681.5 1501.7,678.8 1515.4,680.6 1529.1,686.4 1542.9,694.4 1556.6,702.5 1570.4,708.2 1584.1,710.0 1597.9,707.4 1611.6,701.0 1625.3,692.8 1639.1,685.0 1652.8,680.0 1666.6,679.0 1680.3,682.5 1694.1,689.4 1707.8,697.7" stroke="#000000"/>
<polyline points="1323.0,689.0 1336.7,690.4 1350.5,691.7 1364.2,692.0 1378.0,691.2 1391.7,689.8 1405.5,688.5 1419.2,688.0 1432.9,688.6 1446.7,690.0 1460.4,691.4 1474.2,692.0 1487.9,691.5 1501.7,690.2 1515.4,688.8 1529.1,688.1 1542.9,688.4 1556.6,689.6 1570.4,691.1 1584.1,691.9 1597.9,691.8 1611.6,690.6 1625.3,689.2 1639.1,688.2 1652.8,688.2 1666.6,689.2 1680.3,690.7 1694.1,691.8 1707.8,691.9" stroke="#FF0000"/>
<polyline points="1323.0,699.0 1336.7,698.8 1350.5,698.5 1364.2,698.3 1378.0,698.0 1391.7,697.8 1405.5,697.5 1419.2,697.2 1432.9,696.9 1446.7,696.7 1460.4,696.4 1474.2,696.2 1487.9,696.0 1501.7,695.8 1515.4,695.6 1529.1,695.4 1542.9,695.3 1556.6,695.3 1570.4,695.2 1584.1,695.2 1597.9,695.3 1611.6,695.3 1625.3,695.4 1639.1,695.6 1652.8,695.8 1666.6,695.9 1680.3,696.2 1694.1,696.4 1707.8,696.7" stroke="#0000FF"/>
<polyline points="1323.0,693.6 1336.7,693.7 1350.5,693.8 1364.2,694.0 1378.0,694.1 1391.7,694.2 1405.5,694.4 1419.2,694.5 1432.9,694.6 1446.7,694.8 1460.4,694.9 1474.2,695.0 1487.9,695.1 1501.7,695.2 1515.4,695.3 1529.1,695.4 1542.9,695.5 1556.6,695.5 1570.4,695.6 1584.1,695.6 1597.9,695.6 1611.6,695.6 1625.3,695.6 1639.1,695.6 1652.8,695.5 1666.6,695.5 1680.3,695.4 1694.1,695.3 1707.8,695.2" stroke="#FF00FF"/>
<polyline points="1323.0,698.4 1336.7,698.4 1350.5,698.4 1364.2,698.5 1378.0,698.5 1391.7,698.6 1405.5,698.6 1419.2,698.7 1432.9,698.8 1446.7,698.9 1460.4,699.0 1474.2,699.1 1487.9,699.2 1501.7,699.4 1515.4,699.5 1529.1,699.6 1542.9,699.7 1556.6,699.8 1570.4,699.9 1584.1,700.0 1597.9,700.1 1611.6,700.2 1625.3,700.2 1639.1,700.3 1652.8,700.3 1666.6,700.3 1680.3,700.3 1694.1,700.3 1707.8,700.2" stroke="#008000"/>
<polyline points="1323.0,693.1 1336.7,693.4 1350.5,693.7 1364.2,693.9 1378.0,694.2 1391.7,694.4 1405.5,694.6 1419.2,694.8 1432.9,694.9 1446.7,695.1 1460.4,695.1 1474.2,695.2 1487.9,695.2 1501.7,695.1 1515.4,695.1 1529.1,695.0 1542.9,694.8 1556.6,694.6 1570.4,694.4 1584.1,694.2 1597.9,694.0 1611.6,693.7 1625.3,693.4 1639.1,693.2 1652.8,692.9 1666.6,692.6 1680.3,692.3 1694.1,692.0 1707.8,691.8" stroke="#000080"/>
<polyline points="1323.0,698.7 1336.7,698.8 1350.5,698.8 1364.2,698.8 1378.0,698.8 1391.7,698.8 1405.5,698.7 1419.2,698.7 1432.9,698.6 1446.7,698.5 1460.4,698.4 1474.2,698.2 1487.9,698.1 1501.7,697.9 1515.4,697.7 1529.1,697.6 1542.9,697.4 1556.6,697.2 1570.4,697.0 1584.1,696.8 1597.9,696.6 1611.6,696.4 1625.3,696.2 1639.1,696.1 1652.8,695.9 1666.6,695.7 1680.3,695.6 1694.1,695.5 1707.8,695.4" stroke="#8000FF"/>
<polyline points="1323.0,697.5 1336.7,697.4 1350.5,697.2 1364.2,696.9 1378.0,696.7 1391.7,696.4 1405.5,696.1 1419.2,695.9 1432.9,695.8 1446.7,695.6 1460.4,695.6 1474.2,695.6 1487.9,695.7 1501.7,695.9 1515.4,696.1 1529.1,696.3 1542.9,696.6 1556.6,696.9 1570.4,697.1 1584.1,697.3 1597.9,697.5 1611.6,697.6 1625.3,697.6 1639.1,697.6 1652.8,697.5 1666.6,697.4 1680.3,697.2 1694.1,696.9 1707.8,696.6" stroke="#800080"/>
<polyline points="1323.0,695.1 1336.7,695.3 1350.5,695.4 1364.2,695.5 1378.0,695.7 1391.7,695.8 1405.5,695.8 1419.2,695.9 1432.9,695.9 1446.7,695.8 1460.4,695.8 1474.2,695.7 1487.9,695.6 1501.7,695.5 1515.4,695.4 1529.1,695.2 1542.9,695.0 1556.6,694.8 1570.4,694.6 1584.1,694.4 1597.9,694.2 1611.6,694.0 1625.3,693.8 1639.1,693.6 1652.8,693.4 1666.6,693.2 1680.3,693.1 1694.1,692.9 1707.8,692.8" stroke="#800000"/>
<polyline points="1323.0,689.5 1336.7,689.4 1350.5,689.2 1364.2,689.1 1378.0,689.0 1391.7,688.9 1405.5,688.7 1419.2,688.6 1432.9,688.6 1446.7,688.5 1460.4,688.4 1474.2,688.4 1487.9,688.3 1501.7,688.3 1515.4,688.3 1529.1,688.3 1542.9,688.4 1556.6,688.4 1570.4,688.5 1584.1,688.5 1597.9,688.6 1611.6,688.7 1625.3,688.8 1639.1,688.9 1652.8,689.1 1666.6,689.2 1680.3,689.3 1694.1,689.5 1707.8,689.6" stroke="#808000"/>
<polyline points="1323.0,693.8 1336.7,694.1 1350.5,694.6 1364.2,695.4 1378.0,696.2 1391.7,696.8 1405.5,697.1 1419.2,697.0 1432.9,696.5 1446.7,695.8 1460.4,695.0 1474.2,694.3 1487.9,693.9 1501.7,693.9 1515.4,694.2 1529.1,694.9 1542.9,695.7 1556.6,696.4 1570.4,696.9 1584.1,697.1 1597.9,696.9 1611.6,696.3 1625.3,695.5 1639.1,694.7 1652.8,694.1 1666.6,693.8 1680.3,694.0 1694.1,694.4 1707.8,695.2" stroke="#3A6AAA"/>
<polyline points="1323.0,693.3 1336.7,693.1 1350.5,693.0 1364.2,692.8 1378.0,692.7 1391.7,692.6 1405.5,692.5 1419.2,692.4 1432.9,692.3 1446.7,692.2 1460.4,692.1 1474.2,692.0 1487.9,691.9 1501.7,691.9 1515.4,691.9 1529.1,691.8 1542.9,691.8 1556.6,691.8 1570.4,691.8 1584.1,691.8 1597.9,691.8 1611.6,691.9 1625.3,691.9 1639.1,692.0 1652.8,692.0 1666.6,692.1 1680.3,692.2 1694.1,692.3 1707.8,692.4" stroke="#2E9EA2"/>
</g>
<g stroke="#000" stroke-width="2" fill="none" stroke-linecap="square">
<path d="M98.0 519.5H1266.8V867.0H98.0" stroke-linecap="butt"/>
<path d="M99.0 518.5V877.0" stroke="#2e2e2e" stroke-linecap="butt"/>
<path d="M99.0 867.0v10M196.3 867.0v5M293.6 867.0v10M390.9 867.0v5M488.3 867.0v10M585.6 867.0v5M682.9 867.0v10M780.2 867.0v5M877.5 867.0v10M974.8 867.0v5M1072.2 867.0v10M1169.5 867.0v5M1266.8 867.0v10M99.0 867.0h-10M99.0 823.6h-5M99.0 780.1h-10M99.0 736.7h-5M99.0 693.2h-10M99.0 649.8h-5M99.0 606.4h-10M99.0 562.9h-5M99.0 519.5h-10" stroke-linecap="butt"/>
</g>
<g stroke="#000" stroke-width="2" fill="none">
<rect x="1323.0" y="521.1" width="384.8" height="346.6"/>
<path d="M1323.0 867.8v6.5M1350.5 867.8v4.0M1378.0 867.8v6.5M1405.5 867.8v4.0M1432.9 867.8v6.5M1460.4 867.8v4.0M1487.9 867.8v6.5M1515.4 867.8v4.0M1542.9 867.8v6.5M1570.4 867.8v4.0M1597.9 867.8v6.5M1625.3 867.8v4.0M1652.8 867.8v6.5M1680.3 867.8v4.0M1707.8 867.8v6.5M1707.8 867.8h6.5M1707.8 824.4h4.0M1707.8 781.1h6.5M1707.8 737.8h4.0M1707.8 694.4h6.5M1707.8 651.1h4.0M1707.8 607.8h6.5M1707.8 564.4h4.0M1707.8 521.1h6.5"/>
</g>
<g stroke="#000" stroke-width="2" fill="none" stroke-dasharray="7.5 9.5">
<path d="M1266.8 753.8H1172.5V800.2H1266.8" stroke-dashoffset="-3"/>
<path d="M1321.5 535.1L1266.8 753.8" stroke-dasharray="8 11"/>
<path d="M1172.5 800.2L1320 864.2" stroke-dasharray="8 11"/>
</g>
<g font-size="23.3" letter-spacing="0.35" stroke="#000" stroke-width="0.35">
<text x="99.2" y="900.5" text-anchor="middle">0</text>
<text x="293.8" y="900.5" text-anchor="middle">60</text>
<text x="488.5" y="900.5" text-anchor="middle">120</text>
<text x="683.1" y="900.5" text-anchor="middle">180</text>
<text x="877.7" y="900.5" text-anchor="middle">240</text>
<text x="1072.4" y="900.5" text-anchor="middle">300</text>
<text x="1267.0" y="900.5" text-anchor="middle">360</text>
<text x="82.4" y="872.2" text-anchor="end">-5</text>
<text x="82.4" y="785.3" text-anchor="end">0</text>
<text x="82.4" y="698.5" text-anchor="end">5</text>
<text x="82.4" y="611.6" text-anchor="end">10</text>
<text x="82.4" y="524.7" text-anchor="end">15</text>
<text x="1323.2" y="895.2" text-anchor="middle">332</text>
<text x="1378.2" y="895.2" text-anchor="middle">336</text>
<text x="1433.1" y="895.2" text-anchor="middle">340</text>
<text x="1488.1" y="895.2" text-anchor="middle">344</text>
<text x="1543.1" y="895.2" text-anchor="middle">348</text>
<text x="1598.1" y="895.2" text-anchor="middle">352</text>
<text x="1653.0" y="895.2" text-anchor="middle">356</text>
<text x="1708.0" y="895.2" text-anchor="middle">360</text>
<text x="1718.2" y="873.0">-1.0</text>
<text x="1718.2" y="786.3">-0.5</text>
<text x="1718.2" y="699.6">0.0</text>
<text x="1718.2" y="613.0">0.5</text>
<text x="1718.2" y="526.3">1.0</text>
<text x="683" y="926.7" text-anchor="middle" letter-spacing="0" font-size="22.8">t (h)</text>
<text x="1515" y="926.7" text-anchor="middle" letter-spacing="0" font-size="22.8">t (h)</text>
<text transform="translate(21 749.3) rotate(-90)" letter-spacing="0" font-size="22.6"><tspan letter-spacing="-2.2">SSC</tspan><tspan letter-spacing="4.2"> </tspan><tspan letter-spacing="0.84">(mg/L)</tspan></text>
<text transform="translate(1771.5 645.6) rotate(90)" letter-spacing="0" font-size="22.6"><tspan letter-spacing="-2.3">SSC</tspan><tspan letter-spacing="3.1"> </tspan><tspan letter-spacing="6.15">(mg/L</tspan>)</text>
</g>
<text x="824.3" y="980.0" font-size="35" stroke="#000" stroke-width="0.3">(b) Site C2</text>
<defs><clipPath id="zc2"><rect x="1323.00" y="1025.10" width="384.80" height="346.65"/></clipPath><clipPath id="mc2"><rect x="99.00" y="1023.50" width="1167.80" height="347.50"/></clipPath></defs>
<g clip-path="url(#mc2)" fill="none" stroke-width="2" stroke-linejoin="round">
<line x1="99.0" y1="1052.17" x2="1266.8" y2="1052.17" stroke="#000"/>
</g>
<g clip-path="url(#mc2)"><g transform="translate(99.00 0) scale(3.24389 0.5)" fill="none" stroke-width="2" stroke-linejoin="round">
<path d="M0 2235l1 7 1 45 1 72 1 81 1 69 1 41 1 2 1-38 1-68 1-80 1-74 1-48 1-10 1 30 1 63 1 79 1 77 1 54 1 19 1-22 1-57 1-77 1-79 1-61 1-26 1 13 1 50 1 75 1 80 1 66 1 35 1-5 1-43 1-71 1-81 1-71 1-42 1-4 1 36 1 67 1 80 1 75 1 49 1 12 1-28 1-61 1-79 1-78 1-55 1-21 1 20 1 55 1 77 1 79 1 62 1 29 1-11 1-49 1-74 1-81 1-67 1-36 1 3 1 41 1 70 1 81 1 72 1 44 1 5 1-34 1-65 1-80 1-75 1-51 1-15 1 26 1 60 1 79 1 78 1 57 1 23 1-18 1-54 1-76 1-80 1-63 1-31 1 10 1 47 1 73 1 81 1 68 1 38 1 0 1-40 1-69 1-81 1-73 1-45 1-8 1 32 1 64 1 80 1 76 1 53 1 16 1-24 1-59 1-78 1-78 1-59 1-25 1 16 1 52 1 76 1 80 1 64 1 33 1-7 1-46 1-72 1-81 1-69 1-40 1-2 1 39 1 67 1 81 1 73 1 48 1 10 1-31 1-63 1-79 1-77 1-54 1-18 1 22 1 57 1 78 1 79 1 60 1 27 1-14 1-51 1-75 1-80 1-66 1-34 1 5 1 44 1 71 1 81 1 70 1 42 1 3 1-36 1-67 1-80 1-74 1-49 1-12 1 28 1 62 1 79 1 77 1 56 1 20 1-20 1-56 1-77 1-79 1-62 1-28 1 12 1 49 1 74 1 80 1 67 1 36 1-3 1-42 1-70 1-81 1-71 1-44 1-5 1 34 1 66 1 80 1 75 1 51 1 14 1-27 1-60 1-79 1-78 1-57 1-22 1 18 1 54 1 77 1 79 1 63 1 31 1-10 1-48 1-73 1-81 1-67 1-39 1 2 1 40 1 69 1 81 1 72 1 46 1 7 1-33 1-64 1-80 1-76 1-52 1-16 1 25 1 59 1 78 1 78 1 59 1 24 1-16 1-53 1-76 1-80 1-64 1-32 1 8 1 45 1 73 1 81 1 69 1 40 1 0 1-38 1-68 1-81 1-73 1-47 1-10 1 31 1 63 1 80 1 76 1 54 1 18 1-23 1-57 1-78 1-79 1-60 1-26 1 15 1 51 1 75 1 80 1 65 1 34 1-5 1-44 1-72 1-81 1-70 1-41 1-3 1 36 1 67 1 81 1 74 1 49 1 11 1-29 1-62 1-79 1-77 1-55 1-20 1 21 1 55 1 78 1 79 1 61 1 28 1-12 1-49 1-75 1-80 1-67 1-36 1 4 1 42 1 71 1 81 1 71 1 43 1 5 1-35 1-66 1-80 1-75 1-50 1-13 1 26 1 61 1 79 1 77 1 57 1 22 1-19 1-54 1-77 1-79 1-63 1-30 1 10 1 48 1 74 1 80 1 68 1 38 1-2 1-41 1-69 1-81 1-72 1-45 1-7 1 33 1 65 1 80 1 75 1 52 1 16 1-25 1-59 1-79 1-78 1-58 1-24 1 17 1 53 1 76 1 80 1 63 1 32 1-8 1-46 1-73 1-80 1-69 1-40" stroke="#FF0000" vector-effect="non-scaling-stroke"/>
<path d="M0 2370l1 3 1 9 1 12 1 13 1 9 1 3 1-3 1-9 1-13 1-12 1-9 1-3 1 3 1 9 1 12 1 13 1 9 1 3 1-3 1-9 1-13 1-12 1-9 1-3 1 3 1 9 1 13 1 12 1 9 1 3 1-3 1-9 1-13 1-12 1-9 1-3 1 3 1 9 1 12 1 13 1 9 1 3 1-3 1-9 1-13 1-12 1-9 1-3 1 3 1 9 1 12 1 13 1 9 1 3 1-3 1-9 1-13 1-12 1-9 1-3 1 3 1 9 1 12 1 13 1 9 1 3 1-3 1-9 1-13 1-12 1-9 1-3 1 3 1 9 1 13 1 12 1 9 1 3 1-3 1-9 1-13 1-12 1-9 1-3 1 3 1 9 1 13 1 12 1 9 1 3 1-3 1-9 1-13 1-12 1-9 1-3 1 3 1 9 1 13 1 12 1 9 1 3 1-3 1-9 1-13 1-12 1-9 1-3 1 3 1 9 1 12 1 13 1 9 1 3 1-3 1-9 1-13 1-12 1-9 1-3 1 3 1 9 1 12 1 13 1 9 1 3 1-3 1-9 1-13 1-12 1-9 1-3 1 3 1 9 1 12 1 13 1 9 1 3 1-3 1-9 1-13 1-12 1-9 1-3 1 3 1 9 1 12 1 13 1 9 1 3 1-3 1-9 1-13 1-12 1-9 1-3 1 3 1 9 1 12 1 13 1 9 1 3 1-3 1-9 1-13 1-12 1-9 1-3 1 3 1 9 1 13 1 12 1 9 1 3 1-3 1-9 1-13 1-12 1-9 1-3 1 3 1 9 1 12 1 13 1 9 1 3 1-3 1-9 1-13 1-12 1-9 1-3 1 3 1 9 1 13 1 12 1 9 1 3 1-3 1-9 1-13 1-12 1-9 1-3 1 3 1 9 1 12 1 13 1 9 1 3 1-3 1-9 1-13 1-12 1-9 1-3 1 3 1 9 1 12 1 13 1 9 1 3 1-3 1-9 1-13 1-12 1-9 1-3 1 3 1 9 1 12 1 13 1 9 1 3 1-3 1-9 1-13 1-12 1-9 1-3 1 3 1 9 1 12 1 13 1 9 1 3 1-3 1-9 1-13 1-12 1-9 1-3 1 3 1 9 1 12 1 13 1 9 1 3 1-3 1-9 1-13 1-12 1-9 1-3 1 3 1 9 1 12 1 13 1 9 1 3 1-3 1-9 1-13 1-12 1-9 1-3 1 3 1 9 1 12 1 13 1 9 1 3 1-3 1-9 1-13 1-12 1-9 1-3 1 3 1 9 1 12 1 13 1 9 1 3 1-3 1-9 1-13 1-12 1-9 1-3 1 3 1 9 1 12 1 13 1 9 1 3 1-3 1-9 1-13 1-12 1-9 1-3 1 3 1 9 1 12 1 13 1 9 1 3 1-3 1-9 1-13 1-12 1-9 1-3 1 3 1 9 1 12 1 13 1 9 1 3 1-3 1-9 1-13 1-12 1-9 1-3 1 3 1 9 1 12 1 13 1 9 1 3 1-3 1-9 1-13 1-12 1-9 1-3 1 3 1 9 1 12 1 13 1 9 1 3 1-3 1-9 1-13 1-12 1-9 1-3" stroke="#0000FF" vector-effect="non-scaling-stroke"/>
<path d="M0 2394h360" stroke="#0000FF" vector-effect="non-scaling-stroke"/>
<path d="M0 2393l1 2 1 2 1 1 1 1 1 1 1 1 1 0 1 0 1-1 1-1 1-2 1-1 1-2 1-2 1-1 1-1 1-1 1-1 1 0 1 0 1 1 1 1 1 2 1 1 1 2 1 2 1 1 1 1 1 1 1 1 1 0 1 0 1-1 1-1 1-2 1-1 1-2 1-2 1-1 1-1 1-1 1-1 1 0 1 0 1 1 1 1 1 2 1 2 1 1 1 2 1 1 1 2 1 0 1 1 1 0 1-1 1 0 1-2 1-1 1-2 1-1 1-2 1-1 1-2 1 0 1-1 1 0 1 1 1 0 1 2 1 1 1 2 1 1 1 2 1 1 1 2 1 0 1 1 1 0 1-1 1 0 1-2 1-1 1-2 1-1 1-2 1-1 1-2 1 0 1-1 1 0 1 1 1 0 1 2 1 1 1 2 1 1 1 2 1 1 1 2 1 0 1 1 1 0 1-1 1 0 1-2 1-1 1-2 1-1 1-2 1-2 1-1 1 0 1-1 1 0 1 1 1 1 1 1 1 1 1 2 1 2 1 1 1 2 1 1 1 1 1 0 1 0 1-1 1-1 1-1 1-1 1-2 1-2 1-1 1-2 1-1 1-1 1 0 1 0 1 1 1 1 1 1 1 1 1 2 1 2 1 1 1 2 1 1 1 1 1 0 1 0 1-1 1-1 1-1 1-1 1-2 1-2 1-1 1-2 1-1 1-1 1 0 1 0 1 1 1 1 1 1 1 1 1 2 1 2 1 1 1 2 1 1 1 1 1 0 1 0 1-1 1-1 1-1 1-1 1-2 1-2 1-1 1-2 1-1 1-1 1 0 1 0 1 1 1 1 1 1 1 2 1 1 1 2 1 1 1 2 1 1 1 1 1 0 1 0 1-1 1-1 1-1 1-2 1-1 1-2 1-2 1-1 1-1 1-1 1 0 1 0 1 1 1 1 1 1 1 2 1 1 1 2 1 2 1 1 1 1 1 1 1 0 1 0 1-1 1-1 1-1 1-2 1-1 1-2 1-2 1-1 1-1 1-1 1 0 1 0 1 1 1 1 1 1 1 2 1 1 1 2 1 2 1 1 1 1 1 1 1 0 1 0 1-1 1-1 1-1 1-2 1-2 1-1 1-2 1-1 1-1 1-1 1 0 1 0 1 1 1 1 1 1 1 2 1 2 1 1 1 2 1 1 1 1 1 1 1 0 1 0 1-1 1-1 1-1 1-2 1-2 1-1 1-2 1-1 1-1 1-1 1 0 1 0 1 1 1 1 1 1 1 2 1 2 1 1 1 2 1 1 1 1 1 1 1 0 1 0 1-1 1-1 1-1 1-2 1-2 1-1 1-2 1-1 1-1 1-1 1 0 1 0 1 1 1 1 1 2 1 1 1 2 1 1 1 2 1 1 1 1 1 1 1 0 1 0 1-1 1-1 1-2 1-1 1-2 1-2 1-1 1-1 1-1 1-1 1 0 1 0 1 1 1 1 1 2 1 1 1 2 1 2 1 1 1 1 1 1 1 1 1 0 1 0 1-1 1-1 1-2 1-1 1-2 1-2 1-1 1-1 1-1 1-1 1 0 1 0 1 1 1 1 1 2 1 1 1 2" stroke="#FF00FF" vector-effect="non-scaling-stroke"/>
<path d="M0 2397l1 1 1 2 1 1 1 1 1 0 1 0 1 0 1-1 1-2 1-1 1-2 1-2 1-2 1-2 1-1 1-1 1-1 1 0 1 0 1 0 1 1 1 2 1 1 1 2 1 2 1 2 1 2 1 1 1 1 1 1 1 0 1 0 1 0 1-1 1-2 1-2 1-1 1-2 1-2 1-2 1-1 1-1 1-1 1 0 1 0 1 1 1 1 1 1 1 2 1 2 1 1 1 2 1 2 1 1 1 1 1 1 1 0 1 0 1-1 1-1 1-1 1-2 1-2 1-2 1-1 1-2 1-1 1-2 1 0 1 0 1 0 1 1 1 1 1 1 1 2 1 2 1 2 1 2 1 1 1 2 1 1 1 0 1 0 1 0 1-1 1-1 1-1 1-2 1-2 1-2 1-2 1-1 1-2 1-1 1 0 1 0 1 0 1 1 1 1 1 2 1 1 1 2 1 2 1 2 1 1 1 2 1 1 1 0 1 0 1 0 1-1 1-1 1-2 1-1 1-2 1-2 1-2 1-2 1-1 1-1 1 0 1 0 1 0 1 1 1 1 1 2 1 2 1 2 1 1 1 2 1 2 1 1 1 1 1 0 1 0 1 0 1-1 1-1 1-2 1-2 1-2 1-2 1-1 1-2 1-1 1-1 1 0 1 0 1 0 1 1 1 2 1 1 1 2 1 2 1 2 1 1 1 2 1 1 1 1 1 0 1 0 1 0 1-1 1-2 1-1 1-2 1-2 1-2 1-2 1-1 1-1 1-1 1 0 1 0 1 0 1 1 1 2 1 2 1 1 1 2 1 2 1 2 1 1 1 1 1 1 1 0 1 0 1-1 1-1 1-1 1-2 1-2 1-1 1-2 1-2 1-1 1-1 1-1 1 0 1 0 1 1 1 1 1 1 1 2 1 2 1 2 1 1 1 2 1 1 1 2 1 0 1 0 1 0 1-1 1-1 1-1 1-2 1-2 1-2 1-2 1-1 1-2 1-1 1 0 1 0 1 0 1 1 1 1 1 1 1 2 1 2 1 2 1 2 1 1 1 2 1 1 1 0 1 0 1 0 1-1 1-1 1-2 1-1 1-2 1-2 1-2 1-1 1-2 1-1 1 0 1 0 1 0 1 1 1 1 1 2 1 1 1 2 1 2 1 2 1 2 1 1 1 1 1 0 1 0 1 0 1-1 1-1 1-2 1-2 1-2 1-1 1-2 1-2 1-1 1-1 1 0 1 0 1 0 1 1 1 1 1 2 1 2 1 2 1 2 1 1 1 2 1 1 1 1 1 0 1 0 1 0 1-1 1-2 1-1 1-2 1-2 1-2 1-1 1-2 1-1 1-1 1 0 1 0 1 0 1 1 1 2 1 1 1 2 1 2 1 2 1 2 1 1 1 1 1 1 1 0 1 0 1 0 1-1 1-2 1-1 1-2 1-2 1-2 1-2 1-1 1-1 1-1 1 0 1 0 1 1 1 1 1 1 1 2 1 1 1 2 1 2 1 2 1 1 1 1 1 1 1 0 1 0 1-1 1-1 1-1 1-2 1-2 1-2 1-1 1-2 1-1 1-1 1-1 1 0 1 0 1 1 1 1 1 1 1 2 1 2" stroke="#008000" vector-effect="non-scaling-stroke"/>
<path d="M0 2394h360" stroke="#008000" vector-effect="non-scaling-stroke"/>
<path d="M0 2396l1 3 1-1 1-5 1-3 1 1 1 5 1 3 1-1 1-4 1-4 1 1 1 4 1 4 1 0 1-5 1-4 1 0 1 5 1 4 1 0 1-4 1-5 1 0 1 4 1 5 1 0 1-4 1-4 1-1 1 4 1 4 1 1 1-3 1-5 1-1 1 3 1 5 1 1 1-3 1-5 1-1 1 3 1 5 1 2 1-3 1-5 1-3 1 3 1 5 1 3 1-3 1-5 1-3 1 3 1 5 1 3 1-2 1-5 1-3 1 1 1 5 1 3 1-1 1-5 1-3 1 1 1 5 1 3 1-1 1-4 1-4 1 1 1 4 1 4 1 0 1-5 1-4 1 0 1 5 1 4 1 0 1-4 1-5 1 0 1 4 1 5 1 0 1-4 1-4 1-1 1 3 1 5 1 1 1-3 1-5 1-1 1 3 1 5 1 1 1-3 1-5 1-2 1 3 1 5 1 3 1-3 1-5 1-3 1 3 1 5 1 3 1-3 1-5 1-3 1 3 1 4 1 3 1-1 1-5 1-3 1 1 1 5 1 3 1-1 1-5 1-3 1 1 1 4 1 4 1-1 1-4 1-4 1 0 1 5 1 4 1 0 1-5 1-4 1 0 1 4 1 5 1 0 1-4 1-5 1 0 1 4 1 4 1 1 1-4 1-4 1-1 1 3 1 5 1 1 1-3 1-5 1-1 1 3 1 5 1 1 1-3 1-4 1-3 1 3 1 5 1 3 1-3 1-5 1-3 1 3 1 5 1 3 1-3 1-5 1-3 1 2 1 5 1 3 1-1 1-5 1-3 1 1 1 5 1 3 1-1 1-5 1-3 1 1 1 4 1 4 1 0 1-5 1-4 1 0 1 5 1 4 1 0 1-4 1-5 1 0 1 4 1 5 1 0 1-4 1-5 1 0 1 4 1 4 1 1 1-3 1-5 1-1 1 3 1 5 1 1 1-3 1-5 1-1 1 3 1 5 1 2 1-3 1-5 1-3 1 3 1 5 1 3 1-3 1-5 1-3 1 3 1 5 1 3 1-2 1-5 1-3 1 1 1 5 1 3 1-1 1-5 1-3 1 1 1 5 1 3 1-1 1-4 1-4 1 1 1 4 1 4 1 0 1-5 1-4 1 0 1 5 1 4 1 0 1-4 1-5 1 0 1 4 1 5 1 0 1-4 1-4 1-1 1 4 1 4 1 1 1-3 1-5 1-1 1 3 1 5 1 1 1-3 1-5 1-1 1 3 1 4 1 3 1-3 1-5 1-3 1 3 1 5 1 3 1-3 1-5 1-3 1 3 1 5 1 2 1-1 1-5 1-3 1 1 1 5 1 3 1-1 1-5 1-3 1 1 1 5 1 3 1-1 1-4 1-4 1 0 1 5 1 4 1 0 1-5 1-4 1 0 1 4 1 5 1 0 1-4 1-5 1 0 1 4 1 4 1 1 1-4 1-4 1-1 1 3 1 5 1 1 1-3 1-5 1-1 1 3 1 5 1 1 1-3 1-5 1-2 1 3 1 5 1 3 1-3 1-5 1-3 1 3 1 5 1 3 1-3 1-5 1-3 1 2 1 5 1 3 1-1 1-5 1-3 1 1 1 5" stroke="#000080" vector-effect="non-scaling-stroke"/>
<path d="M0 2394h360" stroke="#8000FF" vector-effect="non-scaling-stroke"/>
<path d="M0 2393l1-4 1 1 1 6 1 4 1-1 1-6 1-4 1 1 1 5 1 5 1-1 1-5 1-5 1 1 1 5 1 5 1 0 1-5 1-6 1 0 1 5 1 5 1 1 1-5 1-5 1-1 1 4 1 6 1 1 1-4 1-6 1-1 1 4 1 6 1 1 1-4 1-5 1-2 1 3 1 6 1 2 1-3 1-6 1-2 1 3 1 6 1 2 1-2 1-6 1-3 1 2 1 6 1 3 1-2 1-6 1-3 1 2 1 5 1 4 1-1 1-6 1-4 1 1 1 6 1 4 1-1 1-5 1-5 1 1 1 5 1 5 1-1 1-5 1-5 1 0 1 6 1 5 1 0 1-5 1-5 1-1 1 5 1 5 1 1 1-5 1-5 1-1 1 4 1 6 1 1 1-4 1-6 1-1 1 4 1 5 1 2 1-3 1-6 1-2 1 3 1 6 1 2 1-3 1-6 1-2 1 3 1 5 1 3 1-2 1-6 1-3 1 2 1 6 1 3 1-2 1-6 1-3 1 2 1 5 1 4 1-1 1-6 1-4 1 1 1 6 1 4 1-1 1-5 1-5 1 1 1 5 1 5 1-1 1-5 1-5 1 0 1 5 1 5 1 1 1-5 1-5 1-1 1 5 1 5 1 1 1-4 1-6 1-1 1 4 1 6 1 1 1-4 1-5 1-2 1 4 1 5 1 2 1-3 1-6 1-2 1 3 1 6 1 2 1-3 1-5 1-3 1 2 1 6 1 3 1-2 1-6 1-3 1 2 1 6 1 3 1-2 1-5 1-4 1 1 1 6 1 4 1-1 1-6 1-4 1 1 1 5 1 5 1-1 1-5 1-5 1 1 1 5 1 5 1 0 1-5 1-6 1 0 1 5 1 5 1 1 1-5 1-5 1-1 1 5 1 5 1 1 1-4 1-6 1-1 1 4 1 6 1 1 1-4 1-5 1-2 1 3 1 6 1 2 1-3 1-6 1-2 1 3 1 6 1 2 1-3 1-5 1-3 1 2 1 6 1 3 1-2 1-6 1-3 1 2 1 5 1 4 1-1 1-6 1-4 1 1 1 6 1 4 1-1 1-6 1-4 1 1 1 5 1 5 1-1 1-5 1-5 1 0 1 6 1 5 1 0 1-5 1-5 1-1 1 5 1 5 1 1 1-5 1-5 1-1 1 4 1 6 1 1 1-4 1-6 1-1 1 4 1 5 1 2 1-3 1-6 1-2 1 3 1 6 1 2 1-3 1-6 1-2 1 3 1 5 1 3 1-2 1-6 1-3 1 2 1 6 1 3 1-2 1-6 1-3 1 2 1 5 1 4 1-1 1-6 1-4 1 1 1 6 1 4 1-1 1-5 1-5 1 1 1 5 1 5 1-1 1-5 1-5 1 0 1 5 1 6 1 0 1-5 1-5 1-1 1 5 1 5 1 1 1-4 1-6 1-1 1 4 1 6 1 1 1-4 1-6 1-1 1 4 1 5 1 2 1-3 1-6 1-2 1 3 1 6 1 2 1-3 1-6 1-2 1 2 1 6 1 3 1-2 1-6 1-3 1 2 1 6 1 3 1-2 1-5 1-4 1 1 1 6 1 4 1-1 1-6" stroke="#800080" vector-effect="non-scaling-stroke"/>
<path d="M0 2395h360" stroke="#800000" vector-effect="non-scaling-stroke"/>
<path d="M0 2394h360" stroke="#808000" vector-effect="non-scaling-stroke"/>
<path d="M0 2394h360" stroke="#3A6AAA" vector-effect="non-scaling-stroke"/>
<path d="M0 2394h360" stroke="#2E9EA2" vector-effect="non-scaling-stroke"/>
<path d="M0 2395l1-1 1-1 1-1 1 0 1 0 1-1 1 0 1 1 1 0 1 0 1 1 1 1 1 1 1 0 1 1 1 1 1 0 1 0 1 1 1 0 1-1 1 0 1 0 1-1 1-1 1-1 1 0 1-1 1-1 1 0 1 0 1-1 1 0 1 1 1 0 1 1 1 0 1 1 1 1 1 0 1 1 1 1 1 0 1 0 1 1 1 0 1-1 1 0 1-1 1 0 1-1 1-1 1 0 1-1 1-1 1 0 1 0 1-1 1 0 1 1 1 0 1 1 1 0 1 1 1 1 1 1 1 0 1 1 1 0 1 1 1 0 1 0 1-1 1 0 1-1 1 0 1-1 1-1 1-1 1 0 1-1 1 0 1-1 1 0 1 0 1 1 1 0 1 1 1 0 1 1 1 1 1 1 1 0 1 1 1 0 1 1 1 0 1 0 1-1 1 0 1-1 1 0 1-1 1-1 1-1 1 0 1-1 1 0 1-1 1 0 1 1 1 0 1 0 1 1 1 1 1 0 1 1 1 1 1 0 1 1 1 0 1 1 1 0 1-1 1 0 1 0 1-1 1-1 1 0 1-1 1-1 1 0 1-1 1 0 1-1 1 0 1 1 1 0 1 0 1 1 1 1 1 0 1 1 1 1 1 1 1 0 1 0 1 1 1 0 1-1 1 0 1 0 1-1 1-1 1 0 1-1 1-1 1-1 1 0 1 0 1-1 1 0 1 1 1 0 1 0 1 1 1 1 1 1 1 0 1 1 1 1 1 0 1 0 1 1 1 0 1-1 1 0 1-1 1 0 1-1 1-1 1 0 1-1 1-1 1 0 1 0 1-1 1 0 1 1 1 0 1 1 1 0 1 1 1 1 1 0 1 1 1 1 1 0 1 0 1 1 1 0 1-1 1 0 1-1 1 0 1-1 1-1 1-1 1 0 1-1 1 0 1-1 1 0 1 0 1 1 1 0 1 1 1 0 1 1 1 1 1 1 1 0 1 1 1 0 1 1 1 0 1 0 1-1 1 0 1-1 1 0 1-1 1-1 1-1 1 0 1-1 1 0 1-1 1 0 1 0 1 1 1 0 1 1 1 0 1 1 1 1 1 1 1 0 1 1 1 0 1 1 1 0 1 0 1-1 1 0 1-1 1-1 1 0 1-1 1-1 1 0 1-1 1 0 1-1 1 0 1 1 1 0 1 0 1 1 1 1 1 0 1 1 1 1 1 0 1 1 1 0 1 1 1 0 1-1 1 0 1 0 1-1 1-1 1 0 1-1 1-1 1-1 1 0 1 0 1-1 1 0 1 1 1 0 1 0 1 1 1 1 1 0 1 1 1 1 1 1 1 0 1 0 1 1 1 0 1-1 1 0 1 0 1-1 1-1 1-1 1 0 1-1 1-1 1 0 1 0 1-1 1 0 1 1 1 0 1 1 1 0 1 1 1 1 1 0 1 1 1 1 1 0 1 0 1 1 1 0 1-1 1 0 1-1 1 0 1-1 1-1 1 0 1-1 1-1 1 0 1 0 1-1 1 0 1 1 1 0 1 1 1 0 1 1 1 1 1 1 1 0 1 1 1 0 1 1 1 0 1 0 1-1 1 0 1-1 1 0" stroke="#A0692E" vector-effect="non-scaling-stroke"/>
<path d="M0 2395h360" stroke="#A0692E" vector-effect="non-scaling-stroke"/>
<path d="M0 2396l1-15 1-3 1 13 1 16 1 5 1-12 1-17 1-6 1 10 1 17 1 8 1-9 1-17 1-9 1 7 1 17 1 11 1-6 1-16 1-12 1 3 1 16 1 14 1-2 1-15 1-15 1 0 1 15 1 15 1 2 1-14 1-16 1-3 1 12 1 16 1 6 1-11 1-17 1-7 1 9 1 17 1 9 1-8 1-17 1-10 1 6 1 17 1 12 1-5 1-16 1-13 1 3 1 15 1 14 1-1 1-15 1-14 1-1 1 14 1 15 1 3 1-13 1-16 1-5 1 12 1 17 1 6 1-10 1-17 1-8 1 9 1 17 1 9 1-7 1-17 1-11 1 6 1 16 1 12 1-3 1-16 1-14 1 2 1 16 1 14 1 0 1-15 1-15 1-2 1 14 1 16 1 3 1-12 1-17 1-5 1 11 1 17 1 7 1-9 1-18 1-8 1 8 1 17 1 10 1-6 1-17 1-12 1 5 1 16 1 13 1-3 1-16 1-13 1 1 1 15 1 15 1 0 1-14 1-15 1-3 1 13 1 16 1 5 1-12 1-17 1-6 1 10 1 17 1 8 1-9 1-17 1-9 1 7 1 17 1 11 1-6 1-16 1-12 1 3 1 16 1 14 1-2 1-16 1-14 1 0 1 15 1 15 1 2 1-14 1-16 1-3 1 12 1 17 1 5 1-11 1-17 1-7 1 10 1 17 1 8 1-8 1-17 1-10 1 6 1 17 1 12 1-5 1-16 1-13 1 3 1 16 1 13 1-1 1-15 1-15 1 0 1 14 1 16 1 2 1-13 1-16 1-5 1 12 1 17 1 6 1-10 1-17 1-8 1 9 1 17 1 9 1-7 1-17 1-11 1 6 1 16 1 12 1-3 1-17 1-13 1 2 1 16 1 14 1 0 1-15 1-15 1-2 1 14 1 16 1 3 1-12 1-17 1-5 1 11 1 17 1 7 1-10 1-17 1-8 1 8 1 17 1 10 1-6 1-17 1-12 1 5 1 17 1 12 1-3 1-16 1-13 1 1 1 15 1 15 1 0 1-14 1-16 1-2 1 13 1 16 1 5 1-12 1-17 1-6 1 11 1 17 1 7 1-9 1-17 1-9 1 7 1 17 1 11 1-6 1-16 1-12 1 3 1 17 1 13 1-2 1-16 1-14 1 0 1 15 1 15 1 2 1-14 1-16 1-3 1 12 1 17 1 5 1-11 1-17 1-7 1 10 1 17 1 8 1-8 1-17 1-10 1 7 1 16 1 12 1-5 1-17 1-12 1 3 1 16 1 14 1-2 1-15 1-15 1 0 1 14 1 16 1 2 1-13 1-16 1-5 1 12 1 17 1 6 1-11 1-17 1-7 1 9 1 17 1 9 1-7 1-17 1-11 1 6 1 17 1 12 1-5 1-16 1-13 1 2 1 16 1 14 1 0 1-15 1-15 1-2 1 14 1 16 1 3 1-12 1-17 1-5 1 12 1 16 1 7 1-10 1-17 1-8 1 8 1 17 1 10 1-7 1-16 1-12 1 5 1 17 1 12 1-3 1-16 1-14 1 2 1 15 1 15 1 0 1-14 1-16 1-2 1 13 1 16 1 5 1-12" stroke="#18CC2A" vector-effect="non-scaling-stroke"/>
<path d="M0 2460l4-1 4 0 4-1 4-1 4-1 4-2 4-2 4-3 4-2 4-3 4-3 4-4 4-3 4-4 4-4 4-4 4-4 4-5 4-4 4-5 4-4 4-5 4-4 4-5 4-5 4-4 4-4 4-5 4-4 4-4 4-4 4-3 4-4 4-3 4-3 4-3 4-2 4-2 4-2 4-2 4-1 4-1 4 0 4-1 4 0 4 1 4 1 4 1 4 1 4 2 4 2 4 2 4 2 4 3 4 3 4 4 4 3 4 4 4 4 4 4 4 4 4 4 4 5 4 4 4 5 4 4 4 5 4 5 4 4 4 5 4 4 4 4 4 5 4 4 4 4 4 3 4 4 4 3 4 3 4 3 4 2 4 3 4 2 4 1 4 2 4 1 4 0 4 1 4 0 4-1" stroke="#22C0D0" vector-effect="non-scaling-stroke"/>
<path d="M0 2394h360" stroke="#5E9A5E" vector-effect="non-scaling-stroke"/>
<path d="M0 2399l1 0 1-2 1-2 1-2 1-2 1-1 1 0 1 1 1 2 1 3 1 2 1 1 1 0 1-1 1-2 1-2 1-2 1-2 1 0 1 1 1 1 1 3 1 2 1 2 1 0 1 0 1-2 1-2 1-3 1-1 1-1 1 0 1 2 1 2 1 2 1 2 1 1 1 0 1-1 1-2 1-3 1-2 1-1 1 0 1 1 1 2 1 2 1 2 1 2 1 0 1-1 1-1 1-3 1-2 1-2 1 0 1 0 1 2 1 2 1 3 1 1 1 1 1 0 1-1 1-3 1-2 1-2 1-1 1 0 1 1 1 2 1 3 1 2 1 1 1 0 1-1 1-2 1-2 1-2 1-2 1 0 1 0 1 2 1 3 1 2 1 2 1 0 1 0 1-2 1-2 1-2 1-2 1-1 1 0 1 1 1 3 1 2 1 2 1 1 1 0 1-1 1-2 1-2 1-3 1-1 1 0 1 1 1 2 1 2 1 2 1 2 1 0 1 0 1-2 1-2 1-3 1-2 1 0 1 0 1 2 1 2 1 2 1 2 1 1 1 0 1-1 1-2 1-3 1-2 1-1 1 0 1 1 1 2 1 2 1 2 1 2 1 0 1-1 1-1 1-3 1-2 1-2 1 0 1 0 1 2 1 2 1 3 1 1 1 1 1 0 1-2 1-2 1-2 1-2 1-1 1 0 1 1 1 2 1 3 1 2 1 1 1 0 1-1 1-2 1-2 1-2 1-2 1 0 1 1 1 1 1 3 1 2 1 2 1 0 1 0 1-2 1-2 1-3 1-1 1-1 1 0 1 1 1 3 1 2 1 2 1 1 1 0 1-1 1-2 1-3 1-2 1-1 1 0 1 1 1 2 1 2 1 2 1 2 1 0 1 0 1-2 1-3 1-2 1-2 1 0 1 0 1 2 1 2 1 2 1 2 1 1 1 0 1-1 1-3 1-2 1-2 1-1 1 0 1 1 1 2 1 2 1 3 1 1 1 0 1-1 1-2 1-2 1-2 1-2 1 0 1 0 1 2 1 2 1 3 1 2 1 0 1 0 1-2 1-2 1-2 1-2 1-1 1 0 1 1 1 2 1 3 1 2 1 1 1 0 1-1 1-2 1-2 1-3 1-1 1 0 1 1 1 1 1 3 1 2 1 2 1 0 1 0 1-2 1-2 1-3 1-1 1-1 1 0 1 2 1 2 1 2 1 2 1 1 1 0 1-1 1-2 1-3 1-2 1-1 1 0 1 1 1 2 1 2 1 2 1 2 1 0 1-1 1-1 1-3 1-2 1-2 1 0 1 0 1 2 1 2 1 3 1 1 1 1 1 0 1-2 1-2 1-2 1-2 1-1 1 0 1 1 1 2 1 3 1 2 1 1 1 0 1-1 1-2 1-2 1-2 1-2 1 0 1 0 1 2 1 3 1 2 1 2 1 0 1 0 1-2 1-2 1-2 1-2 1-1 1 0 1 1 1 3 1 2 1 2 1 1 1 0 1-1 1-2 1-2 1-3 1-1 1 0 1 1 1 2 1 2 1 2 1 2 1 0 1 0 1-2 1-2 1-3 1-2 1 0 1 0 1 2 1 2 1 2 1 2 1 1" stroke="#22A0D4" vector-effect="non-scaling-stroke"/>
<path d="M0 2395h360" stroke="#33669A" vector-effect="non-scaling-stroke"/>
<path d="M0 2396l1 0 1-1 1-1 1-1 1 0 1 0 1 1 1 0 1 1 1 1 1 0 1 0 1-1 1-1 1 0 1-1 1 0 1 0 1 1 1 1 1 1 1 0 1 0 1 0 1-1 1-1 1-1 1 0 1 0 1 0 1 1 1 1 1 1 1 0 1 0 1-1 1 0 1-1 1-1 1 0 1 0 1 1 1 1 1 0 1 1 1 0 1 0 1-1 1-1 1 0 1-1 1 0 1 0 1 1 1 1 1 1 1 0 1 0 1 0 1-1 1-1 1-1 1 0 1 0 1 1 1 0 1 1 1 1 1 0 1 0 1-1 1-1 1 0 1-1 1 0 1 0 1 1 1 1 1 0 1 1 1 0 1 0 1-1 1-1 1-1 1 0 1 0 1 0 1 1 1 1 1 1 1 0 1 0 1-1 1 0 1-1 1-1 1 0 1 0 1 1 1 1 1 0 1 1 1 0 1 0 1-1 1-1 1 0 1-1 1 0 1 0 1 1 1 1 1 1 1 0 1 0 1 0 1-1 1-1 1-1 1 0 1 0 1 1 1 0 1 1 1 1 1 0 1 0 1-1 1-1 1 0 1-1 1 0 1 0 1 1 1 1 1 0 1 1 1 0 1 0 1-1 1-1 1-1 1 0 1 0 1 0 1 1 1 1 1 1 1 0 1 0 1-1 1 0 1-1 1-1 1 0 1 0 1 1 1 1 1 0 1 1 1 0 1 0 1-1 1-1 1 0 1-1 1 0 1 0 1 1 1 1 1 1 1 0 1 0 1 0 1-1 1-1 1-1 1 0 1 0 1 1 1 0 1 1 1 1 1 0 1 0 1-1 1 0 1-1 1-1 1 0 1 0 1 1 1 1 1 0 1 1 1 0 1 0 1-1 1-1 1-1 1 0 1 0 1 0 1 1 1 1 1 1 1 0 1 0 1-1 1 0 1-1 1-1 1 0 1 0 1 1 1 0 1 1 1 1 1 0 1 0 1-1 1-1 1 0 1-1 1 0 1 0 1 1 1 1 1 1 1 0 1 0 1 0 1-1 1-1 1-1 1 0 1 0 1 1 1 0 1 1 1 1 1 0 1 0 1-1 1 0 1-1 1-1 1 0 1 0 1 1 1 1 1 0 1 1 1 0 1 0 1-1 1-1 1-1 1 0 1 0 1 0 1 1 1 1 1 1 1 0 1 0 1-1 1 0 1-1 1-1 1 0 1 0 1 1 1 0 1 1 1 1 1 0 1 0 1-1 1-1 1 0 1-1 1 0 1 0 1 1 1 1 1 1 1 0 1 0 1 0 1-1 1-1 1-1 1 0 1 0 1 1 1 0 1 1 1 1 1 0 1 0 1-1 1 0 1-1 1-1 1 0 1 0 1 1 1 1 1 0 1 1 1 0 1 0 1-1 1-1 1-1 1 0 1 0 1 0 1 1 1 1 1 1 1 0 1 0 1 0 1-1 1-1 1-1 1 0 1 0 1 1 1 0 1 1 1 1 1 0 1 0 1-1 1-1 1 0 1-1 1 0 1 0 1 1 1 1 1 1 1 0 1 0 1 0 1-1 1-1 1-1 1 0 1 0 1 0 1 1 1 1 1 1 1 0 1 0" stroke="#000000" vector-effect="non-scaling-stroke"/>
<path d="M0 2394h360" stroke="#FF0000" vector-effect="non-scaling-stroke"/>
<path d="M0 2394h360" stroke="#0000FF" vector-effect="non-scaling-stroke"/>
<path d="M0 2395h360" stroke="#FF00FF" vector-effect="non-scaling-stroke"/>
<path d="M0 2394h360" stroke="#008000" vector-effect="non-scaling-stroke"/>
<path d="M0 2394h360" stroke="#000080" vector-effect="non-scaling-stroke"/>
<path d="M0 2395h360" stroke="#8000FF" vector-effect="non-scaling-stroke"/>
<path d="M0 2395h360" stroke="#800080" vector-effect="non-scaling-stroke"/>
<path d="M0 2395h360" stroke="#800000" vector-effect="non-scaling-stroke"/>
<path d="M0 2394h360" stroke="#808000" vector-effect="non-scaling-stroke"/>
<path d="M0 2395h360" stroke="#3A6AAA" vector-effect="non-scaling-stroke"/>
<path d="M0 2394h360" stroke="#2E9EA2" vector-effect="non-scaling-stroke"/>
</g>
</g>
<g clip-path="url(#zc2)" fill="none" stroke-width="1.4" stroke-linejoin="round">
<polyline points="1323.0,1425.7 1336.7,1022.5 1350.5,663.4 1364.2,438.3 1378.0,403.7 1391.7,568.1 1405.5,890.5 1419.2,1290.0 1432.9,1666.5 1446.7,1925.8 1460.4,2002.9 1474.2,1878.4 1487.9,1583.6 1501.7,1192.3 1515.4,802.5 1529.1,511.9 1542.9,393.3 1556.6,476.4 1570.4,740.3 1584.1,1119.0 1597.9,1517.6 1611.6,1836.3 1625.3,1995.1 1639.1,1954.4 1652.8,1724.3 1666.6,1362.4 1680.3,959.5 1694.1,616.4 1707.8,419.1" stroke="#FF0000"/>
<polyline points="1323.0,1260.2 1336.7,1198.4 1350.5,1136.7 1364.2,1091.5 1378.0,1074.9 1391.7,1091.5 1405.5,1136.7 1419.2,1198.4 1432.9,1260.2 1446.7,1305.4 1460.4,1321.9 1474.2,1305.4 1487.9,1260.2 1501.7,1198.4 1515.4,1136.7 1529.1,1091.5 1542.9,1074.9 1556.6,1091.5 1570.4,1136.7 1584.1,1198.4 1597.9,1260.2 1611.6,1305.4 1625.3,1321.9 1639.1,1305.4 1652.8,1260.2 1666.6,1198.4 1680.3,1136.7 1694.1,1091.5 1707.8,1074.9" stroke="#0000FF"/>
<polyline points="1323.0,1198.1 1336.7,1198.1 1350.5,1198.2 1364.2,1198.2 1378.0,1198.3 1391.7,1198.3 1405.5,1198.4 1419.2,1198.4 1432.9,1198.5 1446.7,1198.5 1460.4,1198.6 1474.2,1198.6 1487.9,1198.6 1501.7,1198.7 1515.4,1198.7 1529.1,1198.8 1542.9,1198.8 1556.6,1198.8 1570.4,1198.8 1584.1,1198.9 1597.9,1198.9 1611.6,1198.9 1625.3,1198.9 1639.1,1198.9 1652.8,1198.9 1666.6,1198.9 1680.3,1198.9 1694.1,1198.9 1707.8,1198.9" stroke="#0000FF"/>
<polyline points="1323.0,1171.7 1336.7,1177.2 1350.5,1184.2 1364.2,1192.1 1378.0,1200.5 1391.7,1208.7 1405.5,1216.3 1419.2,1222.6 1432.9,1227.2 1446.7,1229.9 1460.4,1230.4 1474.2,1228.7 1487.9,1225.0 1501.7,1219.4 1515.4,1212.4 1529.1,1204.4 1542.9,1196.0 1556.6,1187.8 1570.4,1180.3 1584.1,1174.1 1597.9,1169.5 1611.6,1166.9 1625.3,1166.5 1639.1,1168.2 1652.8,1172.0 1666.6,1177.7 1680.3,1184.7 1694.1,1192.7 1707.8,1201.1" stroke="#FF00FF"/>
<polyline points="1323.0,1175.9 1336.7,1184.2 1350.5,1193.4 1364.2,1202.8 1378.0,1212.0 1391.7,1220.4 1405.5,1227.5 1419.2,1232.9 1432.9,1236.3 1446.7,1237.4 1460.4,1236.3 1474.2,1232.9 1487.9,1227.4 1501.7,1220.3 1515.4,1211.9 1529.1,1202.6 1542.9,1193.2 1556.6,1184.0 1570.4,1175.7 1584.1,1168.7 1597.9,1163.5 1611.6,1160.4 1625.3,1159.4 1639.1,1160.8 1652.8,1164.4 1666.6,1170.0 1680.3,1177.3 1694.1,1185.8 1707.8,1195.1" stroke="#008000"/>
<polyline points="1323.0,1196.4 1336.7,1196.4 1350.5,1196.3 1364.2,1196.2 1378.0,1196.2 1391.7,1196.1 1405.5,1196.0 1419.2,1196.0 1432.9,1195.9 1446.7,1195.8 1460.4,1195.8 1474.2,1195.7 1487.9,1195.6 1501.7,1195.6 1515.4,1195.5 1529.1,1195.5 1542.9,1195.4 1556.6,1195.3 1570.4,1195.3 1584.1,1195.3 1597.9,1195.2 1611.6,1195.2 1625.3,1195.1 1639.1,1195.1 1652.8,1195.1 1666.6,1195.1 1680.3,1195.0 1694.1,1195.0 1707.8,1195.0" stroke="#008000"/>
<polyline points="1323.0,1205.3 1336.7,1181.2 1350.5,1173.9 1364.2,1190.3 1378.0,1214.6 1391.7,1223.2 1405.5,1207.8 1419.2,1183.3 1432.9,1173.4 1446.7,1187.8 1460.4,1212.5 1474.2,1223.5 1487.9,1210.2 1501.7,1185.5 1515.4,1173.3 1529.1,1185.5 1542.9,1210.2 1556.6,1223.5 1570.4,1212.5 1584.1,1187.8 1597.9,1173.4 1611.6,1183.3 1625.3,1207.8 1639.1,1223.2 1652.8,1214.6 1666.6,1190.3 1680.3,1173.9 1694.1,1181.2 1707.8,1205.3" stroke="#000080"/>
<polyline points="1323.0,1197.2 1336.7,1197.2 1350.5,1197.1 1364.2,1197.1 1378.0,1197.1 1391.7,1197.1 1405.5,1197.1 1419.2,1197.1 1432.9,1197.2 1446.7,1197.2 1460.4,1197.2 1474.2,1197.3 1487.9,1197.3 1501.7,1197.4 1515.4,1197.5 1529.1,1197.5 1542.9,1197.6 1556.6,1197.7 1570.4,1197.7 1584.1,1197.8 1597.9,1197.9 1611.6,1197.9 1625.3,1198.0 1639.1,1198.0 1652.8,1198.1 1666.6,1198.1 1680.3,1198.1 1694.1,1198.1 1707.8,1198.2" stroke="#8000FF"/>
<polyline points="1323.0,1188.9 1336.7,1217.4 1350.5,1227.5 1364.2,1209.4 1378.0,1180.7 1391.7,1169.1 1405.5,1186.0 1419.2,1214.9 1432.9,1227.8 1446.7,1212.2 1460.4,1183.2 1474.2,1169.0 1487.9,1183.2 1501.7,1212.2 1515.4,1227.8 1529.1,1214.9 1542.9,1186.0 1556.6,1169.1 1570.4,1180.7 1584.1,1209.4 1597.9,1227.5 1611.6,1217.4 1625.3,1188.9 1639.1,1169.6 1652.8,1178.3 1666.6,1206.5 1680.3,1226.9 1694.1,1219.7 1707.8,1191.9" stroke="#800080"/>
<polyline points="1323.0,1200.1 1336.7,1199.7 1350.5,1199.2 1364.2,1198.9 1378.0,1198.8 1391.7,1198.9 1405.5,1199.2 1419.2,1199.6 1432.9,1200.1 1446.7,1200.4 1460.4,1200.6 1474.2,1200.6 1487.9,1200.4 1501.7,1200.0 1515.4,1199.5 1529.1,1199.1 1542.9,1198.8 1556.6,1198.8 1570.4,1199.0 1584.1,1199.3 1597.9,1199.8 1611.6,1200.2 1625.3,1200.5 1639.1,1200.6 1652.8,1200.5 1666.6,1200.2 1680.3,1199.8 1694.1,1199.3 1707.8,1199.0" stroke="#800000"/>
<polyline points="1323.0,1195.5 1336.7,1195.5 1350.5,1195.5 1364.2,1195.5 1378.0,1195.5 1391.7,1195.5 1405.5,1195.5 1419.2,1195.6 1432.9,1195.6 1446.7,1195.7 1460.4,1195.8 1474.2,1195.9 1487.9,1196.0 1501.7,1196.1 1515.4,1196.2 1529.1,1196.4 1542.9,1196.5 1556.6,1196.7 1570.4,1196.8 1584.1,1196.9 1597.9,1197.1 1611.6,1197.2 1625.3,1197.3 1639.1,1197.5 1652.8,1197.6 1666.6,1197.7 1680.3,1197.8 1694.1,1197.9 1707.8,1198.0" stroke="#808000"/>
<polyline points="1323.0,1196.4 1336.7,1196.4 1350.5,1196.3 1364.2,1196.2 1378.0,1196.1 1391.7,1196.0 1405.5,1195.9 1419.2,1196.0 1432.9,1196.0 1446.7,1196.1 1460.4,1196.3 1474.2,1196.4 1487.9,1196.4 1501.7,1196.4 1515.4,1196.3 1529.1,1196.2 1542.9,1196.1 1556.6,1196.0 1570.4,1195.9 1584.1,1196.0 1597.9,1196.0 1611.6,1196.1 1625.3,1196.3 1639.1,1196.4 1652.8,1196.4 1666.6,1196.4 1680.3,1196.3 1694.1,1196.2 1707.8,1196.1" stroke="#3A6AAA"/>
<polyline points="1323.0,1198.8 1336.7,1197.7 1350.5,1196.7 1364.2,1196.8 1378.0,1197.9 1391.7,1198.9 1405.5,1199.0 1419.2,1198.0 1432.9,1196.9 1446.7,1196.7 1460.4,1197.6 1474.2,1198.8 1487.9,1199.1 1501.7,1198.2 1515.4,1197.1 1529.1,1196.7 1542.9,1197.4 1556.6,1198.6 1570.4,1199.1 1584.1,1198.5 1597.9,1197.3 1611.6,1196.6 1625.3,1197.2 1639.1,1198.4 1652.8,1199.1 1666.6,1198.7 1680.3,1197.5 1694.1,1196.7 1707.8,1197.0" stroke="#2E9EA2"/>
<polyline points="1323.0,1210.8 1336.7,1208.1 1350.5,1204.9 1364.2,1201.2 1378.0,1197.5 1391.7,1193.7 1405.5,1190.3 1419.2,1187.3 1432.9,1185.0 1446.7,1183.5 1460.4,1182.8 1474.2,1183.1 1487.9,1184.3 1501.7,1186.3 1515.4,1189.0 1529.1,1192.3 1542.9,1195.9 1556.6,1199.7 1570.4,1203.4 1584.1,1206.9 1597.9,1209.8 1611.6,1212.0 1625.3,1213.5 1639.1,1214.0 1652.8,1213.7 1666.6,1212.4 1680.3,1210.3 1694.1,1207.5 1707.8,1204.2" stroke="#A0692E"/>
<polyline points="1323.0,1197.9 1336.7,1198.4 1350.5,1199.0 1364.2,1199.4 1378.0,1199.7 1391.7,1199.7 1405.5,1199.4 1419.2,1198.9 1432.9,1198.4 1446.7,1197.9 1460.4,1197.5 1474.2,1197.4 1487.9,1197.6 1501.7,1198.1 1515.4,1198.6 1529.1,1199.1 1542.9,1199.6 1556.6,1199.7 1570.4,1199.6 1584.1,1199.3 1597.9,1198.7 1611.6,1198.2 1625.3,1197.7 1639.1,1197.5 1652.8,1197.5 1666.6,1197.7 1680.3,1198.2 1694.1,1198.8 1707.8,1199.3" stroke="#A0692E"/>
<polyline points="1323.0,1168.5 1336.7,1252.7 1350.5,1285.9 1364.2,1236.9 1378.0,1151.8 1391.7,1110.5 1405.5,1151.8 1419.2,1236.9 1432.9,1285.9 1446.7,1252.7 1460.4,1168.5 1474.2,1112.4 1487.9,1137.1 1501.7,1219.4 1515.4,1282.0 1529.1,1266.1 1542.9,1186.7 1556.6,1118.3 1570.4,1125.2 1584.1,1200.9 1597.9,1274.3 1611.6,1276.4 1625.3,1205.3 1639.1,1127.7 1652.8,1116.6 1666.6,1182.3 1680.3,1263.2 1694.1,1283.2 1707.8,1223.7" stroke="#18CC2A"/>
<polyline points="1323.0,1498.1 1336.7,1500.3 1350.5,1502.4 1364.2,1504.4 1378.0,1506.3 1391.7,1508.1 1405.5,1509.8 1419.2,1511.4 1432.9,1512.9 1446.7,1514.3 1460.4,1515.6 1474.2,1516.8 1487.9,1517.9 1501.7,1518.9 1515.4,1519.8 1529.1,1520.6 1542.9,1521.3 1556.6,1521.9 1570.4,1522.4 1584.1,1522.8 1597.9,1523.1 1611.6,1523.3 1625.3,1523.4 1639.1,1523.4 1652.8,1523.3 1666.6,1523.1 1680.3,1522.7 1694.1,1522.3 1707.8,1521.8" stroke="#22C0D0"/>
<polyline points="1323.0,1195.7 1336.7,1195.8 1350.5,1196.0 1364.2,1196.1 1378.0,1196.3 1391.7,1196.4 1405.5,1196.6 1419.2,1196.7 1432.9,1196.9 1446.7,1197.1 1460.4,1197.2 1474.2,1197.4 1487.9,1197.5 1501.7,1197.6 1515.4,1197.7 1529.1,1197.8 1542.9,1197.9 1556.6,1197.9 1570.4,1198.0 1584.1,1198.0 1597.9,1197.9 1611.6,1197.9 1625.3,1197.9 1639.1,1197.8 1652.8,1197.7 1666.6,1197.6 1680.3,1197.4 1694.1,1197.3 1707.8,1197.2" stroke="#5E9A5E"/>
<polyline points="1323.0,1193.8 1336.7,1205.7 1350.5,1215.8 1364.2,1221.5 1378.0,1221.5 1391.7,1215.6 1405.5,1205.5 1419.2,1193.6 1432.9,1182.9 1446.7,1176.1 1460.4,1174.9 1474.2,1179.6 1487.9,1189.0 1501.7,1200.8 1515.4,1212.0 1529.1,1219.8 1542.9,1222.2 1556.6,1218.7 1570.4,1210.1 1584.1,1198.6 1597.9,1187.0 1611.6,1178.3 1625.3,1174.6 1639.1,1176.9 1652.8,1184.6 1666.6,1195.7 1680.3,1207.5 1694.1,1217.1 1707.8,1221.9" stroke="#22A0D4"/>
<polyline points="1323.0,1199.0 1336.7,1199.1 1350.5,1199.4 1364.2,1199.7 1378.0,1199.7 1391.7,1199.6 1405.5,1199.3 1419.2,1199.1 1432.9,1199.0 1446.7,1199.1 1460.4,1199.3 1474.2,1199.6 1487.9,1199.7 1501.7,1199.7 1515.4,1199.4 1529.1,1199.1 1542.9,1199.0 1556.6,1199.0 1570.4,1199.3 1584.1,1199.5 1597.9,1199.7 1611.6,1199.7 1625.3,1199.5 1639.1,1199.2 1652.8,1199.0 1666.6,1199.0 1680.3,1199.2 1694.1,1199.5 1707.8,1199.7" stroke="#33669A"/>
<polyline points="1323.0,1194.1 1336.7,1198.0 1350.5,1202.1 1364.2,1205.1 1378.0,1206.2 1391.7,1205.1 1405.5,1202.1 1419.2,1198.0 1432.9,1194.0 1446.7,1191.3 1460.4,1190.7 1474.2,1192.2 1487.9,1195.5 1501.7,1199.7 1515.4,1203.5 1529.1,1205.8 1542.9,1206.0 1556.6,1204.1 1570.4,1200.5 1584.1,1196.4 1597.9,1192.8 1611.6,1190.8 1625.3,1191.0 1639.1,1193.4 1652.8,1197.1 1666.6,1201.3 1680.3,1204.6 1694.1,1206.2 1707.8,1205.5" stroke="#000000"/>
<polyline points="1323.0,1198.1 1336.7,1197.4 1350.5,1196.7 1364.2,1196.2 1378.0,1196.1 1391.7,1196.2 1405.5,1196.7 1419.2,1197.4 1432.9,1198.1 1446.7,1198.7 1460.4,1199.0 1474.2,1198.9 1487.9,1198.5 1501.7,1197.9 1515.4,1197.1 1529.1,1196.5 1542.9,1196.1 1556.6,1196.1 1570.4,1196.4 1584.1,1197.0 1597.9,1197.7 1611.6,1198.4 1625.3,1198.8 1639.1,1199.0 1652.8,1198.8 1666.6,1198.3 1680.3,1197.6 1694.1,1196.9 1707.8,1196.3" stroke="#FF0000"/>
<polyline points="1323.0,1198.4 1336.7,1197.8 1350.5,1197.2 1364.2,1196.6 1378.0,1196.2 1391.7,1196.1 1405.5,1196.3 1419.2,1196.8 1432.9,1197.4 1446.7,1198.0 1460.4,1198.5 1474.2,1198.7 1487.9,1198.6 1501.7,1198.2 1515.4,1197.6 1529.1,1197.0 1542.9,1196.4 1556.6,1196.1 1570.4,1196.1 1584.1,1196.4 1597.9,1197.0 1611.6,1197.6 1625.3,1198.2 1639.1,1198.6 1652.8,1198.7 1666.6,1198.5 1680.3,1198.0 1694.1,1197.4 1707.8,1196.8" stroke="#0000FF"/>
<polyline points="1323.0,1200.7 1336.7,1200.7 1350.5,1200.8 1364.2,1200.8 1378.0,1200.8 1391.7,1200.8 1405.5,1200.8 1419.2,1200.7 1432.9,1200.7 1446.7,1200.7 1460.4,1200.7 1474.2,1200.7 1487.9,1200.6 1501.7,1200.6 1515.4,1200.5 1529.1,1200.5 1542.9,1200.4 1556.6,1200.4 1570.4,1200.3 1584.1,1200.3 1597.9,1200.2 1611.6,1200.2 1625.3,1200.1 1639.1,1200.0 1652.8,1200.0 1666.6,1199.9 1680.3,1199.8 1694.1,1199.8 1707.8,1199.7" stroke="#FF00FF"/>
<polyline points="1323.0,1197.9 1336.7,1197.7 1350.5,1197.5 1364.2,1197.2 1378.0,1196.9 1391.7,1196.6 1405.5,1196.6 1419.2,1196.7 1432.9,1196.9 1446.7,1197.2 1460.4,1197.6 1474.2,1197.8 1487.9,1197.9 1501.7,1197.8 1515.4,1197.6 1529.1,1197.3 1542.9,1197.0 1556.6,1196.7 1570.4,1196.6 1584.1,1196.6 1597.9,1196.8 1611.6,1197.1 1625.3,1197.4 1639.1,1197.7 1652.8,1197.9 1666.6,1197.9 1680.3,1197.7 1694.1,1197.4 1707.8,1197.1" stroke="#008000"/>
<polyline points="1323.0,1195.8 1336.7,1195.6 1350.5,1195.3 1364.2,1195.1 1378.0,1195.2 1391.7,1195.4 1405.5,1195.7 1419.2,1195.9 1432.9,1195.9 1446.7,1195.7 1460.4,1195.3 1474.2,1195.1 1487.9,1195.1 1501.7,1195.3 1515.4,1195.7 1529.1,1195.9 1542.9,1195.9 1556.6,1195.7 1570.4,1195.4 1584.1,1195.2 1597.9,1195.1 1611.6,1195.3 1625.3,1195.6 1639.1,1195.9 1652.8,1195.9 1666.6,1195.8 1680.3,1195.5 1694.1,1195.2 1707.8,1195.1" stroke="#000080"/>
<polyline points="1323.0,1199.8 1336.7,1199.7 1350.5,1199.7 1364.2,1199.6 1378.0,1199.5 1391.7,1199.5 1405.5,1199.4 1419.2,1199.3 1432.9,1199.2 1446.7,1199.1 1460.4,1199.1 1474.2,1199.0 1487.9,1198.9 1501.7,1198.8 1515.4,1198.7 1529.1,1198.6 1542.9,1198.5 1556.6,1198.4 1570.4,1198.3 1584.1,1198.2 1597.9,1198.1 1611.6,1198.0 1625.3,1197.9 1639.1,1197.8 1652.8,1197.8 1666.6,1197.7 1680.3,1197.6 1694.1,1197.5 1707.8,1197.5" stroke="#8000FF"/>
<polyline points="1323.0,1200.7 1336.7,1201.5 1350.5,1200.8 1364.2,1199.4 1378.0,1198.5 1391.7,1199.0 1405.5,1200.4 1419.2,1201.4 1432.9,1201.1 1446.7,1199.7 1460.4,1198.6 1474.2,1198.8 1487.9,1200.1 1501.7,1201.3 1515.4,1201.3 1529.1,1200.0 1542.9,1198.7 1556.6,1198.6 1570.4,1199.8 1584.1,1201.1 1597.9,1201.4 1611.6,1200.3 1625.3,1198.9 1639.1,1198.5 1652.8,1199.5 1666.6,1200.9 1680.3,1201.5 1694.1,1200.6 1707.8,1199.2" stroke="#800080"/>
<polyline points="1323.0,1200.7 1336.7,1200.7 1350.5,1200.6 1364.2,1200.6 1378.0,1200.6 1391.7,1200.5 1405.5,1200.5 1419.2,1200.5 1432.9,1200.5 1446.7,1200.4 1460.4,1200.4 1474.2,1200.4 1487.9,1200.4 1501.7,1200.4 1515.4,1200.4 1529.1,1200.4 1542.9,1200.5 1556.6,1200.5 1570.4,1200.5 1584.1,1200.5 1597.9,1200.6 1611.6,1200.6 1625.3,1200.6 1639.1,1200.7 1652.8,1200.7 1666.6,1200.8 1680.3,1200.8 1694.1,1200.8 1707.8,1200.9" stroke="#800000"/>
<polyline points="1323.0,1197.9 1336.7,1198.2 1350.5,1198.1 1364.2,1197.8 1378.0,1197.4 1391.7,1197.4 1405.5,1197.8 1419.2,1198.1 1432.9,1198.2 1446.7,1197.9 1460.4,1197.5 1474.2,1197.4 1487.9,1197.7 1501.7,1198.1 1515.4,1198.2 1529.1,1198.0 1542.9,1197.6 1556.6,1197.4 1570.4,1197.6 1584.1,1198.0 1597.9,1198.2 1611.6,1198.0 1625.3,1197.6 1639.1,1197.4 1652.8,1197.5 1666.6,1197.9 1680.3,1198.2 1694.1,1198.1 1707.8,1197.7" stroke="#808000"/>
<polyline points="1323.0,1199.5 1336.7,1199.7 1350.5,1199.8 1364.2,1199.7 1378.0,1199.4 1391.7,1199.1 1405.5,1198.7 1419.2,1198.4 1432.9,1198.3 1446.7,1198.4 1460.4,1198.7 1474.2,1199.1 1487.9,1199.5 1501.7,1199.7 1515.4,1199.8 1529.1,1199.7 1542.9,1199.4 1556.6,1199.1 1570.4,1198.7 1584.1,1198.4 1597.9,1198.3 1611.6,1198.4 1625.3,1198.7 1639.1,1199.1 1652.8,1199.5 1666.6,1199.7 1680.3,1199.8 1694.1,1199.7 1707.8,1199.4" stroke="#3A6AAA"/>
<polyline points="1323.0,1197.3 1336.7,1198.1 1350.5,1198.9 1364.2,1199.3 1378.0,1199.2 1391.7,1198.5 1405.5,1197.6 1419.2,1197.1 1432.9,1197.2 1446.7,1197.8 1460.4,1198.7 1474.2,1199.3 1487.9,1199.3 1501.7,1198.7 1515.4,1197.9 1529.1,1197.2 1542.9,1197.1 1556.6,1197.6 1570.4,1198.4 1584.1,1199.2 1597.9,1199.3 1611.6,1198.9 1625.3,1198.1 1639.1,1197.3 1652.8,1197.1 1666.6,1197.4 1680.3,1198.2 1694.1,1199.0 1707.8,1199.4" stroke="#2E9EA2"/>
</g>
<g stroke="#000" stroke-width="2" fill="none" stroke-linecap="square">
<path d="M98.0 1023.5H1266.8V1371.0H98.0" stroke-linecap="butt"/>
<path d="M99.0 1022.5V1381.0" stroke="#2e2e2e" stroke-linecap="butt"/>
<path d="M99.0 1371.0v10M196.3 1371.0v5M293.6 1371.0v10M390.9 1371.0v5M488.3 1371.0v10M585.6 1371.0v5M682.9 1371.0v10M780.2 1371.0v5M877.5 1371.0v10M974.8 1371.0v5M1072.2 1371.0v10M1169.5 1371.0v5M1266.8 1371.0v10M99.0 1371.0h-10M99.0 1327.6h-5M99.0 1284.1h-10M99.0 1240.7h-5M99.0 1197.2h-10M99.0 1153.8h-5M99.0 1110.4h-10M99.0 1066.9h-5M99.0 1023.5h-10" stroke-linecap="butt"/>
</g>
<g stroke="#000" stroke-width="2" fill="none">
<rect x="1323.0" y="1025.1" width="384.8" height="346.7"/>
<path d="M1323.0 1371.8v6.5M1350.5 1371.8v4.0M1378.0 1371.8v6.5M1405.5 1371.8v4.0M1432.9 1371.8v6.5M1460.4 1371.8v4.0M1487.9 1371.8v6.5M1515.4 1371.8v4.0M1542.9 1371.8v6.5M1570.4 1371.8v4.0M1597.9 1371.8v6.5M1625.3 1371.8v4.0M1652.8 1371.8v6.5M1680.3 1371.8v4.0M1707.8 1371.8v6.5M1707.8 1371.8h6.5M1707.8 1328.4h4.0M1707.8 1285.1h6.5M1707.8 1241.8h4.0M1707.8 1198.4h6.5M1707.8 1155.1h4.0M1707.8 1111.8h6.5M1707.8 1068.4h4.0M1707.8 1025.1h6.5"/>
</g>
<g stroke="#000" stroke-width="2" fill="none" stroke-dasharray="7.5 9.5">
<path d="M1266.8 1169.8H1172.5V1222.3H1266.8" stroke-dashoffset="-3"/>
<path d="M1321.5 1039.1L1266.8 1169.8" stroke-dasharray="8 11"/>
<path d="M1172.5 1222.3L1320 1368.2" stroke-dasharray="8 11"/>
</g>
<g font-size="23.3" letter-spacing="0.35" stroke="#000" stroke-width="0.35">
<text x="99.2" y="1404.5" text-anchor="middle">0</text>
<text x="293.8" y="1404.5" text-anchor="middle">60</text>
<text x="488.5" y="1404.5" text-anchor="middle">120</text>
<text x="683.1" y="1404.5" text-anchor="middle">180</text>
<text x="877.7" y="1404.5" text-anchor="middle">240</text>
<text x="1072.4" y="1404.5" text-anchor="middle">300</text>
<text x="1267.0" y="1404.5" text-anchor="middle">360</text>
<text x="82.4" y="1376.2" text-anchor="end">-40</text>
<text x="82.4" y="1289.3" text-anchor="end">-20</text>
<text x="82.4" y="1202.5" text-anchor="end">0</text>
<text x="82.4" y="1115.6" text-anchor="end">20</text>
<text x="82.4" y="1028.7" text-anchor="end">40</text>
<text x="1323.2" y="1399.2" text-anchor="middle">332</text>
<text x="1378.2" y="1399.2" text-anchor="middle">336</text>
<text x="1433.1" y="1399.2" text-anchor="middle">340</text>
<text x="1488.1" y="1399.2" text-anchor="middle">344</text>
<text x="1543.1" y="1399.2" text-anchor="middle">348</text>
<text x="1598.1" y="1399.2" text-anchor="middle">352</text>
<text x="1653.0" y="1399.2" text-anchor="middle">356</text>
<text x="1708.0" y="1399.2" text-anchor="middle">360</text>
<text x="1718.2" y="1377.0">-4</text>
<text x="1718.2" y="1290.3">-2</text>
<text x="1718.2" y="1203.6">0</text>
<text x="1718.2" y="1117.0">2</text>
<text x="1718.2" y="1030.3">4</text>
<text x="683" y="1430.7" text-anchor="middle" letter-spacing="0" font-size="22.8">t (h)</text>
<text x="1515" y="1430.7" text-anchor="middle" letter-spacing="0" font-size="22.8">t (h)</text>
<text transform="translate(21 1253.3) rotate(-90)" letter-spacing="0" font-size="22.6"><tspan letter-spacing="-2.2">SSC</tspan><tspan letter-spacing="4.2"> </tspan><tspan letter-spacing="0.84">(mg/L)</tspan></text>
<text transform="translate(1771.5 1149.6) rotate(90)" letter-spacing="0" font-size="22.6"><tspan letter-spacing="-2.3">SSC</tspan><tspan letter-spacing="3.1"> </tspan><tspan letter-spacing="6.15">(mg/L</tspan>)</text>
</g>
<text x="824.3" y="1484.0" font-size="35" stroke="#000" stroke-width="0.3">(c) Site C3</text>
<defs><clipPath id="zc3"><rect x="1323.00" y="1529.10" width="384.80" height="346.65"/></clipPath><clipPath id="mc3"><rect x="99.00" y="1527.50" width="1167.80" height="347.50"/></clipPath></defs>
<g clip-path="url(#mc3)" fill="none" stroke-width="2" stroke-linejoin="round">
<line x1="99.0" y1="1558.57" x2="1266.8" y2="1558.57" stroke="#000"/>
</g>
<g clip-path="url(#mc3)"><g transform="translate(99.00 0) scale(3.24389 0.5)" fill="none" stroke-width="2" stroke-linejoin="round">
<path d="M0 3538l1-12 1-14 1-13 1-7 1-2 1 6 1 12 1 14 1 13 1 9 1 3 1-5 1-10 1-14 1-14 1-10 1-4 1 3 1 9 1 14 1 14 1 11 1 5 1-1 1-8 1-13 1-14 1-12 1-7 1 0 1 7 1 12 1 14 1 13 1 8 1 1 1-5 1-11 1-14 1-14 1-9 1-3 1 4 1 10 1 14 1 14 1 10 1 5 1-3 1-9 1-13 1-14 1-12 1-6 1 2 1 7 1 13 1 14 1 12 1 8 1 0 1-7 1-11 1-15 1-13 1-8 1-2 1 5 1 11 1 14 1 14 1 9 1 4 1-4 1-10 1-14 1-13 1-11 1-5 1 2 1 9 1 13 1 14 1 12 1 6 1-1 1-7 1-13 1-14 1-12 1-8 1 0 1 6 1 11 1 15 1 13 1 8 1 3 1-5 1-11 1-14 1-13 1-10 1-4 1 3 1 10 1 14 1 13 1 11 1 6 1-2 1-9 1-13 1-14 1-12 1-6 1 0 1 7 1 13 1 14 1 12 1 8 1 1 1-6 1-11 1-14 1-13 1-9 1-3 1 5 1 10 1 14 1 14 1 10 1 4 1-3 1-10 1-13 1-14 1-11 1-6 1 2 1 8 1 13 1 14 1 12 1 7 1 0 1-7 1-12 1-14 1-13 1-8 1-2 1 6 1 11 1 14 1 13 1 10 1 3 1-4 1-11 1-13 1-14 1-11 1-4 1 3 1 9 1 13 1 14 1 12 1 5 1-1 1-8 1-12 1-15 1-12 1-7 1 0 1 6 1 12 1 14 1 13 1 9 1 1 1-5 1-11 1-14 1-13 1-10 1-3 1 4 1 10 1 13 1 14 1 11 1 5 1-3 1-9 1-13 1-14 1-11 1-7 1 1 1 8 1 12 1 15 1 12 1 7 1 1 1-6 1-12 1-14 1-13 1-9 1-2 1 5 1 11 1 14 1 13 1 10 1 4 1-4 1-9 1-14 1-14 1-11 1-5 1 2 1 9 1 13 1 14 1 12 1 6 1 0 1-8 1-12 1-14 1-13 1-8 1-1 1 6 1 12 1 14 1 13 1 9 1 3 1-5 1-10 1-14 1-14 1-10 1-4 1 3 1 10 1 13 1 14 1 11 1 5 1-1 1-8 1-13 1-14 1-12 1-7 1 0 1 7 1 12 1 14 1 13 1 8 1 1 1-5 1-12 1-14 1-13 1-9 1-3 1 4 1 11 1 13 1 14 1 10 1 5 1-3 1-9 1-14 1-14 1-11 1-6 1 2 1 8 1 12 1 14 1 13 1 7 1 0 1-7 1-12 1-14 1-13 1-8 1-2 1 6 1 11 1 14 1 13 1 9 1 4 1-4 1-10 1-14 1-14 1-10 1-5 1 2 1 9 1 14 1 14 1 11 1 6 1-1 1-7 1-13 1-14 1-12 1-8 1 0 1 6 1 12 1 14 1 13 1 8 1 3 1-5 1-11 1-14 1-14 1-9 1-4 1 4 1 9 1 14 1 14 1 11 1 5 1-3 1-8 1-13 1-14 1-12 1-6 1 0 1 8 1 12 1 14 1 13 1 7 1 1 1-6" stroke="#FF0000" vector-effect="non-scaling-stroke"/>
<path d="M0 3509l1 3 1 5 1 5 1 4 1 2 1-1 1-3 1-4 1-5 1-4 1-2 1 0 1 3 1 5 1 5 1 4 1 2 1 0 1-3 1-5 1-5 1-4 1-2 1 0 1 3 1 4 1 5 1 5 1 2 1 0 1-3 1-4 1-5 1-5 1-2 1 0 1 2 1 5 1 5 1 4 1 3 1 0 1-2 1-5 1-5 1-4 1-3 1 0 1 2 1 4 1 5 1 5 1 3 1 0 1-2 1-4 1-5 1-5 1-3 1 0 1 2 1 4 1 5 1 4 1 3 1 1 1-2 1-4 1-5 1-5 1-3 1 0 1 1 1 4 1 5 1 5 1 3 1 1 1-2 1-3 1-5 1-5 1-3 1-1 1 1 1 4 1 5 1 5 1 3 1 1 1-1 1-4 1-5 1-5 1-3 1-2 1 2 1 3 1 5 1 5 1 4 1 1 1-1 1-3 1-5 1-5 1-4 1-1 1 1 1 3 1 5 1 5 1 3 1 2 1-1 1-3 1-5 1-5 1-4 1-1 1 0 1 3 1 5 1 5 1 4 1 2 1-1 1-3 1-4 1-5 1-4 1-2 1 0 1 3 1 5 1 5 1 4 1 2 1 0 1-3 1-5 1-5 1-4 1-2 1 0 1 3 1 4 1 5 1 5 1 2 1 0 1-3 1-4 1-5 1-5 1-2 1 0 1 2 1 5 1 5 1 4 1 3 1 0 1-2 1-5 1-5 1-4 1-3 1 0 1 2 1 4 1 5 1 5 1 3 1 0 1-2 1-4 1-5 1-5 1-3 1 0 1 2 1 4 1 5 1 4 1 3 1 1 1-2 1-4 1-5 1-5 1-3 1 0 1 1 1 4 1 5 1 5 1 3 1 1 1-2 1-3 1-5 1-5 1-3 1-1 1 1 1 4 1 5 1 5 1 3 1 1 1-1 1-4 1-5 1-5 1-3 1-2 1 2 1 3 1 5 1 5 1 4 1 1 1-1 1-3 1-5 1-5 1-4 1-1 1 1 1 3 1 5 1 5 1 3 1 2 1-1 1-3 1-5 1-5 1-4 1-1 1 0 1 3 1 5 1 5 1 4 1 2 1-1 1-3 1-4 1-5 1-4 1-2 1 0 1 3 1 5 1 5 1 4 1 2 1 0 1-3 1-5 1-5 1-4 1-2 1 0 1 3 1 4 1 5 1 5 1 2 1 0 1-3 1-4 1-5 1-5 1-2 1 0 1 2 1 5 1 5 1 4 1 3 1 0 1-2 1-5 1-5 1-4 1-3 1 0 1 2 1 4 1 5 1 5 1 3 1 0 1-2 1-4 1-5 1-5 1-3 1 0 1 2 1 4 1 5 1 4 1 3 1 1 1-2 1-4 1-5 1-5 1-3 1 0 1 1 1 4 1 5 1 5 1 3 1 1 1-2 1-3 1-5 1-5 1-3 1-1 1 1 1 4 1 5 1 5 1 3 1 1 1-1 1-4 1-5 1-5 1-3 1-2 1 2 1 3 1 5 1 5 1 4 1 1 1-1 1-3 1-5 1-5 1-4 1-1 1 1 1 3 1 5 1 5 1 3 1 2 1-1 1-3 1-5 1-5" stroke="#0000FF" vector-effect="non-scaling-stroke"/>
<path d="M0 3518h360" stroke="#0000FF" vector-effect="non-scaling-stroke"/>
<path d="M0 3518h360" stroke="#008000" vector-effect="non-scaling-stroke"/>
<path d="M0 3499l1 8 1 15 1 12 1 4 1-7 1-15 1-13 1-4 1 6 1 14 1 13 1 6 1-5 1-14 1-14 1-6 1 4 1 13 1 14 1 8 1-4 1-12 1-15 1-8 1 3 1 12 1 14 1 9 1-1 1-12 1-14 1-10 1 0 1 11 1 15 1 10 1 1 1-10 1-15 1-11 1-2 1 10 1 14 1 12 1 3 1-9 1-14 1-13 1-3 1 7 1 15 1 13 1 4 1-7 1-14 1-13 1-5 1 5 1 14 1 14 1 6 1-5 1-13 1-14 1-7 1 4 1 12 1 15 1 8 1-3 1-12 1-15 1-9 1 2 1 12 1 14 1 10 1-1 1-11 1-14 1-11 1 0 1 10 1 15 1 11 1 1 1-9 1-15 1-12 1-2 1 9 1 14 1 13 1 3 1-8 1-14 1-13 1-4 1 7 1 14 1 13 1 5 1-6 1-14 1-13 1-6 1 5 1 13 1 14 1 7 1-4 1-13 1-14 1-8 1 3 1 12 1 15 1 8 1-2 1-11 1-15 1-9 1 1 1 11 1 15 1 10 1 0 1-11 1-15 1-10 1-1 1 9 1 15 1 12 1 1 1-8 1-15 1-12 1-3 1 8 1 14 1 13 1 4 1-7 1-14 1-14 1-4 1 6 1 14 1 13 1 6 1-5 1-14 1-14 1-6 1 4 1 13 1 14 1 8 1-4 1-12 1-15 1-8 1 3 1 11 1 15 1 9 1-1 1-11 1-15 1-10 1 0 1 11 1 15 1 10 1 1 1-10 1-15 1-11 1-2 1 9 1 15 1 12 1 3 1-9 1-14 1-13 1-3 1 7 1 14 1 13 1 5 1-7 1-13 1-14 1-5 1 5 1 14 1 14 1 6 1-5 1-13 1-14 1-7 1 4 1 12 1 15 1 8 1-3 1-12 1-15 1-9 1 2 1 12 1 14 1 10 1-1 1-11 1-14 1-11 1 0 1 10 1 15 1 11 1 1 1-9 1-15 1-12 1-2 1 9 1 14 1 13 1 3 1-8 1-14 1-13 1-4 1 7 1 14 1 13 1 5 1-6 1-14 1-13 1-6 1 5 1 13 1 14 1 7 1-4 1-13 1-14 1-8 1 3 1 12 1 15 1 8 1-2 1-11 1-15 1-9 1 1 1 11 1 14 1 11 1 0 1-11 1-14 1-11 1-1 1 9 1 15 1 11 1 2 1-8 1-15 1-12 1-3 1 8 1 14 1 13 1 4 1-7 1-14 1-13 1-5 1 6 1 14 1 13 1 6 1-5 1-14 1-14 1-6 1 4 1 13 1 14 1 8 1-4 1-12 1-14 1-9 1 2 1 12 1 15 1 9 1-1 1-11 1-15 1-10 1 0 1 11 1 15 1 10 1 1 1-10 1-15 1-11 1-2 1 9 1 15 1 12 1 3 1-9 1-14 1-13 1-3 1 7 1 14 1 13 1 5 1-6 1-14 1-14 1-5 1 5 1 14 1 14 1 6 1-5 1-13 1-14 1-7 1 3 1 13 1 14 1 9 1-3 1-12 1-15 1-9 1 2 1 11 1 15 1 10 1-1 1-10 1-15 1-11 1 0" stroke="#000080" vector-effect="non-scaling-stroke"/>
<path d="M0 3518h360" stroke="#8000FF" vector-effect="non-scaling-stroke"/>
<path d="M0 3538l1-3 1-7 1-10 1-10 1-7 1-2 1 2 1 7 1 10 1 10 1 7 1 3 1-3 1-7 1-10 1-10 1-7 1-2 1 2 1 7 1 10 1 10 1 7 1 3 1-3 1-7 1-10 1-10 1-7 1-2 1 2 1 7 1 10 1 10 1 7 1 3 1-3 1-7 1-10 1-10 1-7 1-2 1 2 1 7 1 10 1 10 1 7 1 3 1-3 1-7 1-10 1-10 1-7 1-2 1 2 1 7 1 10 1 10 1 7 1 3 1-3 1-7 1-10 1-10 1-7 1-2 1 2 1 7 1 10 1 10 1 7 1 3 1-3 1-7 1-10 1-10 1-7 1-2 1 2 1 7 1 10 1 10 1 7 1 3 1-3 1-7 1-10 1-10 1-7 1-2 1 2 1 7 1 10 1 10 1 7 1 3 1-3 1-7 1-10 1-10 1-7 1-2 1 2 1 7 1 10 1 10 1 7 1 3 1-3 1-7 1-10 1-10 1-7 1-2 1 2 1 7 1 10 1 10 1 7 1 3 1-3 1-7 1-10 1-10 1-7 1-2 1 2 1 7 1 10 1 10 1 7 1 3 1-3 1-7 1-10 1-10 1-7 1-2 1 2 1 7 1 10 1 10 1 7 1 3 1-3 1-7 1-10 1-10 1-7 1-2 1 2 1 7 1 10 1 10 1 7 1 3 1-3 1-7 1-10 1-10 1-7 1-2 1 2 1 7 1 10 1 10 1 7 1 3 1-3 1-7 1-10 1-10 1-7 1-2 1 2 1 7 1 10 1 10 1 7 1 3 1-3 1-7 1-10 1-10 1-7 1-2 1 2 1 7 1 10 1 10 1 7 1 3 1-3 1-7 1-10 1-10 1-7 1-2 1 2 1 7 1 10 1 10 1 7 1 3 1-3 1-7 1-10 1-10 1-7 1-2 1 2 1 7 1 10 1 10 1 7 1 3 1-3 1-7 1-10 1-10 1-7 1-2 1 2 1 7 1 10 1 10 1 7 1 3 1-3 1-7 1-10 1-10 1-7 1-2 1 2 1 7 1 10 1 10 1 7 1 3 1-3 1-7 1-10 1-10 1-7 1-2 1 2 1 7 1 10 1 10 1 7 1 3 1-3 1-7 1-10 1-10 1-7 1-2 1 2 1 7 1 10 1 10 1 7 1 3 1-3 1-7 1-10 1-10 1-7 1-2 1 2 1 7 1 10 1 10 1 7 1 3 1-3 1-7 1-10 1-10 1-7 1-2 1 2 1 7 1 10 1 10 1 7 1 3 1-3 1-7 1-10 1-10 1-7 1-2 1 2 1 7 1 10 1 10 1 7 1 3 1-3 1-7 1-10 1-10 1-7 1-2 1 2 1 7 1 10 1 10 1 7 1 3 1-3 1-7 1-10 1-10 1-7 1-2 1 2 1 7 1 10 1 10 1 7 1 3 1-3 1-7 1-10 1-10 1-7 1-2 1 2 1 7 1 10 1 10 1 7 1 3 1-3 1-7 1-10 1-10 1-7 1-2 1 2 1 7 1 10 1 10 1 7 1 3 1-3 1-7 1-10 1-10 1-7 1-2 1 2 1 7 1 10 1 10 1 7 1 3" stroke="#800080" vector-effect="non-scaling-stroke"/>
<path d="M0 3521l1-3 1-2 1-2 1 0 1 0 1 2 1 2 1 3 1 1 1 1 1-1 1-1 1-3 1-2 1-2 1 0 1 0 1 2 1 2 1 3 1 1 1 1 1-1 1-1 1-3 1-2 1-2 1 0 1 0 1 2 1 2 1 3 1 1 1 1 1-1 1-1 1-3 1-2 1-2 1 0 1 0 1 2 1 2 1 3 1 1 1 1 1-1 1-1 1-3 1-2 1-2 1 0 1 0 1 2 1 2 1 3 1 1 1 1 1-1 1-1 1-3 1-2 1-2 1 0 1 0 1 2 1 2 1 3 1 1 1 1 1-1 1-1 1-3 1-2 1-2 1 0 1 0 1 2 1 2 1 3 1 1 1 1 1-1 1-1 1-3 1-2 1-2 1 0 1 0 1 2 1 2 1 3 1 1 1 1 1-1 1-1 1-3 1-2 1-2 1 0 1 0 1 2 1 2 1 3 1 1 1 1 1-1 1-1 1-3 1-2 1-2 1 0 1 0 1 2 1 2 1 3 1 1 1 1 1-1 1-1 1-3 1-2 1-2 1 0 1 0 1 2 1 2 1 3 1 1 1 1 1-1 1-1 1-3 1-2 1-2 1 0 1 0 1 2 1 2 1 3 1 1 1 1 1-1 1-1 1-3 1-2 1-2 1 0 1 0 1 2 1 2 1 3 1 1 1 1 1-1 1-1 1-3 1-2 1-2 1 0 1 0 1 2 1 2 1 3 1 1 1 1 1-1 1-1 1-3 1-2 1-2 1 0 1 0 1 2 1 2 1 3 1 1 1 1 1-1 1-1 1-3 1-2 1-2 1 0 1 0 1 2 1 2 1 3 1 1 1 1 1-1 1-1 1-3 1-2 1-2 1 0 1 0 1 2 1 2 1 3 1 1 1 1 1-1 1-1 1-3 1-2 1-2 1 0 1 0 1 2 1 2 1 3 1 1 1 1 1-1 1-1 1-3 1-2 1-2 1 0 1 0 1 2 1 2 1 3 1 1 1 1 1-1 1-1 1-3 1-2 1-2 1 0 1 0 1 2 1 2 1 3 1 1 1 1 1-1 1-1 1-3 1-2 1-2 1 0 1 0 1 2 1 2 1 3 1 1 1 1 1-1 1-1 1-3 1-2 1-2 1 0 1 0 1 2 1 2 1 3 1 1 1 1 1-1 1-1 1-3 1-2 1-2 1 0 1 0 1 2 1 2 1 3 1 1 1 1 1-1 1-1 1-3 1-2 1-2 1 0 1 0 1 2 1 2 1 3 1 1 1 1 1-1 1-1 1-3 1-2 1-2 1 0 1 0 1 2 1 2 1 3 1 1 1 1 1-1 1-1 1-3 1-2 1-2 1 0 1 0 1 2 1 2 1 3 1 1 1 1 1-1 1-1 1-3 1-2 1-2 1 0 1 0 1 2 1 2 1 3 1 1 1 1 1-1 1-1 1-3 1-2 1-2 1 0 1 0 1 2 1 2 1 3 1 1 1 1 1-1 1-1 1-3 1-2 1-2 1 0 1 0 1 2 1 2 1 3 1 1 1 1 1-1 1-1 1-3 1-2 1-2 1 0 1 0 1 2 1 2 1 3 1 1 1 1 1-1 1-1" stroke="#800000" vector-effect="non-scaling-stroke"/>
<path d="M0 3520h360" stroke="#800000" vector-effect="non-scaling-stroke"/>
<path d="M0 3518h360" stroke="#808000" vector-effect="non-scaling-stroke"/>
<path d="M0 3518h360" stroke="#3A6AAA" vector-effect="non-scaling-stroke"/>
<path d="M0 3517h360" stroke="#2E9EA2" vector-effect="non-scaling-stroke"/>
<path d="M0 3520h360" stroke="#A0692E" vector-effect="non-scaling-stroke"/>
<path d="M0 3430l1 23 1 84 1 67 1-14 1-81 1-73 1 5 1 77 1 78 1 5 1-73 1-82 1-14 1 67 1 85 1 23 1-60 1-87 1-32 1 52 1 89 1 41 1-45 1-89 1-49 1 37 1 88 1 56 1-28 1-86 1-63 1 18 1 84 1 70 1-10 1-80 1-75 1 0 1 75 1 80 1 10 1-70 1-84 1-18 1 63 1 86 1 28 1-56 1-88 1-37 1 49 1 89 1 45 1-41 1-89 1-52 1 32 1 87 1 60 1-23 1-85 1-67 1 14 1 82 1 73 1-5 1-78 1-77 1-5 1 73 1 81 1 14 1-67 1-84 1-23 1 60 1 87 1 32 1-53 1-89 1-40 1 45 1 89 1 49 1-37 1-88 1-57 1 29 1 86 1 63 1-19 1-84 1-69 1 10 1 80 1 75 1-1 1-75 1-80 1-9 1 70 1 84 1 18 1-64 1-86 1-27 1 57 1 87 1 37 1-50 1-89 1-44 1 41 1 89 1 52 1-33 1-87 1-60 1 24 1 85 1 67 1-15 1-82 1-72 1 5 1 78 1 77 1 4 1-73 1-81 1-13 1 67 1 84 1 23 1-61 1-87 1-31 1 53 1 89 1 40 1-46 1-89 1-48 1 37 1 88 1 56 1-28 1-87 1-63 1 20 1 84 1 69 1-10 1-80 1-75 1 1 1 75 1 80 1 8 1-70 1-83 1-18 1 64 1 86 1 27 1-57 1-88 1-36 1 50 1 89 1 44 1-42 1-88 1-53 1 34 1 87 1 59 1-24 1-85 1-66 1 15 1 82 1 72 1-6 1-78 1-77 1-3 1 73 1 81 1 13 1-68 1-84 1-22 1 61 1 87 1 31 1-54 1-88 1-40 1 46 1 89 1 48 1-38 1-88 1-56 1 29 1 87 1 62 1-20 1-84 1-68 1 10 1 81 1 74 1-1 1-76 1-79 1-8 1 70 1 83 1 18 1-65 1-86 1-26 1 57 1 88 1 35 1-50 1-88 1-44 1 42 1 89 1 51 1-33 1-88 1-59 1 25 1 85 1 66 1-16 1-82 1-72 1 7 1 78 1 77 1 3 1-74 1-81 1-12 1 68 1 84 1 22 1-62 1-86 1-31 1 54 1 88 1 40 1-47 1-88 1-48 1 38 1 88 1 56 1-30 1-86 1-63 1 21 1 84 1 68 1-11 1-80 1-75 1 2 1 76 1 79 1 8 1-71 1-83 1-17 1 65 1 86 1 26 1-58 1-88 1-35 1 51 1 88 1 44 1-43 1-88 1-52 1 34 1 88 1 59 1-26 1-85 1-65 1 16 1 82 1 72 1-7 1-79 1-76 1-3 1 74 1 81 1 12 1-68 1-85 1-21 1 62 1 86 1 31 1-55 1-88 1-39 1 47 1 88 1 48 1-39 1-88 1-55 1 30 1 87 1 62 1-21 1-84 1-69 1 12 1 81 1 73 1-2 1-76 1-79 1-7 1 71 1 83 1 16 1-65 1-85 1-26 1 58 1 88 1 34 1-51 1-88 1-43 1 43 1 88 1 51 1-34 1-88 1-58 1 26 1 85 1 65 1-16 1-83 1-71" stroke="#18CC2A" vector-effect="non-scaling-stroke"/>
<path d="M0 3487l1 49 1 31 1-16 1-48 1-33 1 13 1 48 1 35 1-11 1-46 1-38 1 9 1 45 1 39 1-5 1-45 1-40 1 3 1 43 1 42 1-1 1-42 1-43 1-2 1 41 1 44 1 5 1-40 1-45 1-7 1 38 1 46 1 10 1-36 1-47 1-13 1 35 1 47 1 15 1-32 1-49 1-17 1 31 1 48 1 20 1-28 1-49 1-22 1 26 1 49 1 24 1-24 1-49 1-26 1 21 1 49 1 29 1-19 1-49 1-31 1 17 1 48 1 33 1-14 1-48 1-35 1 12 1 47 1 37 1-10 1-46 1-38 1 7 1 45 1 40 1-5 1-44 1-41 1 2 1 43 1 42 1 1 1-41 1-44 1-4 1 40 1 45 1 6 1-38 1-46 1-9 1 37 1 47 1 11 1-35 1-47 1-14 1 33 1 48 1 16 1-31 1-48 1-19 1 29 1 49 1 21 1-27 1-49 1-23 1 24 1 49 1 26 1-23 1-48 1-28 1 20 1 49 1 30 1-18 1-49 1-32 1 16 1 48 1 34 1-13 1-48 1-35 1 10 1 47 1 37 1-8 1-45 1-39 1 5 1 44 1 41 1-3 1-43 1-42 1 0 1 42 1 43 1 3 1-41 1-44 1-5 1 39 1 45 1 8 1-38 1-46 1-10 1 36 1 47 1 13 1-34 1-48 1-15 1 32 1 48 1 18 1-30 1-49 1-20 1 28 1 49 1 22 1-26 1-49 1-24 1 23 1 49 1 27 1-21 1-49 1-29 1 19 1 48 1 31 1-16 1-48 1-33 1 14 1 47 1 35 1-11 1-47 1-37 1 9 1 46 1 39 1-7 1-45 1-40 1 4 1 44 1 41 1-1 1-43 1-42 1-2 1 42 1 44 1 4 1-40 1-45 1-7 1 38 1 46 1 10 1-37 1-47 1-12 1 35 1 48 1 14 1-33 1-48 1-17 1 31 1 49 1 19 1-29 1-49 1-21 1 26 1 49 1 24 1-24 1-49 1-26 1 22 1 49 1 28 1-20 1-49 1-30 1 18 1 48 1 32 1-15 1-48 1-34 1 13 1 47 1 36 1-10 1-47 1-37 1 7 1 46 1 39 1-5 1-44 1-41 1 2 1 43 1 43 1 0 1-42 1-43 1-3 1 40 1 45 1 5 1-39 1-45 1-8 1 37 1 46 1 11 1-36 1-47 1-13 1 34 1 48 1 15 1-32 1-48 1-18 1 30 1 48 1 21 1-28 1-49 1-22 1 25 1 49 1 25 1-23 1-49 1-27 1 21 1 48 1 30 1-19 1-48 1-32 1 16 1 48 1 34 1-14 1-47 1-35 1 11 1 46 1 37 1-8 1-46 1-39 1 6 1 45 1 40 1-3 1-44 1-41 1 0 1 43 1 43 1 2 1-41 1-45 1-4 1 40 1 45 1 7 1-38 1-46 1-10 1 36 1 47 1 12 1-34 1-48 1-14 1 32 1 48 1 18 1-31 1-49 1-19 1 28 1 49 1 22 1-26 1-49 1-24 1 24 1 49 1 26 1-22 1-49 1-28 1 19 1 49 1 31 1-18 1-48 1-32 1 14" stroke="#BB1A7E" vector-effect="non-scaling-stroke"/>
<path d="M0 3298l4-2 4-1 4 1 4 2 4 2 4 4 4 5 4 6 4 7 4 8 4 9 4 10 4 11 4 11 4 13 4 13 4 13 4 14 4 15 4 15 4 15 4 15 4 16 4 16 4 16 4 16 4 15 4 15 4 16 4 14 4 14 4 14 4 13 4 13 4 11 4 11 4 11 4 9 4 8 4 7 4 7 4 5 4 4 4 3 4 2 4 1 4 0 4-1 4-3 4-3 4-5 4-6 4-6 4-8 4-9 4-9 4-11 4-11 4-12 4-13 4-13 4-14 4-15 4-15 4-15 4-15 4-16 4-16 4-15 4-16 4-16 4-15 4-15 4-15 4-15 4-14 4-13 4-12 4-12 4-12 4-10 4-10 4-8 4-8 4-6 4-6 4-4 4-4 4-2 4-1" stroke="#22C0D0" vector-effect="non-scaling-stroke"/>
<path d="M0 3490l1-8 1-7 1-4 1-1 1 1 1 5 1 7 1 9 1 10 1 12 1 11 1 12 1 10 1 9 1 6 1 4 1 1 1-2 1-5 1-7 1-9 1-10 1-12 1-12 1-11 1-10 1-9 1-6 1-3 1-1 1 2 1 5 1 7 1 9 1 11 1 12 1 12 1 11 1 10 1 8 1 6 1 3 1 1 1-3 1-5 1-7 1-10 1-11 1-11 1-12 1-11 1-10 1-8 1-6 1-3 1 0 1 3 1 5 1 8 1 9 1 11 1 12 1 12 1 11 1 9 1 8 1 6 1 3 1 0 1-3 1-6 1-8 1-9 1-12 1-11 1-12 1-11 1-10 1-7 1-6 1-2 1 0 1 3 1 6 1 8 1 10 1 11 1 12 1 12 1 11 1 9 1 7 1 6 1 2 1-1 1-3 1-6 1-8 1-10 1-12 1-11 1-12 1-11 1-9 1-7 1-5 1-2 1 1 1 3 1 6 1 9 1 10 1 11 1 12 1 12 1 10 1 10 1 7 1 4 1 2 1-1 1-4 1-6 1-9 1-10 1-12 1-12 1-11 1-11 1-9 1-6 1-5 1-1 1 1 1 4 1 7 1 9 1 10 1 11 1 12 1 12 1 10 1 9 1 7 1 4 1 1 1-2 1-4 1-7 1-9 1-10 1-12 1-12 1-11 1-10 1-9 1-6 1-4 1-1 1 2 1 4 1 7 1 9 1 11 1 12 1 11 1 12 1 10 1 8 1 7 1 3 1 1 1-2 1-5 1-7 1-10 1-10 1-12 1-12 1-11 1-10 1-8 1-6 1-4 1 0 1 2 1 5 1 8 1 9 1 11 1 12 1 11 1 12 1 10 1 8 1 5 1 3 1 1 1-3 1-5 1-8 1-9 1-11 1-12 1-12 1-11 1-10 1-8 1-5 1-3 1 0 1 3 1 5 1 8 1 10 1 11 1 12 1 12 1 11 1 9 1 8 1 5 1 3 1-1 1-3 1-5 1-8 1-10 1-12 1-11 1-12 1-11 1-9 1-8 1-5 1-2 1 0 1 4 1 6 1 8 1 10 1 11 1 12 1 12 1 10 1 10 1 7 1 5 1 2 1-1 1-3 1-7 1-8 1-10 1-12 1-11 1-12 1-11 1-9 1-7 1-4 1-2 1 1 1 4 1 6 1 9 1 10 1 11 1 12 1 12 1 10 1 9 1 7 1 4 1 2 1-1 1-4 1-7 1-9 1-10 1-12 1-12 1-11 1-10 1-9 1-7 1-4 1-1 1 1 1 5 1 6 1 9 1 11 1 11 1 12 1 12 1 10 1 9 1 6 1 4 1 1 1-2 1-4 1-7 1-10 1-10 1-12 1-12 1-11 1-10 1-9 1-6 1-3 1-1 1 2 1 5 1 7 1 9 1 11 1 12 1 11 1 12 1 10 1 8 1 6 1 3 1 1 1-2 1-6 1-7 1-9 1-11 1-12 1-12 1-11 1-10 1-8 1-6 1-3 1 0 1 2 1 6 1 7 1 10 1 11 1 12 1 11 1 12 1 9 1 8 1 6 1 3 1 0 1-3 1-6 1-8 1-9 1-11 1-12 1-12" stroke="#8E9E12" vector-effect="non-scaling-stroke"/>
<path d="M0 3524l1 20 1 6 1-12 1-23 1-21 1-7 1 10 1 22 1 22 1 9 1-9 1-21 1-23 1-10 1 7 1 21 1 23 1 12 1-6 1-20 1-23 1-14 1 4 1 20 1 23 1 15 1-3 1-18 1-24 1-16 1 1 1 18 1 23 1 17 1 1 1-16 1-24 1-18 1-2 1 15 1 23 1 19 1 4 1-13 1-23 1-21 1-5 1 12 1 23 1 21 1 7 1-11 1-22 1-22 1-9 1 10 1 22 1 22 1 10 1-8 1-21 1-23 1-11 1 6 1 20 1 24 1 13 1-5 1-20 1-23 1-14 1 3 1 18 1 24 1 16 1-2 1-17 1-24 1-17 1 0 1 16 1 24 1 18 1 2 1-16 1-23 1-19 1-4 1 14 1 24 1 20 1 5 1-13 1-23 1-21 1-6 1 11 1 23 1 21 1 8 1-10 1-22 1-22 1-10 1 9 1 21 1 23 1 11 1-7 1-20 1-23 1-13 1 5 1 20 1 23 1 14 1-3 1-19 1-24 1-15 1 2 1 18 1 24 1 16 1 0 1-17 1-24 1-17 1-2 1 16 1 24 1 18 1 3 1-14 1-24 1-19 1-5 1 13 1 23 1 21 1 6 1-12 1-22 1-22 1-7 1 10 1 22 1 22 1 9 1-8 1-22 1-23 1-10 1 7 1 21 1 23 1 12 1-6 1-20 1-23 1-14 1 4 1 19 1 24 1 15 1-2 1-19 1-23 1-17 1 1 1 17 1 24 1 17 1 1 1-16 1-23 1-19 1-2 1 14 1 24 1 19 1 4 1-13 1-23 1-20 1-6 1 12 1 23 1 21 1 7 1-10 1-23 1-22 1-9 1 10 1 21 1 23 1 10 1-7 1-22 1-23 1-11 1 6 1 20 1 23 1 14 1-5 1-19 1-24 1-14 1 2 1 19 1 24 1 15 1-1 1-17 1-24 1-17 1 0 1 16 1 24 1 18 1 2 1-15 1-24 1-19 1-4 1 14 1 24 1 20 1 5 1-13 1-23 1-21 1-6 1 11 1 22 1 22 1 8 1-9 1-22 1-23 1-9 1 8 1 21 1 23 1 11 1-6 1-21 1-23 1-13 1 5 1 20 1 23 1 14 1-3 1-19 1-24 1-15 1 2 1 18 1 23 1 17 1 0 1-17 1-24 1-17 1-2 1 16 1 23 1 19 1 3 1-14 1-24 1-19 1-5 1 13 1 23 1 21 1 6 1-11 1-23 1-22 1-7 1 10 1 22 1 22 1 9 1-8 1-22 1-23 1-10 1 7 1 20 1 24 1 12 1-6 1-20 1-23 1-14 1 4 1 19 1 24 1 15 1-2 1-18 1-24 1-16 1 0 1 17 1 24 1 17 1 1 1-15 1-24 1-19 1-2 1 14 1 24 1 19 1 5 1-14 1-23 1-20 1-6 1 12 1 23 1 21 1 7 1-10 1-23 1-22 1-9 1 9 1 22 1 23 1 10 1-7 1-21 1-23 1-12 1 6 1 20 1 23 1 14 1-5 1-19 1-24 1-14 1 2 1 19 1 24 1 15 1-1 1-17 1-24 1-17 1 0 1 16 1 24" stroke="#808080" vector-effect="non-scaling-stroke"/>
<path d="M0 3458l1-7 1-2 1 4 1 8 1 12 1 16 1 18 1 19 1 18 1 16 1 13 1 9 1 5 1-1 1-5 1-11 1-14 1-16 1-19 1-18 1-18 1-15 1-11 1-7 1-3 1 3 1 8 1 12 1 16 1 17 1 19 1 18 1 17 1 13 1 10 1 5 1 0 1-6 1-9 1-14 1-17 1-18 1-19 1-17 1-16 1-11 1-8 1-3 1 3 1 7 1 12 1 15 1 17 1 19 1 18 1 17 1 14 1 10 1 5 1 1 1-5 1-9 1-14 1-16 1-18 1-19 1-18 1-15 1-12 1-8 1-4 1 2 1 7 1 11 1 15 1 18 1 18 1 19 1 17 1 14 1 10 1 6 1 1 1-4 1-9 1-13 1-16 1-18 1-19 1-18 1-16 1-12 1-9 1-3 1 1 1 6 1 11 1 15 1 17 1 18 1 19 1 17 1 15 1 10 1 7 1 1 1-4 1-8 1-13 1-16 1-17 1-19 1-18 1-16 1-13 1-9 1-4 1 1 1 5 1 11 1 14 1 17 1 19 1 18 1 17 1 15 1 12 1 6 1 2 1-3 1-8 1-12 1-16 1-18 1-18 1-19 1-16 1-13 1-10 1-4 1 0 1 6 1 10 1 14 1 16 1 19 1 18 1 18 1 15 1 12 1 7 1 2 1-2 1-8 1-12 1-15 1-18 1-19 1-18 1-16 1-14 1-10 1-5 1 0 1 5 1 10 1 13 1 17 1 18 1 19 1 17 1 16 1 12 1 7 1 3 1-2 1-7 1-12 1-15 1-17 1-19 1-18 1-17 1-14 1-10 1-6 1 0 1 4 1 9 1 14 1 16 1 18 1 19 1 18 1 15 1 13 1 8 1 3 1-2 1-6 1-11 1-15 1-17 1-19 1-18 1-17 1-15 1-10 1-6 1-1 1 4 1 8 1 13 1 16 1 18 1 19 1 18 1 16 1 13 1 8 1 4 1-1 1-6 1-11 1-14 1-18 1-18 1-19 1-17 1-14 1-11 1-7 1-1 1 3 1 8 1 13 1 16 1 17 1 19 1 18 1 16 1 14 1 9 1 4 1-1 1-5 1-11 1-14 1-17 1-18 1-19 1-17 1-15 1-12 1-6 1-3 1 3 1 8 1 12 1 16 1 18 1 18 1 19 1 16 1 13 1 10 1 5 1 0 1-6 1-10 1-13 1-17 1-18 1-19 1-18 1-15 1-12 1-7 1-3 1 3 1 7 1 12 1 15 1 18 1 18 1 19 1 16 1 14 1 10 1 5 1 1 1-5 1-9 1-14 1-16 1-18 1-19 1-18 1-15 1-13 1-8 1-3 1 2 1 7 1 12 1 15 1 17 1 19 1 18 1 17 1 14 1 10 1 6 1 1 1-4 1-9 1-13 1-17 1-18 1-18 1-18 1-16 1-13 1-8 1-3 1 1 1 6 1 11 1 15 1 17 1 19 1 18 1 17 1 15 1 11 1 6 1 1 1-4 1-8 1-13 1-16 1-18 1-19 1-18 1-16 1-13 1-8 1-4 1 1 1 6 1 10 1 14 1 17 1 19 1 19 1 17 1 15 1 11 1 6 1 2" stroke="#955050" vector-effect="non-scaling-stroke"/>
<path d="M0 3518h360" stroke="#5E9A5E" vector-effect="non-scaling-stroke"/>
<path d="M0 3533l1-2 1-5 1-8 1-7 1-5 1-2 1 2 1 5 1 7 1 8 1 5 1 2 1-2 1-5 1-8 1-7 1-5 1-2 1 2 1 5 1 7 1 8 1 5 1 2 1-2 1-5 1-8 1-7 1-5 1-2 1 2 1 5 1 7 1 8 1 5 1 2 1-2 1-5 1-8 1-7 1-5 1-2 1 2 1 5 1 7 1 8 1 5 1 2 1-2 1-5 1-8 1-7 1-5 1-2 1 2 1 5 1 7 1 8 1 5 1 2 1-2 1-5 1-8 1-7 1-5 1-2 1 2 1 5 1 7 1 8 1 5 1 2 1-2 1-5 1-8 1-7 1-5 1-2 1 2 1 5 1 7 1 8 1 5 1 2 1-2 1-5 1-8 1-7 1-5 1-2 1 2 1 5 1 7 1 8 1 5 1 2 1-2 1-5 1-8 1-7 1-5 1-2 1 2 1 5 1 7 1 8 1 5 1 2 1-2 1-5 1-8 1-7 1-5 1-2 1 2 1 5 1 7 1 8 1 5 1 2 1-2 1-5 1-8 1-7 1-5 1-2 1 2 1 5 1 7 1 8 1 5 1 2 1-2 1-5 1-8 1-7 1-5 1-2 1 2 1 5 1 7 1 8 1 5 1 2 1-2 1-5 1-8 1-7 1-5 1-2 1 2 1 5 1 7 1 8 1 5 1 2 1-2 1-5 1-8 1-7 1-5 1-2 1 2 1 5 1 7 1 8 1 5 1 2 1-2 1-5 1-8 1-7 1-5 1-2 1 2 1 5 1 7 1 8 1 5 1 2 1-2 1-5 1-8 1-7 1-5 1-2 1 2 1 5 1 7 1 8 1 5 1 2 1-2 1-5 1-8 1-7 1-5 1-2 1 2 1 5 1 7 1 8 1 5 1 2 1-2 1-5 1-8 1-7 1-5 1-2 1 2 1 5 1 7 1 8 1 5 1 2 1-2 1-5 1-8 1-7 1-5 1-2 1 2 1 5 1 7 1 8 1 5 1 2 1-2 1-5 1-8 1-7 1-5 1-2 1 2 1 5 1 7 1 8 1 5 1 2 1-2 1-5 1-8 1-7 1-5 1-2 1 2 1 5 1 7 1 8 1 5 1 2 1-2 1-5 1-8 1-7 1-5 1-2 1 2 1 5 1 7 1 8 1 5 1 2 1-2 1-5 1-8 1-7 1-5 1-2 1 2 1 5 1 7 1 8 1 5 1 2 1-2 1-5 1-8 1-7 1-5 1-2 1 2 1 5 1 7 1 8 1 5 1 2 1-2 1-5 1-8 1-7 1-5 1-2 1 2 1 5 1 7 1 8 1 5 1 2 1-2 1-5 1-8 1-7 1-5 1-2 1 2 1 5 1 7 1 8 1 5 1 2 1-2 1-5 1-8 1-7 1-5 1-2 1 2 1 5 1 7 1 8 1 5 1 2 1-2 1-5 1-8 1-7 1-5 1-2 1 2 1 5 1 7 1 8 1 5 1 2 1-2 1-5 1-8 1-7 1-5 1-2 1 2 1 5 1 7 1 8 1 5 1 2 1-2 1-5 1-8 1-7 1-5 1-2 1 2 1 5 1 7 1 8 1 5 1 2" stroke="#22A0D4" vector-effect="non-scaling-stroke"/>
<path d="M0 3518h360" stroke="#33669A" vector-effect="non-scaling-stroke"/>
<path d="M0 3526l1-5 1-5 1-5 1-3 1 0 1 4 1 5 1 5 1 5 1 2 1-1 1-4 1-5 1-6 1-4 1-1 1 1 1 4 1 6 1 5 1 4 1 1 1-2 1-5 1-5 1-5 1-4 1 0 1 3 1 4 1 6 1 5 1 2 1 0 1-3 1-5 1-5 1-5 1-2 1 1 1 3 1 6 1 5 1 4 1 2 1-2 1-4 1-5 1-5 1-4 1-1 1 2 1 4 1 6 1 5 1 3 1 1 1-3 1-5 1-5 1-5 1-3 1 0 1 3 1 5 1 6 1 5 1 2 1-1 1-4 1-5 1-5 1-4 1-2 1 1 1 4 1 6 1 5 1 4 1 1 1-2 1-5 1-5 1-5 1-3 1-1 1 3 1 4 1 6 1 5 1 2 1 0 1-3 1-5 1-5 1-5 1-2 1 1 1 3 1 5 1 6 1 4 1 2 1-2 1-3 1-6 1-5 1-4 1-1 1 2 1 4 1 6 1 5 1 3 1 1 1-3 1-5 1-5 1-5 1-3 1 0 1 3 1 5 1 6 1 4 1 3 1-1 1-3 1-6 1-5 1-4 1-2 1 1 1 4 1 5 1 6 1 4 1 1 1-2 1-4 1-6 1-5 1-3 1-1 1 2 1 5 1 6 1 5 1 2 1 0 1-3 1-5 1-5 1-5 1-2 1 1 1 3 1 5 1 6 1 4 1 2 1-1 1-4 1-6 1-5 1-4 1-1 1 2 1 4 1 5 1 6 1 3 1 1 1-3 1-4 1-6 1-5 1-3 1 0 1 3 1 5 1 6 1 4 1 3 1-1 1-3 1-5 1-6 1-4 1-2 1 1 1 4 1 5 1 6 1 4 1 1 1-2 1-4 1-6 1-5 1-3 1-1 1 2 1 5 1 5 1 5 1 3 1 0 1-2 1-5 1-6 1-5 1-2 1 1 1 3 1 5 1 6 1 4 1 2 1-1 1-4 1-6 1-5 1-4 1-1 1 2 1 4 1 5 1 5 1 4 1 1 1-3 1-4 1-6 1-5 1-3 1 0 1 3 1 5 1 5 1 5 1 3 1-1 1-3 1-5 1-6 1-4 1-2 1 1 1 4 1 5 1 5 1 4 1 2 1-2 1-4 1-6 1-5 1-3 1-1 1 2 1 5 1 5 1 5 1 3 1 0 1-2 1-5 1-6 1-4 1-3 1 1 1 3 1 5 1 5 1 5 1 2 1-1 1-4 1-5 1-6 1-4 1-1 1 2 1 4 1 5 1 5 1 4 1 1 1-2 1-5 1-6 1-5 1-3 1 0 1 3 1 5 1 5 1 5 1 3 1-1 1-3 1-5 1-6 1-4 1-2 1 1 1 4 1 5 1 5 1 4 1 2 1-2 1-4 1-5 1-6 1-3 1-1 1 2 1 5 1 5 1 5 1 3 1 1 1-3 1-5 1-6 1-4 1-3 1 0 1 4 1 5 1 5 1 5 1 2 1-1 1-4 1-5 1-6 1-4 1-1 1 1 1 4 1 6 1 5 1 4 1 1 1-2 1-5 1-5 1-5 1-4 1 0 1 3 1 4 1 6 1 5 1 3 1-1 1-3" stroke="#000000" vector-effect="non-scaling-stroke"/>
<path d="M0 3517h360" stroke="#FF0000" vector-effect="non-scaling-stroke"/>
<path d="M0 3519h360" stroke="#0000FF" vector-effect="non-scaling-stroke"/>
<path d="M0 3519h360" stroke="#FF00FF" vector-effect="non-scaling-stroke"/>
<path d="M0 3517h360" stroke="#008000" vector-effect="non-scaling-stroke"/>
<path d="M0 3519h360" stroke="#000080" vector-effect="non-scaling-stroke"/>
<path d="M0 3518h360" stroke="#8000FF" vector-effect="non-scaling-stroke"/>
<path d="M0 3519h360" stroke="#800080" vector-effect="non-scaling-stroke"/>
<path d="M0 3517h360" stroke="#800000" vector-effect="non-scaling-stroke"/>
<path d="M0 3519h360" stroke="#808000" vector-effect="non-scaling-stroke"/>
<path d="M0 3519h360" stroke="#3A6AAA" vector-effect="non-scaling-stroke"/>
<path d="M0 3518h360" stroke="#2E9EA2" vector-effect="non-scaling-stroke"/>
</g>
</g>
<g clip-path="url(#zc3)" fill="none" stroke-width="1.4" stroke-linejoin="round">
<polyline points="1323.0,1728.6 1336.7,1741.5 1350.5,1744.7 1364.2,1737.2 1378.0,1721.0 1391.7,1700.2 1405.5,1679.9 1419.2,1665.3 1432.9,1660.0 1446.7,1665.3 1460.4,1679.9 1474.2,1700.2 1487.9,1721.0 1501.7,1737.2 1515.4,1744.7 1529.1,1741.5 1542.9,1728.6 1556.6,1709.2 1570.4,1688.0 1584.1,1670.5 1597.9,1660.9 1611.6,1661.8 1625.3,1672.8 1639.1,1691.3 1652.8,1712.5 1666.6,1731.3 1680.3,1742.8 1694.1,1744.1 1707.8,1735.1" stroke="#FF0000"/>
<polyline points="1323.0,1717.2 1336.7,1715.0 1350.5,1709.6 1364.2,1702.2 1378.0,1694.9 1391.7,1689.6 1405.5,1687.7 1419.2,1689.6 1432.9,1694.9 1446.7,1702.2 1460.4,1709.6 1474.2,1715.0 1487.9,1717.2 1501.7,1715.4 1515.4,1710.2 1529.1,1703.0 1542.9,1695.6 1556.6,1690.0 1570.4,1687.7 1584.1,1689.3 1597.9,1694.3 1611.6,1701.5 1625.3,1708.9 1639.1,1714.6 1652.8,1717.1 1666.6,1715.7 1680.3,1710.9 1694.1,1703.8 1707.8,1696.3" stroke="#0000FF"/>
<polyline points="1323.0,1702.8 1336.7,1702.8 1350.5,1702.7 1364.2,1702.6 1378.0,1702.5 1391.7,1702.4 1405.5,1702.3 1419.2,1702.2 1432.9,1702.1 1446.7,1702.0 1460.4,1702.0 1474.2,1701.9 1487.9,1701.9 1501.7,1702.0 1515.4,1702.1 1529.1,1702.1 1542.9,1702.3 1556.6,1702.4 1570.4,1702.5 1584.1,1702.6 1597.9,1702.7 1611.6,1702.8 1625.3,1702.8 1639.1,1702.8 1652.8,1702.8 1666.6,1702.8 1680.3,1702.7 1694.1,1702.6 1707.8,1702.5" stroke="#0000FF"/>
<polyline points="1323.0,1701.8 1336.7,1701.8 1350.5,1701.8 1364.2,1701.8 1378.0,1701.9 1391.7,1701.9 1405.5,1701.9 1419.2,1701.9 1432.9,1701.9 1446.7,1701.9 1460.4,1701.9 1474.2,1702.0 1487.9,1702.0 1501.7,1702.0 1515.4,1702.0 1529.1,1702.0 1542.9,1702.0 1556.6,1702.0 1570.4,1702.0 1584.1,1702.0 1597.9,1702.0 1611.6,1702.0 1625.3,1702.0 1639.1,1702.0 1652.8,1702.0 1666.6,1702.0 1680.3,1702.0 1694.1,1702.0 1707.8,1702.0" stroke="#008000"/>
<polyline points="1323.0,1722.2 1336.7,1701.4 1350.5,1681.2 1364.2,1673.0 1378.0,1681.2 1391.7,1701.4 1405.5,1722.2 1419.2,1731.8 1432.9,1725.0 1446.7,1705.4 1460.4,1684.2 1474.2,1673.2 1487.9,1678.7 1501.7,1697.4 1515.4,1719.0 1529.1,1731.3 1542.9,1727.3 1556.6,1709.4 1570.4,1687.5 1584.1,1674.0 1597.9,1676.5 1611.6,1693.5 1625.3,1715.6 1639.1,1730.2 1652.8,1729.2 1666.6,1713.2 1680.3,1691.1 1694.1,1675.4 1707.8,1674.9" stroke="#000080"/>
<polyline points="1323.0,1701.5 1336.7,1701.5 1350.5,1701.5 1364.2,1701.5 1378.0,1701.5 1391.7,1701.5 1405.5,1701.6 1419.2,1701.6 1432.9,1701.6 1446.7,1701.6 1460.4,1701.6 1474.2,1701.7 1487.9,1701.7 1501.7,1701.7 1515.4,1701.8 1529.1,1701.8 1542.9,1701.8 1556.6,1701.9 1570.4,1701.9 1584.1,1701.9 1597.9,1701.9 1611.6,1702.0 1625.3,1702.0 1639.1,1702.0 1652.8,1702.0 1666.6,1702.1 1680.3,1702.1 1694.1,1702.1 1707.8,1702.1" stroke="#8000FF"/>
<polyline points="1323.0,1687.7 1336.7,1702.4 1350.5,1717.2 1364.2,1727.9 1378.0,1731.9 1391.7,1727.9 1405.5,1717.2 1419.2,1702.4 1432.9,1687.7 1446.7,1676.9 1460.4,1673.0 1474.2,1676.9 1487.9,1687.7 1501.7,1702.4 1515.4,1717.2 1529.1,1727.9 1542.9,1731.9 1556.6,1727.9 1570.4,1717.2 1584.1,1702.4 1597.9,1687.7 1611.6,1676.9 1625.3,1673.0 1639.1,1676.9 1652.8,1687.7 1666.6,1702.4 1680.3,1717.2 1694.1,1727.9 1707.8,1731.9" stroke="#800080"/>
<polyline points="1323.0,1705.9 1336.7,1708.4 1350.5,1709.4 1364.2,1708.4 1378.0,1705.9 1391.7,1702.4 1405.5,1699.0 1419.2,1696.4 1432.9,1695.5 1446.7,1696.4 1460.4,1699.0 1474.2,1702.4 1487.9,1705.9 1501.7,1708.4 1515.4,1709.4 1529.1,1708.4 1542.9,1705.9 1556.6,1702.4 1570.4,1699.0 1584.1,1696.4 1597.9,1695.5 1611.6,1696.4 1625.3,1699.0 1639.1,1702.4 1652.8,1705.9 1666.6,1708.4 1680.3,1709.4 1694.1,1708.4 1707.8,1705.9" stroke="#800000"/>
<polyline points="1323.0,1704.5 1336.7,1704.1 1350.5,1703.8 1364.2,1703.6 1378.0,1703.6 1391.7,1703.8 1405.5,1704.1 1419.2,1704.5 1432.9,1704.8 1446.7,1705.0 1460.4,1705.0 1474.2,1704.9 1487.9,1704.5 1501.7,1704.1 1515.4,1703.8 1529.1,1703.6 1542.9,1703.6 1556.6,1703.8 1570.4,1704.1 1584.1,1704.5 1597.9,1704.8 1611.6,1705.0 1625.3,1705.0 1639.1,1704.9 1652.8,1704.5 1666.6,1704.1 1680.3,1703.8 1694.1,1703.6 1707.8,1703.6" stroke="#800000"/>
<polyline points="1323.0,1701.8 1336.7,1701.6 1350.5,1701.9 1364.2,1702.5 1378.0,1702.8 1391.7,1702.5 1405.5,1701.9 1419.2,1701.5 1432.9,1701.8 1446.7,1702.4 1460.4,1702.8 1474.2,1702.6 1487.9,1702.0 1501.7,1701.6 1515.4,1701.7 1529.1,1702.3 1542.9,1702.8 1556.6,1702.7 1570.4,1702.1 1584.1,1701.6 1597.9,1701.6 1611.6,1702.1 1625.3,1702.7 1639.1,1702.8 1652.8,1702.3 1666.6,1701.7 1680.3,1701.6 1694.1,1702.0 1707.8,1702.6" stroke="#808000"/>
<polyline points="1323.0,1702.5 1336.7,1702.8 1350.5,1702.8 1364.2,1702.5 1378.0,1702.3 1391.7,1702.3 1405.5,1702.5 1419.2,1702.7 1432.9,1702.8 1446.7,1702.6 1460.4,1702.3 1474.2,1702.2 1487.9,1702.4 1501.7,1702.7 1515.4,1702.8 1529.1,1702.6 1542.9,1702.4 1556.6,1702.2 1570.4,1702.4 1584.1,1702.6 1597.9,1702.8 1611.6,1702.7 1625.3,1702.4 1639.1,1702.2 1652.8,1702.3 1666.6,1702.6 1680.3,1702.8 1694.1,1702.7 1707.8,1702.5" stroke="#3A6AAA"/>
<polyline points="1323.0,1700.0 1336.7,1700.5 1350.5,1701.0 1364.2,1701.2 1378.0,1700.9 1391.7,1700.4 1405.5,1699.8 1419.2,1699.6 1432.9,1699.8 1446.7,1700.4 1460.4,1700.9 1474.2,1701.2 1487.9,1701.1 1501.7,1700.6 1515.4,1700.0 1529.1,1699.6 1542.9,1699.7 1556.6,1700.2 1570.4,1700.8 1584.1,1701.2 1597.9,1701.1 1611.6,1700.7 1625.3,1700.1 1639.1,1699.7 1652.8,1699.7 1666.6,1700.1 1680.3,1700.6 1694.1,1701.1 1707.8,1701.2" stroke="#2E9EA2"/>
<polyline points="1323.0,1705.1 1336.7,1704.8 1350.5,1704.5 1364.2,1704.2 1378.0,1704.1 1391.7,1704.0 1405.5,1704.1 1419.2,1704.4 1432.9,1704.7 1446.7,1704.9 1460.4,1705.2 1474.2,1705.2 1487.9,1705.2 1501.7,1705.0 1515.4,1704.7 1529.1,1704.4 1542.9,1704.2 1556.6,1704.0 1570.4,1704.1 1584.1,1704.2 1597.9,1704.5 1611.6,1704.8 1625.3,1705.0 1639.1,1705.2 1652.8,1705.2 1666.6,1705.1 1680.3,1704.9 1694.1,1704.6 1707.8,1704.3" stroke="#A0692E"/>
<polyline points="1323.0,1823.8 1336.7,1820.5 1350.5,1706.2 1364.2,1588.4 1378.0,1577.7 1391.7,1684.1 1405.5,1807.8 1419.2,1832.5 1432.9,1735.0 1446.7,1607.0 1460.4,1568.6 1474.2,1655.9 1487.9,1786.9 1501.7,1838.6 1515.4,1762.3 1529.1,1629.8 1542.9,1565.5 1556.6,1629.8 1570.4,1762.3 1584.1,1838.6 1597.9,1786.9 1611.6,1655.9 1625.3,1568.6 1639.1,1607.0 1652.8,1735.0 1666.6,1832.5 1680.3,1807.8 1694.1,1684.1 1707.8,1577.7" stroke="#18CC2A"/>
<polyline points="1323.0,1774.4 1336.7,1722.7 1350.5,1651.4 1364.2,1629.6 1378.0,1678.3 1391.7,1750.5 1405.5,1776.0 1419.2,1730.2 1432.9,1657.5 1446.7,1628.3 1460.4,1671.0 1474.2,1744.2 1487.9,1776.9 1501.7,1737.4 1515.4,1664.0 1529.1,1627.9 1542.9,1664.0 1556.6,1737.4 1570.4,1776.9 1584.1,1744.2 1597.9,1671.0 1611.6,1628.3 1625.3,1657.5 1639.1,1730.2 1652.8,1776.0 1666.6,1750.5 1680.3,1678.3 1694.1,1629.6 1707.8,1651.4" stroke="#BB1A7E"/>
<polyline points="1323.0,1416.0 1336.7,1413.0 1350.5,1410.1 1364.2,1407.3 1378.0,1404.6 1391.7,1402.0 1405.5,1399.4 1419.2,1397.0 1432.9,1394.7 1446.7,1392.4 1460.4,1390.3 1474.2,1388.3 1487.9,1386.3 1501.7,1384.5 1515.4,1382.7 1529.1,1381.1 1542.9,1379.5 1556.6,1378.1 1570.4,1376.8 1584.1,1375.5 1597.9,1374.4 1611.6,1373.4 1625.3,1372.4 1639.1,1371.6 1652.8,1370.9 1666.6,1370.3 1680.3,1369.8 1694.1,1369.4 1707.8,1369.1" stroke="#22C0D0"/>
<polyline points="1323.0,1722.4 1336.7,1705.0 1350.5,1687.4 1364.2,1670.7 1378.0,1655.8 1391.7,1643.7 1405.5,1635.1 1419.2,1630.4 1432.9,1630.0 1446.7,1633.8 1460.4,1641.7 1474.2,1653.2 1487.9,1667.5 1501.7,1683.9 1515.4,1701.5 1529.1,1719.0 1542.9,1735.6 1556.6,1750.2 1570.4,1762.1 1584.1,1770.4 1597.9,1774.7 1611.6,1774.7 1625.3,1770.5 1639.1,1762.3 1652.8,1750.5 1666.6,1735.9 1680.3,1719.4 1694.1,1701.8 1707.8,1684.3" stroke="#8E9E12"/>
<polyline points="1323.0,1668.2 1336.7,1654.8 1350.5,1668.2 1364.2,1700.8 1378.0,1734.4 1391.7,1750.0 1405.5,1738.9 1419.2,1707.3 1432.9,1673.0 1446.7,1655.2 1460.4,1664.0 1474.2,1694.4 1487.9,1729.3 1501.7,1749.1 1515.4,1742.7 1529.1,1713.7 1542.9,1678.3 1556.6,1656.5 1570.4,1660.5 1584.1,1688.1 1597.9,1723.7 1611.6,1747.4 1625.3,1745.8 1639.1,1719.8 1652.8,1684.1 1666.6,1658.7 1680.3,1657.8 1694.1,1682.0 1707.8,1717.7" stroke="#808080"/>
<polyline points="1323.0,1730.8 1336.7,1756.4 1350.5,1778.0 1364.2,1794.1 1378.0,1803.4 1391.7,1805.3 1405.5,1799.7 1419.2,1786.8 1432.9,1767.8 1446.7,1744.0 1460.4,1717.1 1474.2,1689.2 1487.9,1662.2 1501.7,1638.1 1515.4,1618.8 1529.1,1605.7 1542.9,1599.6 1556.6,1601.2 1570.4,1610.1 1584.1,1625.9 1597.9,1647.3 1611.6,1672.7 1625.3,1700.3 1639.1,1728.1 1652.8,1754.0 1666.6,1776.1 1680.3,1792.8 1694.1,1802.8 1707.8,1805.5" stroke="#955050"/>
<polyline points="1323.0,1701.9 1336.7,1701.9 1350.5,1701.9 1364.2,1701.9 1378.0,1702.0 1391.7,1702.0 1405.5,1702.0 1419.2,1702.0 1432.9,1702.0 1446.7,1702.0 1460.4,1702.0 1474.2,1702.0 1487.9,1702.0 1501.7,1702.0 1515.4,1702.0 1529.1,1702.0 1542.9,1702.0 1556.6,1702.0 1570.4,1702.0 1584.1,1702.0 1597.9,1702.0 1611.6,1702.0 1625.3,1702.0 1639.1,1702.0 1652.8,1701.9 1666.6,1701.9 1680.3,1701.9 1694.1,1701.9 1707.8,1701.9" stroke="#5E9A5E"/>
<polyline points="1323.0,1691.6 1336.7,1702.4 1350.5,1713.3 1364.2,1721.2 1378.0,1724.1 1391.7,1721.2 1405.5,1713.3 1419.2,1702.4 1432.9,1691.6 1446.7,1683.7 1460.4,1680.8 1474.2,1683.7 1487.9,1691.6 1501.7,1702.4 1515.4,1713.3 1529.1,1721.2 1542.9,1724.1 1556.6,1721.2 1570.4,1713.3 1584.1,1702.4 1597.9,1691.6 1611.6,1683.7 1625.3,1680.8 1639.1,1683.7 1652.8,1691.6 1666.6,1702.4 1680.3,1713.3 1694.1,1721.2 1707.8,1724.1" stroke="#22A0D4"/>
<polyline points="1323.0,1701.2 1336.7,1701.3 1350.5,1701.4 1364.2,1701.3 1378.0,1701.2 1391.7,1701.1 1405.5,1701.1 1419.2,1701.3 1432.9,1701.4 1446.7,1701.3 1460.4,1701.2 1474.2,1701.1 1487.9,1701.1 1501.7,1701.2 1515.4,1701.4 1529.1,1701.4 1542.9,1701.2 1556.6,1701.1 1570.4,1701.1 1584.1,1701.2 1597.9,1701.3 1611.6,1701.4 1625.3,1701.3 1639.1,1701.1 1652.8,1701.1 1666.6,1701.2 1680.3,1701.3 1694.1,1701.4 1707.8,1701.3" stroke="#33669A"/>
<polyline points="1323.0,1699.9 1336.7,1708.2 1350.5,1714.9 1364.2,1717.9 1378.0,1716.6 1391.7,1711.2 1405.5,1703.3 1419.2,1695.1 1432.9,1689.1 1446.7,1686.8 1460.4,1689.1 1474.2,1695.1 1487.9,1703.3 1501.7,1711.2 1515.4,1716.6 1529.1,1717.9 1542.9,1714.9 1556.6,1708.2 1570.4,1699.9 1584.1,1692.4 1597.9,1687.7 1611.6,1687.2 1625.3,1691.1 1639.1,1698.2 1652.8,1706.5 1666.6,1713.7 1680.3,1717.6 1694.1,1717.2 1707.8,1712.6" stroke="#000000"/>
<polyline points="1323.0,1700.6 1336.7,1700.9 1350.5,1701.1 1364.2,1701.2 1378.0,1701.3 1391.7,1701.2 1405.5,1701.0 1419.2,1700.7 1432.9,1700.5 1446.7,1700.3 1460.4,1700.2 1474.2,1700.3 1487.9,1700.5 1501.7,1700.7 1515.4,1701.0 1529.1,1701.2 1542.9,1701.3 1556.6,1701.2 1570.4,1701.1 1584.1,1700.9 1597.9,1700.6 1611.6,1700.4 1625.3,1700.2 1639.1,1700.2 1652.8,1700.3 1666.6,1700.5 1680.3,1700.8 1694.1,1701.0 1707.8,1701.2" stroke="#FF0000"/>
<polyline points="1323.0,1704.2 1336.7,1704.2 1350.5,1704.2 1364.2,1704.1 1378.0,1704.1 1391.7,1704.0 1405.5,1704.0 1419.2,1703.9 1432.9,1703.9 1446.7,1703.8 1460.4,1703.8 1474.2,1703.8 1487.9,1703.7 1501.7,1703.7 1515.4,1703.7 1529.1,1703.6 1542.9,1703.6 1556.6,1703.6 1570.4,1703.6 1584.1,1703.6 1597.9,1703.6 1611.6,1703.6 1625.3,1703.6 1639.1,1703.7 1652.8,1703.7 1666.6,1703.7 1680.3,1703.8 1694.1,1703.8 1707.8,1703.8" stroke="#0000FF"/>
<polyline points="1323.0,1703.3 1336.7,1703.3 1350.5,1703.3 1364.2,1703.3 1378.0,1703.2 1391.7,1703.1 1405.5,1703.0 1419.2,1703.0 1432.9,1703.0 1446.7,1703.0 1460.4,1703.1 1474.2,1703.2 1487.9,1703.2 1501.7,1703.3 1515.4,1703.3 1529.1,1703.3 1542.9,1703.2 1556.6,1703.2 1570.4,1703.1 1584.1,1703.0 1597.9,1703.0 1611.6,1703.0 1625.3,1703.1 1639.1,1703.1 1652.8,1703.2 1666.6,1703.3 1680.3,1703.3 1694.1,1703.3 1707.8,1703.3" stroke="#FF00FF"/>
<polyline points="1323.0,1700.5 1336.7,1700.4 1350.5,1700.3 1364.2,1700.2 1378.0,1700.1 1391.7,1700.1 1405.5,1700.0 1419.2,1699.9 1432.9,1699.8 1446.7,1699.7 1460.4,1699.7 1474.2,1699.6 1487.9,1699.6 1501.7,1699.6 1515.4,1699.5 1529.1,1699.5 1542.9,1699.5 1556.6,1699.5 1570.4,1699.5 1584.1,1699.5 1597.9,1699.6 1611.6,1699.6 1625.3,1699.7 1639.1,1699.7 1652.8,1699.8 1666.6,1699.9 1680.3,1699.9 1694.1,1700.0 1707.8,1700.1" stroke="#008000"/>
<polyline points="1323.0,1704.1 1336.7,1703.9 1350.5,1703.7 1364.2,1703.5 1378.0,1703.3 1391.7,1703.1 1405.5,1702.9 1419.2,1702.8 1432.9,1702.6 1446.7,1702.6 1460.4,1702.6 1474.2,1702.6 1487.9,1702.7 1501.7,1702.9 1515.4,1703.0 1529.1,1703.2 1542.9,1703.5 1556.6,1703.7 1570.4,1703.9 1584.1,1704.1 1597.9,1704.2 1611.6,1704.3 1625.3,1704.4 1639.1,1704.4 1652.8,1704.3 1666.6,1704.2 1680.3,1704.1 1694.1,1703.9 1707.8,1703.7" stroke="#000080"/>
<polyline points="1323.0,1702.9 1336.7,1703.0 1350.5,1703.0 1364.2,1703.0 1378.0,1703.1 1391.7,1703.1 1405.5,1703.1 1419.2,1703.0 1432.9,1703.0 1446.7,1703.0 1460.4,1702.9 1474.2,1702.8 1487.9,1702.7 1501.7,1702.6 1515.4,1702.5 1529.1,1702.4 1542.9,1702.3 1556.6,1702.2 1570.4,1702.1 1584.1,1702.0 1597.9,1701.9 1611.6,1701.8 1625.3,1701.7 1639.1,1701.6 1652.8,1701.6 1666.6,1701.5 1680.3,1701.4 1694.1,1701.4 1707.8,1701.4" stroke="#8000FF"/>
<polyline points="1323.0,1703.6 1336.7,1703.6 1350.5,1703.7 1364.2,1703.7 1378.0,1703.7 1391.7,1703.8 1405.5,1703.8 1419.2,1703.8 1432.9,1703.9 1446.7,1703.9 1460.4,1703.9 1474.2,1704.0 1487.9,1704.0 1501.7,1704.0 1515.4,1704.0 1529.1,1704.0 1542.9,1704.0 1556.6,1704.0 1570.4,1704.0 1584.1,1704.0 1597.9,1704.0 1611.6,1703.9 1625.3,1703.9 1639.1,1703.9 1652.8,1703.9 1666.6,1703.8 1680.3,1703.8 1694.1,1703.8 1707.8,1703.7" stroke="#800080"/>
<polyline points="1323.0,1701.2 1336.7,1701.1 1350.5,1700.9 1364.2,1700.7 1378.0,1700.6 1391.7,1700.5 1405.5,1700.6 1419.2,1700.7 1432.9,1700.9 1446.7,1701.1 1460.4,1701.2 1474.2,1701.3 1487.9,1701.2 1501.7,1701.1 1515.4,1701.0 1529.1,1700.8 1542.9,1700.6 1556.6,1700.5 1570.4,1700.5 1584.1,1700.6 1597.9,1700.8 1611.6,1701.0 1625.3,1701.2 1639.1,1701.3 1652.8,1701.3 1666.6,1701.2 1680.3,1701.0 1694.1,1700.8 1707.8,1700.7" stroke="#800000"/>
<polyline points="1323.0,1702.4 1336.7,1702.8 1350.5,1703.2 1364.2,1703.4 1378.0,1703.5 1391.7,1703.3 1405.5,1703.0 1419.2,1702.6 1432.9,1702.2 1446.7,1702.0 1460.4,1701.9 1474.2,1702.0 1487.9,1702.4 1501.7,1702.8 1515.4,1703.2 1529.1,1703.4 1542.9,1703.5 1556.6,1703.3 1570.4,1703.0 1584.1,1702.6 1597.9,1702.2 1611.6,1702.0 1625.3,1701.9 1639.1,1702.0 1652.8,1702.4 1666.6,1702.8 1680.3,1703.2 1694.1,1703.4 1707.8,1703.5" stroke="#808000"/>
<polyline points="1323.0,1702.6 1336.7,1702.6 1350.5,1702.6 1364.2,1702.6 1378.0,1702.6 1391.7,1702.6 1405.5,1702.5 1419.2,1702.5 1432.9,1702.6 1446.7,1702.6 1460.4,1702.6 1474.2,1702.6 1487.9,1702.6 1501.7,1702.6 1515.4,1702.7 1529.1,1702.7 1542.9,1702.7 1556.6,1702.8 1570.4,1702.8 1584.1,1702.8 1597.9,1702.9 1611.6,1702.9 1625.3,1702.9 1639.1,1703.0 1652.8,1703.0 1666.6,1703.0 1680.3,1703.0 1694.1,1703.1 1707.8,1703.1" stroke="#3A6AAA"/>
<polyline points="1323.0,1702.0 1336.7,1701.4 1350.5,1701.7 1364.2,1702.5 1378.0,1703.1 1391.7,1702.9 1405.5,1702.1 1419.2,1701.5 1432.9,1701.6 1446.7,1702.4 1460.4,1703.1 1474.2,1703.1 1487.9,1702.3 1501.7,1701.6 1515.4,1701.5 1529.1,1702.2 1542.9,1703.0 1556.6,1703.1 1570.4,1702.5 1584.1,1701.7 1597.9,1701.4 1611.6,1702.0 1625.3,1702.8 1639.1,1703.2 1652.8,1702.7 1666.6,1701.8 1680.3,1701.4 1694.1,1701.8 1707.8,1702.7" stroke="#2E9EA2"/>
</g>
<g stroke="#000" stroke-width="2" fill="none" stroke-linecap="square">
<path d="M98.0 1527.5H1266.8V1875.0H98.0" stroke-linecap="butt"/>
<path d="M99.0 1526.5V1885.0" stroke="#2e2e2e" stroke-linecap="butt"/>
<path d="M99.0 1875.0v10M196.3 1875.0v5M293.6 1875.0v10M390.9 1875.0v5M488.3 1875.0v10M585.6 1875.0v5M682.9 1875.0v10M780.2 1875.0v5M877.5 1875.0v10M974.8 1875.0v5M1072.2 1875.0v10M1169.5 1875.0v5M1266.8 1875.0v10M99.0 1875.0h-10M99.0 1846.0h-5M99.0 1817.1h-10M99.0 1788.1h-5M99.0 1759.2h-10M99.0 1730.2h-5M99.0 1701.2h-10M99.0 1672.3h-5M99.0 1643.3h-10M99.0 1614.4h-5M99.0 1585.4h-10M99.0 1556.5h-5M99.0 1527.5h-10" stroke-linecap="butt"/>
</g>
<g stroke="#000" stroke-width="2" fill="none">
<rect x="1323.0" y="1529.1" width="384.8" height="346.7"/>
<path d="M1323.0 1875.8v6.5M1350.5 1875.8v4.0M1378.0 1875.8v6.5M1405.5 1875.8v4.0M1432.9 1875.8v6.5M1460.4 1875.8v4.0M1487.9 1875.8v6.5M1515.4 1875.8v4.0M1542.9 1875.8v6.5M1570.4 1875.8v4.0M1597.9 1875.8v6.5M1625.3 1875.8v4.0M1652.8 1875.8v6.5M1680.3 1875.8v4.0M1707.8 1875.8v6.5M1707.8 1875.8h6.5M1707.8 1832.4h4.0M1707.8 1789.1h6.5M1707.8 1745.8h4.0M1707.8 1702.4h6.5M1707.8 1659.1h4.0M1707.8 1615.8h6.5M1707.8 1572.4h4.0M1707.8 1529.1h6.5"/>
</g>
<g stroke="#000" stroke-width="2" fill="none" stroke-dasharray="7.5 9.5">
<path d="M1266.8 1702.3H1172.5V1815.7H1266.8" stroke-dashoffset="-3"/>
<path d="M1321.5 1543.1L1266.8 1702.3" stroke-dasharray="8 11"/>
<path d="M1172.5 1815.7L1320 1872.2" stroke-dasharray="8 11"/>
</g>
<g font-size="23.3" letter-spacing="0.35" stroke="#000" stroke-width="0.35">
<text x="99.2" y="1908.5" text-anchor="middle">0</text>
<text x="293.8" y="1908.5" text-anchor="middle">60</text>
<text x="488.5" y="1908.5" text-anchor="middle">120</text>
<text x="683.1" y="1908.5" text-anchor="middle">180</text>
<text x="877.7" y="1908.5" text-anchor="middle">240</text>
<text x="1072.4" y="1908.5" text-anchor="middle">300</text>
<text x="1267.0" y="1908.5" text-anchor="middle">360</text>
<text x="82.4" y="1880.2" text-anchor="end">-400</text>
<text x="82.4" y="1822.3" text-anchor="end">-200</text>
<text x="82.4" y="1764.4" text-anchor="end">0</text>
<text x="82.4" y="1706.5" text-anchor="end">200</text>
<text x="82.4" y="1648.5" text-anchor="end">400</text>
<text x="82.4" y="1590.6" text-anchor="end">600</text>
<text x="82.4" y="1532.7" text-anchor="end">800</text>
<text x="1323.2" y="1903.2" text-anchor="middle">332</text>
<text x="1378.2" y="1903.2" text-anchor="middle">336</text>
<text x="1433.1" y="1903.2" text-anchor="middle">340</text>
<text x="1488.1" y="1903.2" text-anchor="middle">344</text>
<text x="1543.1" y="1903.2" text-anchor="middle">348</text>
<text x="1598.1" y="1903.2" text-anchor="middle">352</text>
<text x="1653.0" y="1903.2" text-anchor="middle">356</text>
<text x="1708.0" y="1903.2" text-anchor="middle">360</text>
<text x="1718.2" y="1881.0">-200</text>
<text x="1718.2" y="1794.3">-100</text>
<text x="1718.2" y="1707.6">0</text>
<text x="1718.2" y="1621.0">100</text>
<text x="1718.2" y="1534.3">200</text>
<text x="683" y="1934.7" text-anchor="middle" letter-spacing="0" font-size="22.8">t (h)</text>
<text x="1515" y="1934.7" text-anchor="middle" letter-spacing="0" font-size="22.8">t (h)</text>
<text transform="translate(21 1757.3) rotate(-90)" letter-spacing="0" font-size="22.6"><tspan letter-spacing="-2.2">SSC</tspan><tspan letter-spacing="4.2"> </tspan><tspan letter-spacing="0.84">(mg/L)</tspan></text>
<text transform="translate(1771.5 1653.6) rotate(90)" letter-spacing="0" font-size="22.6"><tspan letter-spacing="-2.3">SSC</tspan><tspan letter-spacing="3.1"> </tspan><tspan letter-spacing="6.15">(mg/L</tspan>)</text>
</g>
<text x="824.3" y="1988.0" font-size="35" stroke="#000" stroke-width="0.3">(d) Site C4</text>
<defs><clipPath id="zc4"><rect x="1323.00" y="2032.10" width="384.80" height="346.65"/></clipPath><clipPath id="mc4"><rect x="99.00" y="2030.50" width="1167.80" height="347.50"/></clipPath></defs>
<g clip-path="url(#mc4)" fill="none" stroke-width="2" stroke-linejoin="round">
<line x1="99.0" y1="2043.36" x2="1266.8" y2="2043.36" stroke="#000"/>
</g>
<g clip-path="url(#mc4)"><g transform="translate(99.00 0) scale(3.24389 0.5)" fill="none" stroke-width="2" stroke-linejoin="round">
<path d="M0 4465l1-17 1-10 1 0 1 10 1 17 1 21 1 19 1 12 1 2 1-8 1-16 1-21 1-20 1-13 1-5 1 6 1 15 1 20 1 21 1 15 1 7 1-4 1-14 1-19 1-21 1-16 1-9 1 2 1 11 1 19 1 21 1 18 1 10 1 1 1-10 1-17 1-21 1-19 1-13 1-2 1 7 1 16 1 21 1 20 1 14 1 5 1-6 1-14 1-20 1-21 1-15 1-8 1 4 1 13 1 19 1 21 1 17 1 9 1-1 1-11 1-19 1-21 1-18 1-11 1-1 1 9 1 17 1 21 1 19 1 13 1 4 1-8 1-15 1-21 1-20 1-14 1-6 1 5 1 15 1 19 1 21 1 16 1 7 1-2 1-13 1-19 1-21 1-17 1-10 1 1 1 11 1 18 1 21 1 18 1 11 1 2 1-9 1-16 1-21 1-20 1-13 1-4 1 7 1 15 1 21 1 20 1 15 1 6 1-5 1-14 1-19 1-21 1-16 1-8 1 2 1 12 1 19 1 21 1 17 1 10 1 0 1-10 1-18 1-20 1-19 1-12 1-2 1 8 1 16 1 21 1 20 1 13 1 5 1-6 1-16 1-20 1-20 1-15 1-7 1 4 1 14 1 19 1 21 1 17 1 8 1-2 1-11 1-19 1-21 1-18 1-10 1-1 1 10 1 18 1 20 1 19 1 13 1 2 1-7 1-17 1-20 1-20 1-14 1-5 1 6 1 15 1 20 1 20 1 16 1 7 1-4 1-13 1-19 1-21 1-17 1-9 1 1 1 12 1 18 1 21 1 18 1 11 1 1 1-9 1-18 1-20 1-20 1-12 1-3 1 7 1 16 1 20 1 20 1 14 1 6 1-5 1-15 1-20 1-20 1-16 1-7 1 3 1 12 1 19 1 21 1 17 1 10 1-1 1-11 1-18 1-21 1-18 1-12 1-1 1 9 1 17 1 20 1 20 1 13 1 4 1-7 1-16 1-20 1-20 1-15 1-6 1 5 1 14 1 20 1 20 1 16 1 8 1-2 1-12 1-19 1-21 1-18 1-9 1 0 1 10 1 18 1 21 1 18 1 12 1 2 1-8 1-17 1-20 1-20 1-13 1-5 1 7 1 15 1 20 1 20 1 15 1 7 1-4 1-14 1-19 1-21 1-17 1-8 1 2 1 11 1 19 1 21 1 18 1 10 1 1 1-10 1-18 1-21 1-19 1-12 1-2 1 7 1 17 1 20 1 20 1 14 1 5 1-6 1-15 1-20 1-20 1-16 1-7 1 4 1 13 1 19 1 21 1 17 1 9 1-1 1-12 1-18 1-21 1-18 1-11 1-1 1 10 1 17 1 21 1 19 1 12 1 3 1-7 1-16 1-20 1-20 1-14 1-6 1 6 1 14 1 20 1 20 1 16 1 7 1-3 1-12 1-19 1-21 1-17 1-10 1 1 1 11 1 18 1 21 1 18 1 12 1 1 1-9 1-17 1-21 1-19 1-13 1-4 1 7 1 16 1 20 1 20 1 15 1 6 1-5 1-14 1-20 1-20 1-17 1-7 1 2 1 12 1 19 1 21 1 18 1 10 1-1 1-10 1-18 1-21" stroke="#FF0000" vector-effect="non-scaling-stroke"/>
<path d="M0 4479h360" stroke="#0000FF" vector-effect="non-scaling-stroke"/>
<path d="M0 4479h360" stroke="#008000" vector-effect="non-scaling-stroke"/>
<path d="M0 4476l1-5 1-1 1 3 1 6 1 6 1 1 1-3 1-6 1-5 1-2 1 2 1 6 1 6 1 2 1-2 1-6 1-6 1-2 1 2 1 5 1 6 1 3 1-1 1-6 1-6 1-3 1 1 1 5 1 6 1 4 1-1 1-4 1-7 1-4 1 0 1 5 1 6 1 5 1 0 1-4 1-7 1-4 1-1 1 4 1 6 1 5 1 1 1-3 1-7 1-5 1-1 1 3 1 6 1 5 1 2 1-2 1-6 1-6 1-2 1 2 1 6 1 6 1 2 1-2 1-5 1-6 1-3 1 1 1 6 1 6 1 3 1-1 1-5 1-6 1-4 1 1 1 5 1 6 1 4 1 0 1-5 1-6 1-5 1 0 1 5 1 6 1 4 1 1 1-4 1-6 1-5 1-1 1 4 1 6 1 5 1 1 1-3 1-6 1-6 1-1 1 3 1 6 1 5 1 2 1-2 1-6 1-6 1-2 1 2 1 5 1 6 1 3 1-1 1-6 1-6 1-3 1 1 1 5 1 6 1 4 1-1 1-5 1-6 1-4 1 1 1 4 1 6 1 5 1 0 1-5 1-6 1-5 1 0 1 4 1 6 1 5 1 1 1-4 1-6 1-5 1-1 1 3 1 6 1 6 1 1 1-3 1-6 1-5 1-2 1 2 1 6 1 6 1 2 1-2 1-6 1-6 1-2 1 2 1 5 1 6 1 3 1-1 1-5 1-7 1-3 1 1 1 5 1 6 1 4 1-1 1-4 1-7 1-4 1 0 1 5 1 6 1 5 1 0 1-4 1-7 1-4 1-1 1 4 1 6 1 5 1 1 1-3 1-6 1-6 1-1 1 3 1 6 1 5 1 2 1-2 1-6 1-6 1-2 1 2 1 6 1 6 1 2 1-2 1-5 1-6 1-3 1 1 1 6 1 6 1 3 1-1 1-5 1-6 1-4 1 1 1 5 1 6 1 4 1 0 1-5 1-6 1-5 1 0 1 4 1 7 1 4 1 1 1-4 1-6 1-5 1-1 1 3 1 7 1 5 1 1 1-3 1-6 1-6 1-1 1 3 1 6 1 5 1 2 1-2 1-6 1-6 1-2 1 2 1 5 1 6 1 3 1-1 1-6 1-6 1-3 1 1 1 5 1 6 1 4 1-1 1-5 1-6 1-4 1 1 1 4 1 6 1 5 1 0 1-5 1-6 1-5 1 0 1 4 1 6 1 5 1 1 1-4 1-6 1-5 1-1 1 3 1 6 1 6 1 1 1-3 1-6 1-5 1-2 1 2 1 6 1 6 1 2 1-2 1-6 1-5 1-3 1 2 1 5 1 6 1 3 1-1 1-5 1-7 1-3 1 1 1 5 1 6 1 4 1-1 1-4 1-7 1-4 1 0 1 5 1 6 1 5 1 0 1-4 1-7 1-4 1-1 1 4 1 6 1 5 1 1 1-3 1-6 1-6 1-1 1 3 1 6 1 5 1 2 1-2 1-6 1-6 1-2 1 2 1 6 1 6 1 2 1-2 1-5 1-6 1-3 1 1 1 6 1 6 1 3 1-1 1-5 1-6 1-4 1 1 1 4 1 7 1 4 1 0 1-5 1-6" stroke="#000080" vector-effect="non-scaling-stroke"/>
<path d="M0 4478h360" stroke="#8000FF" vector-effect="non-scaling-stroke"/>
<path d="M0 4473l1-1 1 1 1 2 1 3 1 3 1 2 1 1 1-1 1-2 1-3 1-3 1-2 1-1 1 1 1 2 1 3 1 3 1 2 1 1 1-1 1-2 1-3 1-3 1-2 1-1 1 1 1 2 1 3 1 3 1 2 1 1 1-1 1-2 1-3 1-3 1-2 1-1 1 1 1 2 1 3 1 3 1 2 1 1 1-1 1-2 1-3 1-3 1-2 1-1 1 1 1 2 1 3 1 3 1 2 1 1 1-1 1-2 1-3 1-3 1-2 1-1 1 1 1 2 1 3 1 3 1 2 1 1 1-1 1-2 1-3 1-3 1-2 1-1 1 1 1 2 1 3 1 3 1 2 1 1 1-1 1-2 1-3 1-3 1-2 1-1 1 1 1 2 1 3 1 3 1 2 1 1 1-1 1-2 1-3 1-3 1-2 1-1 1 1 1 2 1 3 1 3 1 2 1 1 1-1 1-2 1-3 1-3 1-2 1-1 1 1 1 2 1 3 1 3 1 2 1 1 1-1 1-2 1-3 1-3 1-2 1-1 1 1 1 2 1 3 1 3 1 2 1 1 1-1 1-2 1-3 1-3 1-2 1-1 1 1 1 2 1 3 1 3 1 2 1 1 1-1 1-2 1-3 1-3 1-2 1-1 1 1 1 2 1 3 1 3 1 2 1 1 1-1 1-2 1-3 1-3 1-2 1-1 1 1 1 2 1 3 1 3 1 2 1 1 1-1 1-2 1-3 1-3 1-2 1-1 1 1 1 2 1 3 1 3 1 2 1 1 1-1 1-2 1-3 1-3 1-2 1-1 1 1 1 2 1 3 1 3 1 2 1 1 1-1 1-2 1-3 1-3 1-2 1-1 1 1 1 2 1 3 1 3 1 2 1 1 1-1 1-2 1-3 1-3 1-2 1-1 1 1 1 2 1 3 1 3 1 2 1 1 1-1 1-2 1-3 1-3 1-2 1-1 1 1 1 2 1 3 1 3 1 2 1 1 1-1 1-2 1-3 1-3 1-2 1-1 1 1 1 2 1 3 1 3 1 2 1 1 1-1 1-2 1-3 1-3 1-2 1-1 1 1 1 2 1 3 1 3 1 2 1 1 1-1 1-2 1-3 1-3 1-2 1-1 1 1 1 2 1 3 1 3 1 2 1 1 1-1 1-2 1-3 1-3 1-2 1-1 1 1 1 2 1 3 1 3 1 2 1 1 1-1 1-2 1-3 1-3 1-2 1-1 1 1 1 2 1 3 1 3 1 2 1 1 1-1 1-2 1-3 1-3 1-2 1-1 1 1 1 2 1 3 1 3 1 2 1 1 1-1 1-2 1-3 1-3 1-2 1-1 1 1 1 2 1 3 1 3 1 2 1 1 1-1 1-2 1-3 1-3 1-2 1-1 1 1 1 2 1 3 1 3 1 2 1 1 1-1 1-2 1-3 1-3 1-2 1-1 1 1 1 2 1 3 1 3 1 2 1 1 1-1 1-2 1-3 1-3 1-2 1-1 1 1 1 2 1 3 1 3 1 2 1 1 1-1 1-2 1-3 1-3 1-2 1-1 1 1 1 2 1 3 1 3 1 2 1 1 1-1 1-2 1-3 1-3 1-2" stroke="#800080" vector-effect="non-scaling-stroke"/>
<path d="M0 4478h360" stroke="#800000" vector-effect="non-scaling-stroke"/>
<path d="M0 4478h360" stroke="#808000" vector-effect="non-scaling-stroke"/>
<path d="M0 4478h360" stroke="#3A6AAA" vector-effect="non-scaling-stroke"/>
<path d="M0 4478h360" stroke="#2E9EA2" vector-effect="non-scaling-stroke"/>
<path d="M0 4478h360" stroke="#A0692E" vector-effect="non-scaling-stroke"/>
<path d="M0 4499l1-22 1-21 1 0 1 21 1 22 1 3 1-20 1-23 1-6 1 18 1 24 1 8 1-16 1-24 1-11 1 14 1 25 1 13 1-12 1-25 1-14 1 9 1 24 1 17 1-7 1-23 1-19 1 4 1 23 1 20 1-1 1-22 1-22 1-1 1 20 1 23 1 4 1-19 1-23 1-7 1 17 1 24 1 9 1-14 1-25 1-12 1 13 1 25 1 14 1-11 1-24 1-16 1 8 1 24 1 18 1-6 1-23 1-20 1 3 1 22 1 22 1-1 1-21 1-22 1-3 1 20 1 23 1 6 1-18 1-25 1-7 1 16 1 24 1 11 1-14 1-25 1-13 1 12 1 25 1 15 1-10 1-24 1-17 1 7 1 24 1 18 1-4 1-23 1-20 1 1 1 22 1 22 1 1 1-20 1-23 1-4 1 19 1 24 1 6 1-17 1-25 1-8 1 15 1 24 1 12 1-13 1-25 1-14 1 11 1 25 1 15 1-8 1-24 1-18 1 6 1 23 1 20 1-3 1-23 1-21 1 1 1 21 1 22 1 3 1-20 1-24 1-5 1 19 1 24 1 7 1-16 1-25 1-10 1 14 1 25 1 13 1-12 1-25 1-15 1 10 1 24 1 17 1-7 1-24 1-18 1 4 1 23 1 20 1-1 1-22 1-22 1-1 1 21 1 22 1 4 1-19 1-24 1-6 1 17 1 25 1 8 1-15 1-25 1-11 1 13 1 25 1 14 1-11 1-25 1-15 1 8 1 24 1 18 1-6 1-23 1-20 1 3 1 23 1 21 1-1 1-21 1-22 1-3 1 20 1 24 1 5 1-19 1-24 1-7 1 16 1 25 1 10 1-15 1-24 1-13 1 12 1 25 1 15 1-10 1-24 1-17 1 7 1 24 1 18 1-4 1-23 1-20 1 1 1 22 1 22 1 1 1-21 1-23 1-3 1 19 1 24 1 6 1-17 1-25 1-8 1 15 1 25 1 11 1-13 1-25 1-14 1 11 1 25 1 15 1-8 1-24 1-18 1 6 1 24 1 19 1-3 1-23 1-21 1 1 1 21 1 22 1 2 1-19 1-24 1-4 1 18 1 24 1 7 1-16 1-25 1-10 1 15 1 25 1 12 1-12 1-25 1-15 1 10 1 25 1 16 1-7 1-24 1-18 1 4 1 23 1 20 1-2 1-22 1-21 1-1 1 21 1 23 1 3 1-19 1-24 1-6 1 18 1 24 1 8 1-15 1-25 1-11 1 13 1 25 1 14 1-11 1-25 1-15 1 8 1 24 1 18 1-6 1-24 1-19 1 3 1 23 1 21 1-1 1-21 1-22 1-2 1 20 1 23 1 4 1-18 1-24 1-7 1 16 1 25 1 10 1-15 1-25 1-12 1 12 1 25 1 15 1-10 1-25 1-16 1 7 1 24 1 18 1-4 1-23 1-20 1 2 1 22 1 21 1 1 1-21 1-23 1-3 1 19 1 24 1 6 1-18 1-24 1-8 1 15 1 25 1 11 1-14 1-25 1-13 1 11 1 25 1 15 1-8 1-24 1-18 1 6 1 24 1 19 1-3 1-23 1-21 1 1 1 21 1 22 1 2" stroke="#18CC2A" vector-effect="non-scaling-stroke"/>
<path d="M0 4468l1 15 1 10 1-5 1-15 1-10 1 4 1 15 1 11 1-3 1-15 1-12 1 3 1 14 1 12 1-1 1-14 1-13 1 1 1 14 1 13 1 0 1-14 1-13 1-1 1 13 1 14 1 1 1-12 1-14 1-3 1 12 1 15 1 3 1-11 1-15 1-4 1 11 1 15 1 4 1-10 1-15 1-5 1 9 1 15 1 7 1-9 1-16 1-7 1 9 1 15 1 8 1-8 1-15 1-9 1 7 1 16 1 9 1-7 1-15 1-9 1 5 1 15 1 10 1-4 1-15 1-11 1 4 1 14 1 12 1-3 1-15 1-12 1 3 1 14 1 12 1-1 1-14 1-13 1 1 1 13 1 13 1 1 1-13 1-14 1-1 1 12 1 15 1 1 1-12 1-14 1-3 1 12 1 14 1 4 1-11 1-15 1-4 1 10 1 15 1 5 1-9 1-16 1-6 1 10 1 15 1 7 1-9 1-15 1-8 1 8 1 16 1 8 1-7 1-16 1-9 1 7 1 15 1 9 1-5 1-15 1-10 1 5 1 15 1 10 1-4 1-15 1-11 1 3 1 15 1 12 1-3 1-14 1-12 1 1 1 14 1 13 1-1 1-13 1-14 1 0 1 14 1 13 1 1 1-13 1-14 1-1 1 12 1 14 1 3 1-12 1-15 1-3 1 11 1 15 1 4 1-11 1-15 1-4 1 10 1 15 1 5 1-9 1-15 1-7 1 9 1 16 1 7 1-8 1-16 1-8 1 8 1 15 1 9 1-7 1-15 1-10 1 6 1 16 1 9 1-5 1-15 1-10 1 4 1 15 1 11 1-4 1-14 1-12 1 3 1 14 1 12 1-2 1-14 1-12 1 1 1 14 1 13 1-1 1-13 1-13 1-1 1 13 1 14 1 1 1-12 1-14 1-3 1 12 1 15 1 3 1-12 1-14 1-4 1 11 1 15 1 4 1-10 1-15 1-5 1 9 1 16 1 6 1-10 1-15 1-7 1 9 1 15 1 8 1-8 1-15 1-9 1 7 1 16 1 9 1-7 1-15 1-9 1 5 1 15 1 10 1-4 1-15 1-11 1 4 1 15 1 11 1-3 1-15 1-12 1 3 1 14 1 12 1-1 1-14 1-13 1 1 1 13 1 14 1 0 1-13 1-14 1-1 1 13 1 14 1 1 1-12 1-14 1-3 1 12 1 15 1 3 1-11 1-15 1-4 1 10 1 15 1 5 1-10 1-15 1-5 1 9 1 15 1 7 1-9 1-15 1-8 1 8 1 16 1 8 1-8 1-15 1-9 1 7 1 15 1 10 1-6 1-16 1-9 1 5 1 15 1 10 1-4 1-15 1-11 1 3 1 15 1 12 1-3 1-14 1-12 1 1 1 14 1 13 1-1 1-14 1-13 1 1 1 13 1 13 1 1 1-13 1-14 1-1 1 12 1 14 1 3 1-12 1-15 1-3 1 12 1 14 1 4 1-11 1-15 1-4 1 10 1 15 1 5 1-9 1-15 1-7 1 9 1 16 1 7 1-9 1-15 1-8 1 8 1 15 1 9 1-7 1-16 1-9 1 7 1 15 1 9 1-5 1-15 1-10 1 4" stroke="#BB1A7E" vector-effect="non-scaling-stroke"/>
<path d="M0 4391l4-15 4-15 4-14 4-13 4-13 4-12 4-11 4-10 4-10 4-8 4-7 4-6 4-5 4-4 4-3 4-2 4 0 4 1 4 2 4 3 4 4 4 6 4 6 4 8 4 8 4 10 4 11 4 11 4 12 4 13 4 14 4 15 4 14 4 16 4 16 4 16 4 16 4 17 4 16 4 17 4 17 4 16 4 16 4 16 4 15 4 15 4 15 4 13 4 13 4 13 4 11 4 10 4 10 4 9 4 7 4 7 4 5 4 4 4 3 4 2 4 1 4-1 4-1 4-3 4-4 4-5 4-6 4-7 4-9 4-9 4-10 4-12 4-12 4-12 4-14 4-14 4-15 4-15 4-16 4-16 4-16 4-17 4-17 4-16 4-17 4-16 4-16 4-16 4-16 4-15" stroke="#22C0D0" vector-effect="non-scaling-stroke"/>
<path d="M0 4458l1 5 1 5 1 6 1 7 1 6 1 5 1 5 1 4 1 2 1 1 1-1 1-2 1-4 1-4 1-6 1-6 1-6 1-6 1-6 1-4 1-4 1-2 1-1 1 1 1 2 1 4 1 5 1 5 1 6 1 7 1 6 1 5 1 5 1 3 1 2 1 1 1-1 1-3 1-3 1-5 1-6 1-6 1-6 1-6 1-6 1-4 1-3 1-2 1-1 1 1 1 3 1 4 1 5 1 5 1 7 1 6 1 6 1 5 1 4 1 4 1 1 1 1 1-2 1-2 1-4 1-5 1-6 1-6 1-6 1-6 1-5 1-5 1-3 1-1 1-1 1 2 1 3 1 4 1 5 1 5 1 7 1 6 1 6 1 5 1 4 1 3 1 2 1 0 1-2 1-3 1-4 1-5 1-6 1-6 1-6 1-6 1-5 1-4 1-3 1-2 1 1 1 1 1 3 1 4 1 6 1 6 1 6 1 6 1 6 1 5 1 4 1 2 1 2 1-1 1-1 1-4 1-4 1-5 1-6 1-6 1-6 1-6 1-5 1-4 1-3 1-1 1 1 1 2 1 3 1 4 1 6 1 6 1 6 1 6 1 6 1 5 1 3 1 3 1 1 1-1 1-2 1-3 1-5 1-5 1-6 1-6 1-7 1-5 1-5 1-4 1-2 1-1 1 1 1 2 1 4 1 4 1 6 1 6 1 6 1 6 1 6 1 4 1 4 1 2 1 1 1-1 1-2 1-4 1-5 1-5 1-6 1-7 1-6 1-5 1-5 1-3 1-2 1-1 1 1 1 3 1 3 1 5 1 6 1 6 1 6 1 6 1 6 1 4 1 3 1 2 1 1 1-1 1-3 1-4 1-5 1-5 1-6 1-7 1-6 1-5 1-4 1-4 1-1 1-1 1 2 1 2 1 4 1 5 1 6 1 6 1 6 1 6 1 5 1 5 1 3 1 1 1 1 1-2 1-3 1-4 1-5 1-5 1-7 1-6 1-6 1-5 1-4 1-3 1-2 1 0 1 2 1 3 1 4 1 5 1 6 1 6 1 6 1 6 1 5 1 4 1 3 1 2 1-1 1-1 1-3 1-4 1-6 1-6 1-6 1-6 1-6 1-5 1-4 1-2 1-2 1 1 1 1 1 3 1 5 1 5 1 6 1 6 1 6 1 6 1 5 1 4 1 3 1 1 1-1 1-2 1-3 1-4 1-6 1-6 1-6 1-6 1-6 1-4 1-4 1-3 1-1 1 1 1 2 1 3 1 5 1 5 1 6 1 6 1 7 1 5 1 5 1 4 1 2 1 1 1-1 1-2 1-4 1-4 1-6 1-6 1-6 1-6 1-6 1-4 1-4 1-2 1-1 1 1 1 2 1 4 1 5 1 5 1 6 1 7 1 6 1 5 1 5 1 3 1 2 1 1 1-1 1-3 1-3 1-5 1-6 1-6 1-6 1-6 1-5 1-5 1-3 1-2 1-1 1 1 1 3 1 4 1 5 1 5 1 6 1 7 1 6 1 5 1 4 1 4 1 1 1 1 1-2 1-2 1-4 1-5 1-6 1-6 1-6 1-6 1-5 1-5 1-3 1-1 1-1 1 2" stroke="#8E9E12" vector-effect="non-scaling-stroke"/>
<path d="M0 4480l1 6 1 2 1-4 1-7 1-7 1-2 1 3 1 7 1 7 1 3 1-3 1-7 1-7 1-3 1 2 1 7 1 7 1 4 1-2 1-6 1-8 1-4 1 1 1 7 1 7 1 5 1-1 1-6 1-7 1-5 1 0 1 5 1 8 1 5 1 0 1-5 1-7 1-6 1-1 1 5 1 8 1 6 1 1 1-4 1-8 1-6 1-2 1 4 1 7 1 7 1 2 1-3 1-7 1-7 1-3 1 3 1 7 1 7 1 3 1-2 1-7 1-7 1-4 1 2 1 6 1 8 1 4 1-2 1-6 1-7 1-5 1 1 1 6 1 8 1 5 1-1 1-5 1-8 1-5 1 0 1 5 1 7 1 6 1 1 1-5 1-8 1-6 1-1 1 5 1 7 1 6 1 2 1-4 1-7 1-7 1-2 1 4 1 7 1 6 1 3 1-3 1-7 1-7 1-3 1 3 1 6 1 7 1 4 1-2 1-7 1-7 1-4 1 2 1 6 1 7 1 5 1-1 1-6 1-8 1-5 1 1 1 6 1 7 1 5 1 0 1-5 1-8 1-5 1-1 1 5 1 8 1 6 1 1 1-5 1-7 1-6 1-2 1 4 1 8 1 6 1 2 1-4 1-7 1-7 1-2 1 3 1 7 1 7 1 3 1-3 1-7 1-7 1-3 1 2 1 7 1 7 1 4 1-2 1-6 1-8 1-4 1 1 1 6 1 8 1 5 1-1 1-6 1-7 1-5 1 0 1 5 1 8 1 5 1 0 1-5 1-7 1-6 1-1 1 5 1 7 1 7 1 1 1-4 1-8 1-6 1-2 1 4 1 7 1 7 1 2 1-3 1-7 1-7 1-3 1 3 1 7 1 7 1 3 1-2 1-7 1-7 1-4 1 2 1 6 1 8 1 4 1-2 1-6 1-7 1-5 1 1 1 6 1 8 1 5 1-1 1-5 1-8 1-5 1 0 1 5 1 7 1 6 1 1 1-5 1-8 1-6 1-1 1 5 1 7 1 6 1 2 1-4 1-7 1-7 1-2 1 3 1 8 1 6 1 3 1-3 1-7 1-7 1-3 1 2 1 7 1 7 1 4 1-2 1-7 1-7 1-4 1 2 1 6 1 7 1 5 1-1 1-6 1-8 1-5 1 1 1 6 1 7 1 5 1 0 1-5 1-7 1-6 1-1 1 5 1 8 1 6 1 1 1-5 1-7 1-6 1-2 1 4 1 8 1 6 1 2 1-4 1-7 1-7 1-2 1 3 1 7 1 7 1 3 1-3 1-6 1-8 1-3 1 2 1 7 1 7 1 4 1-2 1-6 1-8 1-4 1 1 1 6 1 8 1 5 1-1 1-6 1-7 1-5 1 0 1 5 1 8 1 5 1 1 1-6 1-7 1-6 1-1 1 5 1 7 1 7 1 1 1-4 1-8 1-6 1-2 1 4 1 7 1 7 1 2 1-3 1-7 1-7 1-3 1 3 1 7 1 7 1 3 1-2 1-7 1-7 1-4 1 2 1 6 1 8 1 4 1-1 1-7 1-7 1-5 1 1 1 6 1 7 1 6 1-1 1-5 1-8 1-5 1 0 1 5 1 7" stroke="#808080" vector-effect="non-scaling-stroke"/>
<path d="M0 4451l1 0 1 3 1 4 1 6 1 7 1 7 1 7 1 7 1 6 1 4 1 3 1 0 1-1 1-3 1-5 1-7 1-7 1-7 1-8 1-6 1-5 1-4 1-1 1 0 1 2 1 4 1 6 1 7 1 7 1 8 1 7 1 5 1 5 1 3 1 0 1-1 1-3 1-5 1-6 1-7 1-8 1-7 1-6 1-6 1-3 1-2 1 0 1 2 1 4 1 6 1 6 1 8 1 7 1 7 1 6 1 5 1 2 1 1 1-1 1-3 1-4 1-6 1-7 1-8 1-7 1-7 1-5 1-4 1-2 1 0 1 2 1 4 1 5 1 7 1 7 1 7 1 7 1 6 1 5 1 3 1 1 1 0 1-3 1-5 1-6 1-7 1-7 1-7 1-7 1-6 1-4 1-2 1 0 1 1 1 4 1 5 1 7 1 7 1 7 1 8 1 6 1 5 1 3 1 1 1 0 1-3 1-4 1-6 1-7 1-7 1-8 1-7 1-5 1-5 1-2 1 0 1 1 1 4 1 5 1 6 1 7 1 8 1 7 1 6 1 5 1 4 1 1 1 0 1-3 1-4 1-6 1-6 1-8 1-7 1-7 1-6 1-4 1-3 1 0 1 1 1 3 1 5 1 6 1 8 1 7 1 7 1 7 1 5 1 4 1 1 1 0 1-2 1-4 1-6 1-7 1-7 1-7 1-7 1-6 1-5 1-3 1 0 1 1 1 3 1 5 1 6 1 7 1 7 1 8 1 6 1 6 1 3 1 2 1 0 1-2 1-4 1-5 1-7 1-7 1-8 1-7 1-6 1-4 1-3 1-1 1 1 1 2 1 5 1 6 1 7 1 8 1 7 1 7 1 5 1 4 1 2 1 0 1-2 1-3 1-6 1-6 1-7 1-8 1-7 1-6 1-5 1-3 1-1 1 0 1 3 1 5 1 6 1 6 1 8 1 7 1 7 1 6 1 4 1 2 1 0 1-1 1-4 1-5 1-7 1-7 1-7 1-7 1-7 1-5 1-3 1-1 1 0 1 3 1 4 1 6 1 7 1 7 1 7 1 7 1 6 1 4 1 3 1 0 1-1 1-3 1-6 1-6 1-7 1-7 1-8 1-6 1-5 1-4 1-1 1 0 1 2 1 5 1 5 1 7 1 7 1 8 1 7 1 6 1 4 1 3 1 0 1-1 1-3 1-5 1-6 1-7 1-8 1-7 1-6 1-6 1-3 1-2 1 0 1 2 1 4 1 6 1 6 1 8 1 7 1 7 1 6 1 5 1 3 1 0 1-1 1-3 1-4 1-7 1-7 1-7 1-7 1-7 1-5 1-4 1-2 1 0 1 2 1 4 1 5 1 7 1 7 1 7 1 7 1 7 1 4 1 3 1 1 1 0 1-3 1-5 1-6 1-7 1-7 1-8 1-6 1-6 1-4 1-2 1 0 1 2 1 3 1 5 1 7 1 7 1 8 1 7 1 6 1 5 1 3 1 1 1 0 1-3 1-4 1-6 1-7 1-8 1-7 1-7 1-5 1-5 1-2 1 0 1 1 1 4 1 5 1 6 1 7 1 8 1 7 1 6 1 5 1 4 1 1 1 0 1-3" stroke="#955050" vector-effect="non-scaling-stroke"/>
<path d="M0 4478h360" stroke="#5E9A5E" vector-effect="non-scaling-stroke"/>
<path d="M0 4476l1 3 1 3 1 2 1 0 1-1 1-2 1-3 1-3 1-2 1-1 1 1 1 2 1 3 1 3 1 2 1 1 1 0 1-2 1-3 1-3 1-2 1-2 1 0 1 2 1 2 1 3 1 3 1 2 1 0 1-1 1-2 1-3 1-3 1-2 1-1 1 1 1 2 1 3 1 3 1 2 1 1 1 0 1-2 1-3 1-3 1-2 1-2 1 0 1 2 1 2 1 3 1 3 1 2 1 0 1-1 1-2 1-3 1-3 1-2 1-1 1 1 1 2 1 3 1 3 1 2 1 1 1 0 1-2 1-3 1-3 1-2 1-2 1 0 1 2 1 2 1 3 1 3 1 2 1 0 1-1 1-2 1-3 1-3 1-2 1-1 1 1 1 2 1 3 1 3 1 2 1 1 1 0 1-2 1-3 1-3 1-2 1-2 1 0 1 2 1 2 1 3 1 3 1 2 1 0 1-1 1-2 1-3 1-3 1-2 1-1 1 1 1 2 1 3 1 3 1 2 1 1 1 0 1-2 1-3 1-3 1-2 1-2 1 0 1 2 1 2 1 3 1 3 1 2 1 0 1-1 1-2 1-3 1-3 1-2 1-1 1 1 1 2 1 3 1 3 1 2 1 1 1 0 1-2 1-3 1-3 1-2 1-2 1 0 1 2 1 2 1 3 1 3 1 2 1 0 1-1 1-2 1-3 1-3 1-2 1-1 1 1 1 2 1 3 1 3 1 2 1 1 1 0 1-2 1-3 1-3 1-2 1-2 1 0 1 2 1 2 1 3 1 3 1 2 1 0 1-1 1-2 1-3 1-3 1-2 1-1 1 1 1 2 1 3 1 3 1 2 1 1 1 0 1-2 1-3 1-3 1-2 1-2 1 0 1 2 1 2 1 3 1 3 1 2 1 0 1-1 1-2 1-3 1-3 1-2 1-1 1 1 1 2 1 3 1 3 1 2 1 1 1 0 1-2 1-3 1-3 1-2 1-2 1 0 1 2 1 2 1 3 1 3 1 2 1 0 1-1 1-2 1-3 1-3 1-2 1-1 1 1 1 2 1 3 1 3 1 2 1 1 1 0 1-2 1-3 1-3 1-2 1-2 1 0 1 2 1 2 1 3 1 3 1 2 1 0 1-1 1-2 1-3 1-3 1-2 1-1 1 1 1 2 1 3 1 3 1 2 1 1 1 0 1-2 1-3 1-3 1-2 1-2 1 0 1 2 1 2 1 3 1 3 1 2 1 0 1-1 1-2 1-3 1-3 1-2 1-1 1 1 1 2 1 3 1 3 1 2 1 1 1 0 1-2 1-3 1-3 1-2 1-2 1 0 1 2 1 2 1 3 1 3 1 2 1 0 1-1 1-2 1-3 1-3 1-2 1-1 1 1 1 2 1 3 1 3 1 2 1 1 1 0 1-2 1-3 1-3 1-2 1-2 1 0 1 2 1 2 1 3 1 3 1 2 1 0 1-1 1-2 1-3 1-3 1-2 1-1 1 1 1 2 1 3 1 3 1 2 1 1 1 0 1-2 1-3 1-3 1-2 1-2 1 0 1 2 1 2 1 3 1 3 1 2 1 0 1-1 1-2 1-3 1-3 1-2 1-1" stroke="#22A0D4" vector-effect="non-scaling-stroke"/>
<path d="M0 4477h360" stroke="#33669A" vector-effect="non-scaling-stroke"/>
<path d="M0 4479l1 2 1 1 1-1 1-1 1-2 1-2 1-1 1-1 1 1 1 1 1 2 1 2 1 1 1 1 1-1 1-2 1-2 1-1 1-2 1 0 1 1 1 2 1 2 1 2 1 1 1 0 1-2 1-1 1-2 1-2 1-1 1 1 1 1 1 2 1 2 1 1 1 1 1-1 1-1 1-2 1-2 1-1 1-1 1 1 1 2 1 2 1 1 1 2 1 0 1-1 1-2 1-2 1-2 1-1 1 0 1 1 1 2 1 2 1 2 1 1 1-1 1-1 1-2 1-2 1-1 1-1 1 1 1 1 1 2 1 2 1 1 1 1 1-1 1-2 1-2 1-1 1-2 1 0 1 1 1 2 1 2 1 2 1 1 1 0 1-1 1-2 1-2 1-2 1-1 1 0 1 2 1 2 1 2 1 1 1 1 1-1 1-1 1-2 1-2 1-1 1-1 1 1 1 1 1 2 1 2 1 2 1 0 1-1 1-2 1-2 1-2 1-1 1 0 1 1 1 2 1 2 1 2 1 1 1 0 1-2 1-2 1-2 1-1 1-1 1 1 1 1 1 2 1 2 1 1 1 1 1-1 1-1 1-2 1-2 1-2 1 0 1 1 1 2 1 2 1 2 1 1 1 0 1-1 1-2 1-2 1-2 1-1 1 0 1 2 1 2 1 2 1 1 1 1 1-1 1-1 1-2 1-2 1-1 1-1 1 1 1 1 1 2 1 2 1 2 1 0 1-1 1-2 1-2 1-2 1-1 1 0 1 1 1 2 1 2 1 2 1 1 1 0 1-2 1-2 1-2 1-1 1-1 1 1 1 1 1 2 1 2 1 1 1 1 1-1 1-1 1-2 1-2 1-2 1 0 1 1 1 2 1 2 1 2 1 1 1 0 1-1 1-2 1-2 1-2 1-1 1 0 1 2 1 2 1 2 1 1 1 1 1-1 1-1 1-2 1-2 1-1 1-1 1 1 1 1 1 2 1 2 1 2 1 0 1-1 1-2 1-2 1-2 1-1 1 0 1 1 1 2 1 2 1 2 1 1 1 0 1-2 1-2 1-2 1-1 1-1 1 1 1 1 1 2 1 2 1 1 1 1 1-1 1-1 1-2 1-2 1-2 1 0 1 1 1 2 1 2 1 2 1 1 1 0 1-1 1-2 1-2 1-2 1-1 1 0 1 2 1 1 1 2 1 2 1 1 1-1 1-1 1-2 1-2 1-1 1-1 1 1 1 1 1 2 1 2 1 1 1 1 1-1 1-2 1-2 1-2 1-1 1 0 1 1 1 2 1 2 1 2 1 1 1 0 1-2 1-1 1-2 1-2 1-1 1 1 1 1 1 2 1 2 1 1 1 1 1-1 1-1 1-2 1-2 1-1 1-1 1 1 1 2 1 2 1 1 1 2 1 0 1-1 1-2 1-2 1-2 1-1 1 0 1 2 1 1 1 2 1 2 1 1 1-1 1-1 1-2 1-2 1-1 1-1 1 1 1 1 1 2 1 2 1 1 1 1 1-1 1-2 1-2 1-1 1-2 1 0 1 1 1 2 1 2 1 2 1 1 1 0 1-2 1-1 1-2 1-2 1-1 1 1 1 1 1 2 1 2" stroke="#000000" vector-effect="non-scaling-stroke"/>
<path d="M0 4478h360" stroke="#FF0000" vector-effect="non-scaling-stroke"/>
<path d="M0 4479l1-1 1-1 1-1 1-1 1 1 1 1 1 1 1 1 1 1 1 1 1-1 1-1 1-1 1-1 1-1 1-1 1 1 1 1 1 1 1 1 1 1 1 1 1-1 1-1 1-1 1-1 1-1 1-1 1 1 1 1 1 1 1 1 1 1 1 1 1-1 1-1 1-1 1-1 1-1 1-1 1 1 1 1 1 1 1 1 1 1 1 1 1-1 1-1 1-1 1-1 1-1 1-1 1 1 1 1 1 1 1 1 1 1 1 1 1-1 1-1 1-1 1-1 1-1 1-1 1 1 1 1 1 1 1 1 1 1 1 1 1-1 1-1 1-1 1-1 1-1 1-1 1 1 1 1 1 1 1 1 1 1 1 1 1-1 1-1 1-1 1-1 1-1 1-1 1 1 1 1 1 1 1 1 1 1 1 1 1-1 1-1 1-1 1-1 1-1 1-1 1 1 1 1 1 1 1 1 1 1 1 1 1-1 1-1 1-1 1-1 1-1 1-1 1 1 1 1 1 1 1 1 1 1 1 1 1-1 1-1 1-1 1-1 1-1 1-1 1 1 1 1 1 1 1 1 1 1 1 1 1-1 1-1 1-1 1-1 1-1 1-1 1 1 1 1 1 1 1 1 1 1 1 1 1-1 1-1 1-1 1-1 1-1 1-1 1 1 1 1 1 1 1 1 1 1 1 1 1-1 1-1 1-1 1-1 1-1 1-1 1 1 1 1 1 1 1 1 1 1 1 1 1-1 1-1 1-1 1-1 1-1 1-1 1 1 1 1 1 1 1 1 1 1 1 1 1-1 1-1 1-1 1-1 1-1 1-1 1 1 1 1 1 1 1 1 1 1 1 1 1-1 1-1 1-1 1-1 1-1 1-1 1 1 1 1 1 1 1 1 1 1 1 1 1-1 1-1 1-1 1-1 1-1 1-1 1 1 1 1 1 1 1 1 1 1 1 1 1-1 1-1 1-1 1-1 1-1 1-1 1 1 1 1 1 1 1 1 1 1 1 1 1-1 1-1 1-1 1-1 1-1 1-1 1 1 1 1 1 1 1 1 1 1 1 1 1-1 1-1 1-1 1-1 1-1 1-1 1 1 1 1 1 1 1 1 1 1 1 1 1-1 1-1 1-1 1-1 1-1 1-1 1 1 1 1 1 1 1 1 1 1 1 1 1-1 1-1 1-1 1-1 1-1 1-1 1 1 1 1 1 1 1 1 1 1 1 1 1-1 1-1 1-1 1-1 1-1 1-1 1 1 1 1 1 1 1 1 1 1 1 1 1-1 1-1 1-1 1-1 1-1 1-1 1 1 1 1 1 1 1 1 1 1 1 1 1-1 1-1 1-1 1-1 1-1 1-1 1 1 1 1 1 1 1 1 1 1 1 1 1-1 1-1 1-1 1-1 1-1 1-1 1 1 1 1 1 1 1 1 1 1 1 1 1-1 1-1 1-1 1-1 1-1 1-1 1 1 1 1 1 1 1 1 1 1 1 1 1-1 1-1 1-1 1-1 1-1 1-1 1 1 1 1 1 1 1 1 1 1 1 1 1-1 1-1 1-1 1-1 1-1 1-1 1 1 1 1 1 1 1 1 1 1 1 1 1-1 1-1" stroke="#0000FF" vector-effect="non-scaling-stroke"/>
<path d="M0 4478h360" stroke="#0000FF" vector-effect="non-scaling-stroke"/>
<path d="M0 4478h360" stroke="#FF00FF" vector-effect="non-scaling-stroke"/>
<path d="M0 4478h360" stroke="#008000" vector-effect="non-scaling-stroke"/>
<path d="M0 4478h360" stroke="#000080" vector-effect="non-scaling-stroke"/>
<path d="M0 4477h360" stroke="#8000FF" vector-effect="non-scaling-stroke"/>
<path d="M0 4477h360" stroke="#800080" vector-effect="non-scaling-stroke"/>
<path d="M0 4478h360" stroke="#800000" vector-effect="non-scaling-stroke"/>
<path d="M0 4478h360" stroke="#808000" vector-effect="non-scaling-stroke"/>
<path d="M0 4478h360" stroke="#3A6AAA" vector-effect="non-scaling-stroke"/>
<path d="M0 4478h360" stroke="#2E9EA2" vector-effect="non-scaling-stroke"/>
</g>
</g>
<g clip-path="url(#zc4)" fill="none" stroke-width="1.4" stroke-linejoin="round">
<polyline points="1323.0,2307.6 1336.7,2285.4 1350.5,2243.2 1364.2,2191.5 1378.0,2143.3 1391.7,2110.7 1405.5,2101.8 1419.2,2118.8 1432.9,2157.6 1446.7,2208.3 1460.4,2258.3 1474.2,2295.1 1487.9,2309.4 1501.7,2297.6 1515.4,2262.8 1529.1,2213.6 1542.9,2162.3 1556.6,2121.9 1570.4,2102.3 1584.1,2108.6 1597.9,2139.2 1611.6,2186.3 1625.3,2238.3 1639.1,2282.0 1652.8,2306.5 1666.6,2305.7 1680.3,2279.8 1694.1,2235.3 1707.8,2183.2" stroke="#FF0000"/>
<polyline points="1323.0,2208.3 1336.7,2208.3 1350.5,2208.3 1364.2,2208.2 1378.0,2208.2 1391.7,2208.2 1405.5,2208.1 1419.2,2208.0 1432.9,2208.0 1446.7,2207.9 1460.4,2207.8 1474.2,2207.7 1487.9,2207.6 1501.7,2207.5 1515.4,2207.4 1529.1,2207.3 1542.9,2207.2 1556.6,2207.1 1570.4,2207.0 1584.1,2206.9 1597.9,2206.8 1611.6,2206.7 1625.3,2206.6 1639.1,2206.6 1652.8,2206.5 1666.6,2206.4 1680.3,2206.4 1694.1,2206.3 1707.8,2206.3" stroke="#0000FF"/>
<polyline points="1323.0,2207.8 1336.7,2207.7 1350.5,2207.5 1364.2,2207.4 1378.0,2207.2 1391.7,2207.1 1405.5,2206.9 1419.2,2206.8 1432.9,2206.7 1446.7,2206.6 1460.4,2206.6 1474.2,2206.6 1487.9,2206.6 1501.7,2206.7 1515.4,2206.8 1529.1,2206.9 1542.9,2207.1 1556.6,2207.2 1570.4,2207.4 1584.1,2207.5 1597.9,2207.7 1611.6,2207.8 1625.3,2207.8 1639.1,2207.9 1652.8,2207.9 1666.6,2207.8 1680.3,2207.7 1694.1,2207.6 1707.8,2207.5" stroke="#008000"/>
<polyline points="1323.0,2221.3 1336.7,2226.2 1350.5,2219.4 1364.2,2204.7 1378.0,2190.5 1391.7,2184.6 1405.5,2190.5 1419.2,2204.7 1432.9,2219.4 1446.7,2226.2 1460.4,2221.3 1474.2,2207.5 1487.9,2192.6 1501.7,2184.8 1515.4,2188.6 1529.1,2201.9 1542.9,2217.1 1556.6,2225.8 1570.4,2223.0 1584.1,2210.3 1597.9,2194.9 1611.6,2185.4 1625.3,2187.1 1639.1,2199.2 1652.8,2214.7 1666.6,2225.0 1680.3,2224.3 1694.1,2213.0 1707.8,2197.4" stroke="#000080"/>
<polyline points="1323.0,2205.5 1336.7,2205.4 1350.5,2205.3 1364.2,2205.2 1378.0,2205.1 1391.7,2204.9 1405.5,2204.7 1419.2,2204.6 1432.9,2204.4 1446.7,2204.3 1460.4,2204.2 1474.2,2204.2 1487.9,2204.1 1501.7,2204.2 1515.4,2204.2 1529.1,2204.3 1542.9,2204.4 1556.6,2204.6 1570.4,2204.7 1584.1,2204.9 1597.9,2205.0 1611.6,2205.2 1625.3,2205.3 1639.1,2205.4 1652.8,2205.4 1666.6,2205.5 1680.3,2205.4 1694.1,2205.4 1707.8,2205.3" stroke="#8000FF"/>
<polyline points="1323.0,2217.4 1336.7,2212.4 1350.5,2205.4 1364.2,2198.5 1378.0,2193.4 1391.7,2191.6 1405.5,2193.4 1419.2,2198.5 1432.9,2205.4 1446.7,2212.4 1460.4,2217.4 1474.2,2219.3 1487.9,2217.4 1501.7,2212.4 1515.4,2205.4 1529.1,2198.5 1542.9,2193.4 1556.6,2191.6 1570.4,2193.4 1584.1,2198.5 1597.9,2205.4 1611.6,2212.4 1625.3,2217.4 1639.1,2219.3 1652.8,2217.4 1666.6,2212.4 1680.3,2205.4 1694.1,2198.5 1707.8,2193.4" stroke="#800080"/>
<polyline points="1323.0,2205.8 1336.7,2205.7 1350.5,2205.7 1364.2,2205.6 1378.0,2205.6 1391.7,2205.6 1405.5,2205.6 1419.2,2205.6 1432.9,2205.7 1446.7,2205.7 1460.4,2205.8 1474.2,2205.9 1487.9,2205.9 1501.7,2206.0 1515.4,2206.0 1529.1,2206.1 1542.9,2206.1 1556.6,2206.1 1570.4,2206.1 1584.1,2206.1 1597.9,2206.1 1611.6,2206.1 1625.3,2206.0 1639.1,2206.0 1652.8,2205.9 1666.6,2205.8 1680.3,2205.8 1694.1,2205.7 1707.8,2205.6" stroke="#800000"/>
<polyline points="1323.0,2204.2 1336.7,2204.6 1350.5,2205.1 1364.2,2205.7 1378.0,2206.1 1391.7,2206.3 1405.5,2206.2 1419.2,2205.9 1432.9,2205.4 1446.7,2204.8 1460.4,2204.3 1474.2,2204.1 1487.9,2204.1 1501.7,2204.3 1515.4,2204.8 1529.1,2205.3 1542.9,2205.8 1556.6,2206.2 1570.4,2206.3 1584.1,2206.1 1597.9,2205.7 1611.6,2205.2 1625.3,2204.6 1639.1,2204.2 1652.8,2204.0 1666.6,2204.1 1680.3,2204.5 1694.1,2205.0 1707.8,2205.5" stroke="#808000"/>
<polyline points="1323.0,2205.1 1336.7,2205.0 1350.5,2204.9 1364.2,2204.6 1378.0,2204.4 1391.7,2204.1 1405.5,2203.9 1419.2,2203.6 1432.9,2203.4 1446.7,2203.3 1460.4,2203.2 1474.2,2203.2 1487.9,2203.2 1501.7,2203.4 1515.4,2203.5 1529.1,2203.7 1542.9,2204.0 1556.6,2204.3 1570.4,2204.5 1584.1,2204.7 1597.9,2204.9 1611.6,2205.1 1625.3,2205.2 1639.1,2205.2 1652.8,2205.1 1666.6,2205.0 1680.3,2204.8 1694.1,2204.6 1707.8,2204.4" stroke="#3A6AAA"/>
<polyline points="1323.0,2205.9 1336.7,2206.5 1350.5,2207.0 1364.2,2207.3 1378.0,2207.4 1391.7,2207.1 1405.5,2206.6 1419.2,2206.0 1432.9,2205.5 1446.7,2205.1 1460.4,2205.0 1474.2,2205.2 1487.9,2205.7 1501.7,2206.3 1515.4,2206.8 1529.1,2207.2 1542.9,2207.4 1556.6,2207.2 1570.4,2206.8 1584.1,2206.3 1597.9,2205.7 1611.6,2205.2 1625.3,2205.0 1639.1,2205.1 1652.8,2205.5 1666.6,2206.0 1680.3,2206.6 1694.1,2207.1 1707.8,2207.4" stroke="#2E9EA2"/>
<polyline points="1323.0,2205.5 1336.7,2205.4 1350.5,2205.3 1364.2,2205.2 1378.0,2205.1 1391.7,2205.0 1405.5,2204.9 1419.2,2204.8 1432.9,2204.8 1446.7,2204.8 1460.4,2204.7 1474.2,2204.8 1487.9,2204.8 1501.7,2204.9 1515.4,2205.0 1529.1,2205.1 1542.9,2205.2 1556.6,2205.3 1570.4,2205.4 1584.1,2205.4 1597.9,2205.5 1611.6,2205.5 1625.3,2205.5 1639.1,2205.5 1652.8,2205.5 1666.6,2205.4 1680.3,2205.3 1694.1,2205.2 1707.8,2205.1" stroke="#A0692E"/>
<polyline points="1323.0,2145.7 1336.7,2193.7 1350.5,2252.6 1364.2,2267.3 1378.0,2223.8 1391.7,2163.1 1405.5,2142.1 1419.2,2180.6 1432.9,2242.4 1446.7,2269.5 1460.4,2236.4 1474.2,2174.2 1487.9,2141.4 1501.7,2168.7 1515.4,2230.5 1529.1,2268.8 1542.9,2247.5 1556.6,2186.7 1570.4,2143.5 1584.1,2158.4 1597.9,2217.5 1611.6,2265.2 1625.3,2256.8 1639.1,2200.1 1652.8,2148.4 1666.6,2150.3 1680.3,2204.0 1694.1,2259.0 1707.8,2263.7" stroke="#18CC2A"/>
<polyline points="1323.0,2243.1 1336.7,2216.1 1350.5,2178.7 1364.2,2167.3 1378.0,2192.8 1391.7,2230.6 1405.5,2243.9 1419.2,2220.0 1432.9,2181.9 1446.7,2166.6 1460.4,2189.0 1474.2,2227.3 1487.9,2244.4 1501.7,2223.7 1515.4,2185.3 1529.1,2166.4 1542.9,2185.3 1556.6,2223.7 1570.4,2244.4 1584.1,2227.3 1597.9,2189.0 1611.6,2166.6 1625.3,2181.9 1639.1,2220.0 1652.8,2243.9 1666.6,2230.6 1680.3,2192.8 1694.1,2167.3 1707.8,2178.7" stroke="#BB1A7E"/>
<polyline points="1323.0,2216.6 1336.7,2206.2 1350.5,2195.8 1364.2,2185.5 1378.0,2175.1 1391.7,2164.7 1405.5,2154.4 1419.2,2144.0 1432.9,2133.7 1446.7,2123.4 1460.4,2113.1 1474.2,2102.9 1487.9,2092.7 1501.7,2082.5 1515.4,2072.4 1529.1,2062.3 1542.9,2052.2 1556.6,2042.2 1570.4,2032.3 1584.1,2022.4 1597.9,2012.5 1611.6,2002.8 1625.3,1993.0 1639.1,1983.4 1652.8,1973.8 1666.6,1964.3 1680.3,1954.9 1694.1,1945.5 1707.8,1936.3" stroke="#22C0D0"/>
<polyline points="1323.0,2142.5 1336.7,2141.4 1350.5,2144.0 1364.2,2150.3 1378.0,2159.8 1391.7,2172.0 1405.5,2186.1 1419.2,2201.4 1432.9,2217.0 1446.7,2231.8 1460.4,2245.1 1474.2,2256.1 1487.9,2264.1 1501.7,2268.6 1515.4,2269.4 1529.1,2266.4 1542.9,2259.9 1556.6,2250.1 1570.4,2237.7 1584.1,2223.4 1597.9,2208.0 1611.6,2192.5 1625.3,2177.7 1639.1,2164.6 1652.8,2153.9 1666.6,2146.2 1680.3,2142.0 1694.1,2141.6 1707.8,2144.9" stroke="#8E9E12"/>
<polyline points="1323.0,2187.4 1336.7,2180.3 1350.5,2187.4 1364.2,2204.6 1378.0,2222.3 1391.7,2230.5 1405.5,2224.6 1419.2,2208.0 1432.9,2189.9 1446.7,2180.5 1460.4,2185.2 1474.2,2201.2 1487.9,2219.6 1501.7,2230.0 1515.4,2226.7 1529.1,2211.4 1542.9,2192.7 1556.6,2181.2 1570.4,2183.3 1584.1,2197.9 1597.9,2216.6 1611.6,2229.1 1625.3,2228.3 1639.1,2214.6 1652.8,2195.8 1666.6,2182.4 1680.3,2181.9 1694.1,2194.7 1707.8,2213.5" stroke="#808080"/>
<polyline points="1323.0,2250.2 1336.7,2262.5 1350.5,2270.6 1364.2,2273.8 1378.0,2272.1 1391.7,2265.4 1405.5,2254.3 1419.2,2239.7 1432.9,2222.5 1446.7,2204.0 1460.4,2185.7 1474.2,2168.8 1487.9,2154.6 1501.7,2144.2 1515.4,2138.2 1529.1,2137.2 1542.9,2141.2 1556.6,2149.9 1570.4,2162.7 1584.1,2178.7 1597.9,2196.6 1611.6,2215.2 1625.3,2233.0 1639.1,2248.8 1652.8,2261.5 1666.6,2270.0 1680.3,2273.7 1694.1,2272.5 1707.8,2266.3" stroke="#955050"/>
<polyline points="1323.0,2206.3 1336.7,2206.5 1350.5,2206.6 1364.2,2206.8 1378.0,2206.9 1391.7,2207.0 1405.5,2207.1 1419.2,2207.1 1432.9,2207.1 1446.7,2207.1 1460.4,2207.0 1474.2,2206.8 1487.9,2206.7 1501.7,2206.5 1515.4,2206.3 1529.1,2206.1 1542.9,2206.0 1556.6,2205.9 1570.4,2205.8 1584.1,2205.7 1597.9,2205.7 1611.6,2205.7 1625.3,2205.7 1639.1,2205.8 1652.8,2206.0 1666.6,2206.1 1680.3,2206.3 1694.1,2206.5 1707.8,2206.7" stroke="#5E9A5E"/>
<polyline points="1323.0,2204.5 1336.7,2197.3 1350.5,2192.1 1364.2,2190.2 1378.0,2192.1 1391.7,2197.3 1405.5,2204.5 1419.2,2211.9 1432.9,2217.8 1446.7,2220.6 1460.4,2219.6 1474.2,2215.1 1487.9,2208.3 1501.7,2200.7 1515.4,2194.3 1529.1,2190.7 1542.9,2190.7 1556.6,2194.3 1570.4,2200.7 1584.1,2208.3 1597.9,2215.1 1611.6,2219.6 1625.3,2220.6 1639.1,2217.8 1652.8,2211.9 1666.6,2204.5 1680.3,2197.3 1694.1,2192.1 1707.8,2190.2" stroke="#22A0D4"/>
<polyline points="1323.0,2203.1 1336.7,2203.1 1350.5,2203.0 1364.2,2202.9 1378.0,2202.7 1391.7,2202.4 1405.5,2202.2 1419.2,2201.9 1432.9,2201.6 1446.7,2201.3 1460.4,2201.1 1474.2,2200.9 1487.9,2200.8 1501.7,2200.8 1515.4,2200.8 1529.1,2200.9 1542.9,2201.0 1556.6,2201.2 1570.4,2201.5 1584.1,2201.8 1597.9,2202.1 1611.6,2202.3 1625.3,2202.6 1639.1,2202.8 1652.8,2203.0 1666.6,2203.1 1680.3,2203.1 1694.1,2203.1 1707.8,2203.0" stroke="#33669A"/>
<polyline points="1323.0,2197.3 1336.7,2195.9 1350.5,2197.3 1364.2,2201.0 1378.0,2205.9 1391.7,2210.8 1405.5,2214.1 1419.2,2214.9 1432.9,2213.0 1446.7,2209.0 1460.4,2203.9 1474.2,2199.3 1487.9,2196.4 1501.7,2196.1 1515.4,2198.5 1529.1,2202.8 1542.9,2207.9 1556.6,2212.3 1570.4,2214.7 1584.1,2214.5 1597.9,2211.6 1611.6,2207.0 1625.3,2202.0 1639.1,2197.9 1652.8,2196.0 1666.6,2196.7 1680.3,2200.0 1694.1,2204.8 1707.8,2209.8" stroke="#000000"/>
<polyline points="1323.0,2204.7 1336.7,2204.8 1350.5,2204.9 1364.2,2204.9 1378.0,2204.9 1391.7,2204.9 1405.5,2204.8 1419.2,2204.7 1432.9,2204.6 1446.7,2204.5 1460.4,2204.3 1474.2,2204.2 1487.9,2204.1 1501.7,2204.0 1515.4,2203.9 1529.1,2203.8 1542.9,2203.8 1556.6,2203.9 1570.4,2204.0 1584.1,2204.1 1597.9,2204.2 1611.6,2204.3 1625.3,2204.5 1639.1,2204.6 1652.8,2204.7 1666.6,2204.8 1680.3,2204.9 1694.1,2204.9 1707.8,2204.9" stroke="#FF0000"/>
<polyline points="1323.0,2208.9 1336.7,2211.4 1350.5,2212.4 1364.2,2211.4 1378.0,2208.9 1391.7,2205.4 1405.5,2202.0 1419.2,2199.4 1432.9,2198.5 1446.7,2199.4 1460.4,2202.0 1474.2,2205.4 1487.9,2208.9 1501.7,2211.4 1515.4,2212.4 1529.1,2211.4 1542.9,2208.9 1556.6,2205.4 1570.4,2202.0 1584.1,2199.4 1597.9,2198.5 1611.6,2199.4 1625.3,2202.0 1639.1,2205.4 1652.8,2208.9 1666.6,2211.4 1680.3,2212.4 1694.1,2211.4 1707.8,2208.9" stroke="#0000FF"/>
<polyline points="1323.0,2206.0 1336.7,2205.8 1350.5,2205.8 1364.2,2206.1 1378.0,2206.4 1391.7,2206.6 1405.5,2206.7 1419.2,2206.5 1432.9,2206.1 1446.7,2205.9 1460.4,2205.8 1474.2,2206.0 1487.9,2206.3 1501.7,2206.6 1515.4,2206.7 1529.1,2206.5 1542.9,2206.2 1556.6,2205.9 1570.4,2205.8 1584.1,2205.9 1597.9,2206.2 1611.6,2206.5 1625.3,2206.7 1639.1,2206.6 1652.8,2206.3 1666.6,2206.0 1680.3,2205.8 1694.1,2205.8 1707.8,2206.1" stroke="#0000FF"/>
<polyline points="1323.0,2206.2 1336.7,2206.4 1350.5,2206.2 1364.2,2205.6 1378.0,2205.0 1391.7,2204.7 1405.5,2204.8 1419.2,2205.4 1432.9,2206.0 1446.7,2206.4 1460.4,2206.3 1474.2,2205.8 1487.9,2205.1 1501.7,2204.7 1515.4,2204.7 1529.1,2205.2 1542.9,2205.9 1556.6,2206.3 1570.4,2206.4 1584.1,2205.9 1597.9,2205.3 1611.6,2204.8 1625.3,2204.7 1639.1,2205.0 1652.8,2205.7 1666.6,2206.2 1680.3,2206.4 1694.1,2206.1 1707.8,2205.5" stroke="#FF00FF"/>
<polyline points="1323.0,2206.0 1336.7,2205.8 1350.5,2205.3 1364.2,2205.0 1378.0,2205.2 1391.7,2205.7 1405.5,2206.0 1419.2,2205.9 1432.9,2205.4 1446.7,2205.0 1460.4,2205.1 1474.2,2205.6 1487.9,2206.0 1501.7,2206.0 1515.4,2205.5 1529.1,2205.0 1542.9,2205.0 1556.6,2205.4 1570.4,2205.9 1584.1,2206.0 1597.9,2205.6 1611.6,2205.1 1625.3,2205.0 1639.1,2205.3 1652.8,2205.8 1666.6,2206.0 1680.3,2205.7 1694.1,2205.2 1707.8,2205.0" stroke="#008000"/>
<polyline points="1323.0,2205.5 1336.7,2205.3 1350.5,2205.3 1364.2,2205.5 1378.0,2205.8 1391.7,2206.3 1405.5,2206.7 1419.2,2207.0 1432.9,2207.0 1446.7,2206.9 1460.4,2206.5 1474.2,2206.1 1487.9,2205.7 1501.7,2205.3 1515.4,2205.2 1529.1,2205.4 1542.9,2205.7 1556.6,2206.1 1570.4,2206.5 1584.1,2206.9 1597.9,2207.0 1611.6,2207.0 1625.3,2206.7 1639.1,2206.3 1652.8,2205.8 1666.6,2205.5 1680.3,2205.3 1694.1,2205.3 1707.8,2205.5" stroke="#000080"/>
<polyline points="1323.0,2202.8 1336.7,2202.7 1350.5,2203.1 1364.2,2204.0 1378.0,2204.7 1391.7,2204.9 1405.5,2204.5 1419.2,2203.7 1432.9,2203.0 1446.7,2202.6 1460.4,2203.0 1474.2,2203.7 1487.9,2204.5 1501.7,2204.9 1515.4,2204.7 1529.1,2204.0 1542.9,2203.1 1556.6,2202.7 1570.4,2202.8 1584.1,2203.5 1597.9,2204.3 1611.6,2204.9 1625.3,2204.8 1639.1,2204.2 1652.8,2203.4 1666.6,2202.7 1680.3,2202.7 1694.1,2203.3 1707.8,2204.1" stroke="#8000FF"/>
<polyline points="1323.0,2202.4 1336.7,2202.3 1350.5,2202.3 1364.2,2202.3 1378.0,2202.3 1391.7,2202.2 1405.5,2202.2 1419.2,2202.2 1432.9,2202.2 1446.7,2202.2 1460.4,2202.2 1474.2,2202.2 1487.9,2202.1 1501.7,2202.1 1515.4,2202.1 1529.1,2202.1 1542.9,2202.1 1556.6,2202.2 1570.4,2202.2 1584.1,2202.2 1597.9,2202.2 1611.6,2202.2 1625.3,2202.2 1639.1,2202.3 1652.8,2202.3 1666.6,2202.3 1680.3,2202.3 1694.1,2202.4 1707.8,2202.4" stroke="#800080"/>
<polyline points="1323.0,2205.7 1336.7,2205.7 1350.5,2205.6 1364.2,2205.5 1378.0,2205.3 1391.7,2205.2 1405.5,2205.0 1419.2,2204.8 1432.9,2204.7 1446.7,2204.6 1460.4,2204.5 1474.2,2204.5 1487.9,2204.5 1501.7,2204.5 1515.4,2204.6 1529.1,2204.8 1542.9,2204.9 1556.6,2205.1 1570.4,2205.2 1584.1,2205.4 1597.9,2205.5 1611.6,2205.6 1625.3,2205.7 1639.1,2205.8 1652.8,2205.7 1666.6,2205.7 1680.3,2205.6 1694.1,2205.5 1707.8,2205.3" stroke="#800000"/>
<polyline points="1323.0,2204.7 1336.7,2204.8 1350.5,2204.8 1364.2,2204.9 1378.0,2204.9 1391.7,2205.0 1405.5,2205.0 1419.2,2205.0 1432.9,2205.1 1446.7,2205.1 1460.4,2205.1 1474.2,2205.1 1487.9,2205.1 1501.7,2205.1 1515.4,2205.1 1529.1,2205.0 1542.9,2205.0 1556.6,2205.0 1570.4,2204.9 1584.1,2204.9 1597.9,2204.8 1611.6,2204.8 1625.3,2204.7 1639.1,2204.7 1652.8,2204.6 1666.6,2204.6 1680.3,2204.5 1694.1,2204.5 1707.8,2204.4" stroke="#808000"/>
<polyline points="1323.0,2205.6 1336.7,2205.7 1350.5,2205.7 1364.2,2205.8 1378.0,2205.9 1391.7,2205.9 1405.5,2206.0 1419.2,2206.0 1432.9,2206.1 1446.7,2206.1 1460.4,2206.2 1474.2,2206.2 1487.9,2206.3 1501.7,2206.3 1515.4,2206.4 1529.1,2206.4 1542.9,2206.4 1556.6,2206.4 1570.4,2206.5 1584.1,2206.5 1597.9,2206.5 1611.6,2206.5 1625.3,2206.5 1639.1,2206.5 1652.8,2206.5 1666.6,2206.4 1680.3,2206.4 1694.1,2206.4 1707.8,2206.3" stroke="#3A6AAA"/>
<polyline points="1323.0,2205.2 1336.7,2204.6 1350.5,2204.3 1364.2,2204.5 1378.0,2205.2 1391.7,2205.9 1405.5,2206.2 1419.2,2206.1 1432.9,2205.4 1446.7,2204.7 1460.4,2204.3 1474.2,2204.4 1487.9,2205.0 1501.7,2205.7 1515.4,2206.2 1529.1,2206.2 1542.9,2205.6 1556.6,2204.9 1570.4,2204.4 1584.1,2204.3 1597.9,2204.8 1611.6,2205.5 1625.3,2206.1 1639.1,2206.2 1652.8,2205.8 1666.6,2205.1 1680.3,2204.5 1694.1,2204.3 1707.8,2204.6" stroke="#2E9EA2"/>
</g>
<g stroke="#000" stroke-width="2" fill="none" stroke-linecap="square">
<path d="M98.0 2030.5H1266.8V2378.0H98.0" stroke-linecap="butt"/>
<path d="M99.0 2029.5V2388.0" stroke="#2e2e2e" stroke-linecap="butt"/>
<path d="M99.0 2378.0v10M196.3 2378.0v5M293.6 2378.0v10M390.9 2378.0v5M488.3 2378.0v10M585.6 2378.0v5M682.9 2378.0v10M780.2 2378.0v5M877.5 2378.0v10M974.8 2378.0v5M1072.2 2378.0v10M1169.5 2378.0v5M1266.8 2378.0v10M99.0 2378.0h-10M99.0 2343.2h-5M99.0 2308.5h-10M99.0 2273.8h-5M99.0 2239.0h-10M99.0 2204.2h-5M99.0 2169.5h-10M99.0 2134.8h-5M99.0 2100.0h-10M99.0 2065.2h-5M99.0 2030.5h-10" stroke-linecap="butt"/>
</g>
<g stroke="#000" stroke-width="2" fill="none">
<rect x="1323.0" y="2032.1" width="384.8" height="346.7"/>
<path d="M1323.0 2378.8v6.5M1350.5 2378.8v4.0M1378.0 2378.8v6.5M1405.5 2378.8v4.0M1432.9 2378.8v6.5M1460.4 2378.8v4.0M1487.9 2378.8v6.5M1515.4 2378.8v4.0M1542.9 2378.8v6.5M1570.4 2378.8v4.0M1597.9 2378.8v6.5M1625.3 2378.8v4.0M1652.8 2378.8v6.5M1680.3 2378.8v4.0M1707.8 2378.8v6.5M1707.8 2378.8h6.5M1707.8 2335.4h4.0M1707.8 2292.1h6.5M1707.8 2248.8h4.0M1707.8 2205.4h6.5M1707.8 2162.1h4.0M1707.8 2118.8h6.5M1707.8 2075.4h4.0M1707.8 2032.1h6.5"/>
</g>
<g stroke="#000" stroke-width="2" fill="none" stroke-dasharray="7.5 9.5">
<path d="M1266.8 2208.3H1172.5V2268.0H1266.8" stroke-dashoffset="-3"/>
<path d="M1321.5 2046.1L1266.8 2208.3" stroke-dasharray="8 11"/>
<path d="M1172.5 2268.0L1320 2375.2" stroke-dasharray="8 11"/>
</g>
<g font-size="23.3" letter-spacing="0.35" stroke="#000" stroke-width="0.35">
<text x="99.2" y="2411.5" text-anchor="middle">0</text>
<text x="293.8" y="2411.5" text-anchor="middle">60</text>
<text x="488.5" y="2411.5" text-anchor="middle">120</text>
<text x="683.1" y="2411.5" text-anchor="middle">180</text>
<text x="877.7" y="2411.5" text-anchor="middle">240</text>
<text x="1072.4" y="2411.5" text-anchor="middle">300</text>
<text x="1267.0" y="2411.5" text-anchor="middle">360</text>
<text x="82.4" y="2383.2" text-anchor="end">-40</text>
<text x="82.4" y="2313.7" text-anchor="end">-20</text>
<text x="82.4" y="2244.2" text-anchor="end">0</text>
<text x="82.4" y="2174.7" text-anchor="end">20</text>
<text x="82.4" y="2105.2" text-anchor="end">40</text>
<text x="82.4" y="2035.7" text-anchor="end">60</text>
<text x="1323.2" y="2406.2" text-anchor="middle">332</text>
<text x="1378.2" y="2406.2" text-anchor="middle">336</text>
<text x="1433.1" y="2406.2" text-anchor="middle">340</text>
<text x="1488.1" y="2406.2" text-anchor="middle">344</text>
<text x="1543.1" y="2406.2" text-anchor="middle">348</text>
<text x="1598.1" y="2406.2" text-anchor="middle">352</text>
<text x="1653.0" y="2406.2" text-anchor="middle">356</text>
<text x="1708.0" y="2406.2" text-anchor="middle">360</text>
<text x="1718.2" y="2383.9">-10</text>
<text x="1718.2" y="2297.3">-5</text>
<text x="1718.2" y="2210.6">0</text>
<text x="1718.2" y="2124.0">5</text>
<text x="1718.2" y="2037.3">10</text>
<text x="683" y="2437.7" text-anchor="middle" letter-spacing="0" font-size="22.8">t (h)</text>
<text x="1515" y="2437.7" text-anchor="middle" letter-spacing="0" font-size="22.8">t (h)</text>
<text transform="translate(21 2260.3) rotate(-90)" letter-spacing="0" font-size="22.6"><tspan letter-spacing="-2.2">SSC</tspan><tspan letter-spacing="4.2"> </tspan><tspan letter-spacing="0.84">(mg/L)</tspan></text>
<text transform="translate(1771.5 2156.6) rotate(90)" letter-spacing="0" font-size="22.6"><tspan letter-spacing="-2.3">SSC</tspan><tspan letter-spacing="3.1"> </tspan><tspan letter-spacing="6.15">(mg/L</tspan>)</text>
</g>
<text x="824.3" y="2491.0" font-size="35" stroke="#000" stroke-width="0.3">(e) Site C5</text>
<g stroke-width="2">
<line x1="1799.5" y1="1361.2" x2="1855" y2="1361.2" stroke="#000000"/>
<line x1="1799.5" y1="1390.9" x2="1855" y2="1390.9" stroke="#FF0000"/>
<line x1="1799.5" y1="1420.6" x2="1855" y2="1420.6" stroke="#0000FF"/>
<line x1="1799.5" y1="1450.3" x2="1855" y2="1450.3" stroke="#FF00FF"/>
<line x1="1799.5" y1="1480.0" x2="1855" y2="1480.0" stroke="#008000"/>
<line x1="1799.5" y1="1509.8" x2="1855" y2="1509.8" stroke="#000080"/>
<line x1="1799.5" y1="1539.5" x2="1855" y2="1539.5" stroke="#8000FF"/>
<line x1="1799.5" y1="1569.2" x2="1855" y2="1569.2" stroke="#800080"/>
<line x1="1799.5" y1="1598.9" x2="1855" y2="1598.9" stroke="#800000"/>
<line x1="1799.5" y1="1628.6" x2="1855" y2="1628.6" stroke="#808000"/>
<line x1="1799.5" y1="1658.3" x2="1855" y2="1658.3" stroke="#3A6AAA"/>
<line x1="1799.5" y1="1688.0" x2="1855" y2="1688.0" stroke="#2E9EA2"/>
<line x1="1799.5" y1="1717.7" x2="1855" y2="1717.7" stroke="#A0692E"/>
<line x1="1799.5" y1="1747.4" x2="1855" y2="1747.4" stroke="#18CC2A"/>
<line x1="1799.5" y1="1777.1" x2="1855" y2="1777.1" stroke="#BB1A7E"/>
<line x1="1799.5" y1="1806.9" x2="1855" y2="1806.9" stroke="#22C0D0"/>
<line x1="1799.5" y1="1836.6" x2="1855" y2="1836.6" stroke="#1E1E9A"/>
<line x1="1799.5" y1="1866.3" x2="1855" y2="1866.3" stroke="#8E9E12"/>
<line x1="1799.5" y1="1896.0" x2="1855" y2="1896.0" stroke="#808080"/>
<line x1="1799.5" y1="1925.7" x2="1855" y2="1925.7" stroke="#955050"/>
<line x1="1799.5" y1="1955.4" x2="1855" y2="1955.4" stroke="#5E9A5E"/>
<line x1="1799.5" y1="1985.1" x2="1855" y2="1985.1" stroke="#22A0D4"/>
<line x1="1799.5" y1="2014.8" x2="1855" y2="2014.8" stroke="#33669A"/>
<line x1="1799.5" y1="2044.5" x2="1855" y2="2044.5" stroke="#000000"/>
<line x1="1799.5" y1="2074.2" x2="1855" y2="2074.2" stroke="#FF0000"/>
<line x1="1799.5" y1="2103.9" x2="1855" y2="2103.9" stroke="#0000FF"/>
<line x1="1799.5" y1="2133.7" x2="1855" y2="2133.7" stroke="#FF00FF"/>
<line x1="1799.5" y1="2163.4" x2="1855" y2="2163.4" stroke="#008000"/>
<line x1="1799.5" y1="2193.1" x2="1855" y2="2193.1" stroke="#000080"/>
<line x1="1799.5" y1="2222.8" x2="1855" y2="2222.8" stroke="#8000FF"/>
<line x1="1799.5" y1="2252.5" x2="1855" y2="2252.5" stroke="#800080"/>
<line x1="1799.5" y1="2282.2" x2="1855" y2="2282.2" stroke="#800000"/>
<line x1="1799.5" y1="2311.9" x2="1855" y2="2311.9" stroke="#808000"/>
<line x1="1799.5" y1="2341.6" x2="1855" y2="2341.6" stroke="#3A6AAA"/>
<line x1="1799.5" y1="2371.3" x2="1855" y2="2371.3" stroke="#2E9EA2"/>
</g><g font-size="23.2" stroke="#000" stroke-width="0.3">
<text x="1860.6" y="1370.1">E1</text>
<text x="1860.6" y="1399.8">E2</text>
<text x="1860.6" y="1429.5">E3</text>
<text x="1860.6" y="1459.2">E4</text>
<text x="1860.6" y="1488.9">E5</text>
<text x="1860.6" y="1518.7">E6</text>
<text x="1860.6" y="1548.4">E7</text>
<text x="1860.6" y="1578.1">E8</text>
<text x="1860.6" y="1607.8">E9</text>
<text x="1860.6" y="1637.5">E10</text>
<text x="1860.6" y="1667.2">E11</text>
<text x="1860.6" y="1696.9">E12</text>
<text x="1860.6" y="1726.6">E13</text>
<text x="1860.6" y="1756.3">E14</text>
<text x="1860.6" y="1786.0">E15</text>
<text x="1860.6" y="1815.8">E16</text>
<text x="1860.6" y="1845.5">E17</text>
<text x="1860.6" y="1875.2">E18</text>
<text x="1860.6" y="1904.9">E19</text>
<text x="1860.6" y="1934.6">E20</text>
<text x="1860.6" y="1964.3">E21</text>
<text x="1860.6" y="1994.0">E22</text>
<text x="1860.6" y="2023.7">E23</text>
<text x="1860.6" y="2053.4">E24</text>
<text x="1860.6" y="2083.1">E25</text>
<text x="1860.6" y="2112.8">E26</text>
<text x="1860.6" y="2142.6">E27</text>
<text x="1860.6" y="2172.3">E28</text>
<text x="1860.6" y="2202.0">E29</text>
<text x="1860.6" y="2231.7">E30</text>
<text x="1860.6" y="2261.4">E31</text>
<text x="1860.6" y="2291.1">E32</text>
<text x="1860.6" y="2320.8">E33</text>
<text x="1860.6" y="2350.5">E34</text>
<text x="1860.6" y="2380.2">E35</text>
</g>
</svg></body></html>
